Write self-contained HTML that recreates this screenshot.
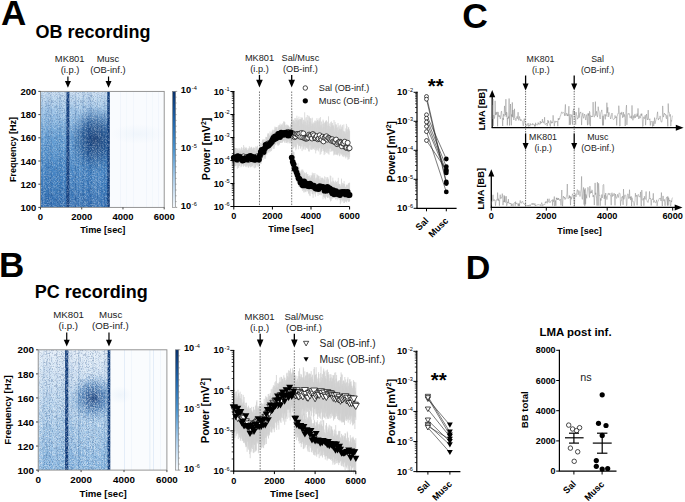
<!DOCTYPE html>
<html><head><meta charset="utf-8"><style>
html,body{margin:0;padding:0;background:#fff;overflow:hidden;}
svg{display:block;font-family:"Liberation Sans", sans-serif;}
</style></head><body>
<svg width="685" height="502" viewBox="0 0 685 502">
<text x="0.9" y="24.8" font-size="35" font-weight="700" text-anchor="start" fill="#000" >A</text>
<text x="-0.9" y="277.4" font-size="35" font-weight="700" text-anchor="start" fill="#000" >B</text>
<text x="462.3" y="27.6" font-size="35.5" font-weight="700" text-anchor="start" fill="#000" >C</text>
<text x="465.8" y="279.3" font-size="34" font-weight="700" text-anchor="start" fill="#000" >D</text>
<text x="35.5" y="38.0" font-size="18" font-weight="700" text-anchor="start" fill="#000" >OB recording</text>
<text x="34.8" y="297.5" font-size="18" font-weight="700" text-anchor="start" fill="#000" >PC recording</text>
<defs><linearGradient id="cbg" x1="0" y1="0" x2="0" y2="1"><stop offset="0" stop-color="#08306b"/><stop offset="0.25" stop-color="#1f63a8"/><stop offset="0.5" stop-color="#4a92cc"/><stop offset="0.75" stop-color="#a9cbe8"/><stop offset="1" stop-color="#f4f8fc"/></linearGradient></defs>
<defs><pattern id="pw1" x="0" y="0" width="23" height="29" patternUnits="userSpaceOnUse"><path d="M13 0h1v1h-1zM18 0h1v1h-1zM20 0h1v1h-1zM7 1h1v1h-1zM20 1h1v1h-1zM13 2h1v1h-1zM14 2h1v1h-1zM17 2h1v1h-1zM16 3h1v1h-1zM16 5h1v1h-1zM21 5h1v1h-1zM0 6h1v1h-1zM8 6h1v1h-1zM16 6h1v1h-1zM0 7h1v1h-1zM15 7h1v1h-1zM15 8h1v1h-1zM9 9h1v1h-1zM12 9h1v1h-1zM4 10h1v1h-1zM6 10h1v1h-1zM7 10h1v1h-1zM14 10h1v1h-1zM22 10h1v1h-1zM5 11h1v1h-1zM11 11h1v1h-1zM14 11h1v1h-1zM19 11h1v1h-1zM6 12h1v1h-1zM7 12h1v1h-1zM14 12h1v1h-1zM18 12h1v1h-1zM19 12h1v1h-1zM20 12h1v1h-1zM6 13h1v1h-1zM7 13h1v1h-1zM14 13h1v1h-1zM19 13h1v1h-1zM21 13h1v1h-1zM1 14h1v1h-1zM4 14h1v1h-1zM8 14h1v1h-1zM17 14h1v1h-1zM2 15h1v1h-1zM3 15h1v1h-1zM6 15h1v1h-1zM7 15h1v1h-1zM10 15h1v1h-1zM12 15h1v1h-1zM4 16h1v1h-1zM5 16h1v1h-1zM7 16h1v1h-1zM10 16h1v1h-1zM9 17h1v1h-1zM13 17h1v1h-1zM14 17h1v1h-1zM22 17h1v1h-1zM1 18h1v1h-1zM2 18h1v1h-1zM10 18h1v1h-1zM13 18h1v1h-1zM2 19h1v1h-1zM2 20h1v1h-1zM12 20h1v1h-1zM22 20h1v1h-1zM2 21h1v1h-1zM15 21h1v1h-1zM16 21h1v1h-1zM17 21h1v1h-1zM5 22h1v1h-1zM6 22h1v1h-1zM18 22h1v1h-1zM5 23h1v1h-1zM6 23h1v1h-1zM16 23h1v1h-1zM19 23h1v1h-1zM2 24h1v1h-1zM8 24h1v1h-1zM22 24h1v1h-1zM0 25h1v1h-1zM3 25h1v1h-1zM7 25h1v1h-1zM10 25h1v1h-1zM17 25h1v1h-1zM10 26h1v1h-1zM19 26h1v1h-1zM7 27h1v1h-1zM8 27h1v1h-1zM19 27h1v1h-1zM22 27h1v1h-1zM7 28h1v1h-1zM9 28h1v1h-1zM19 28h1v1h-1zM22 28h1v1h-1z" fill="#ffffff" fill-opacity="0.06"/><path d="M6 1h1v1h-1zM8 1h1v1h-1zM11 1h1v1h-1zM13 1h1v1h-1zM2 2h1v1h-1zM8 2h1v1h-1zM12 2h1v1h-1zM19 2h1v1h-1zM22 2h1v1h-1zM15 3h1v1h-1zM20 3h1v1h-1zM21 3h1v1h-1zM22 5h1v1h-1zM5 6h1v1h-1zM6 6h1v1h-1zM6 7h1v1h-1zM12 7h1v1h-1zM14 7h1v1h-1zM17 7h1v1h-1zM0 8h1v1h-1zM8 8h1v1h-1zM12 8h1v1h-1zM21 8h1v1h-1zM0 9h1v1h-1zM4 9h1v1h-1zM1 10h1v1h-1zM0 11h1v1h-1zM8 11h1v1h-1zM21 11h1v1h-1zM15 12h1v1h-1zM17 12h1v1h-1zM8 13h1v1h-1zM10 13h1v1h-1zM11 13h1v1h-1zM0 14h1v1h-1zM5 14h1v1h-1zM6 14h1v1h-1zM7 14h1v1h-1zM12 14h1v1h-1zM8 15h1v1h-1zM13 15h1v1h-1zM14 15h1v1h-1zM11 16h1v1h-1zM15 16h1v1h-1zM16 16h1v1h-1zM1 17h1v1h-1zM17 17h1v1h-1zM12 18h1v1h-1zM14 18h1v1h-1zM1 19h1v1h-1zM19 19h1v1h-1zM20 19h1v1h-1zM7 20h1v1h-1zM17 20h1v1h-1zM19 20h1v1h-1zM10 22h1v1h-1zM11 22h1v1h-1zM19 22h1v1h-1zM22 22h1v1h-1zM3 23h1v1h-1zM8 23h1v1h-1zM11 23h1v1h-1zM13 23h1v1h-1zM22 23h1v1h-1zM19 24h1v1h-1zM11 25h1v1h-1zM19 25h1v1h-1zM9 26h1v1h-1zM0 27h1v1h-1zM4 27h1v1h-1zM10 27h1v1h-1zM16 27h1v1h-1zM16 28h1v1h-1zM20 28h1v1h-1z" fill="#ffffff" fill-opacity="0.19"/><path d="M6 0h1v1h-1zM10 0h1v1h-1zM11 0h1v1h-1zM19 1h1v1h-1zM1 3h1v1h-1zM7 3h1v1h-1zM9 3h1v1h-1zM13 3h1v1h-1zM7 4h1v1h-1zM13 4h1v1h-1zM3 5h1v1h-1zM20 5h1v1h-1zM1 6h1v1h-1zM10 6h1v1h-1zM11 6h1v1h-1zM5 7h1v1h-1zM20 7h1v1h-1zM7 8h1v1h-1zM9 8h1v1h-1zM17 8h1v1h-1zM7 9h1v1h-1zM8 9h1v1h-1zM8 10h1v1h-1zM11 10h1v1h-1zM20 10h1v1h-1zM10 12h1v1h-1zM13 12h1v1h-1zM10 14h1v1h-1zM11 14h1v1h-1zM13 14h1v1h-1zM18 14h1v1h-1zM0 15h1v1h-1zM17 16h1v1h-1zM20 16h1v1h-1zM3 17h1v1h-1zM11 17h1v1h-1zM11 18h1v1h-1zM3 19h1v1h-1zM16 19h1v1h-1zM0 21h1v1h-1zM7 21h1v1h-1zM7 22h1v1h-1zM9 23h1v1h-1zM17 23h1v1h-1zM18 23h1v1h-1zM21 23h1v1h-1zM20 24h1v1h-1zM14 25h1v1h-1zM20 25h1v1h-1zM22 25h1v1h-1zM0 26h1v1h-1zM2 26h1v1h-1zM5 26h1v1h-1zM8 26h1v1h-1zM11 26h1v1h-1zM14 26h1v1h-1zM21 26h1v1h-1zM2 27h1v1h-1zM5 27h1v1h-1zM6 27h1v1h-1z" fill="#ffffff" fill-opacity="0.31"/><path d="M17 0h1v1h-1zM1 1h1v1h-1zM10 1h1v1h-1zM14 1h1v1h-1zM20 2h1v1h-1zM3 3h1v1h-1zM6 4h1v1h-1zM14 4h1v1h-1zM18 4h1v1h-1zM6 5h1v1h-1zM12 5h1v1h-1zM17 5h1v1h-1zM18 5h1v1h-1zM2 6h1v1h-1zM3 7h1v1h-1zM2 8h1v1h-1zM3 8h1v1h-1zM16 9h1v1h-1zM21 9h1v1h-1zM3 10h1v1h-1zM12 10h1v1h-1zM16 10h1v1h-1zM2 11h1v1h-1zM4 11h1v1h-1zM10 11h1v1h-1zM18 11h1v1h-1zM20 11h1v1h-1zM3 12h1v1h-1zM3 13h1v1h-1zM4 13h1v1h-1zM20 14h1v1h-1zM6 16h1v1h-1zM21 16h1v1h-1zM6 18h1v1h-1zM15 18h1v1h-1zM22 18h1v1h-1zM7 19h1v1h-1zM21 19h1v1h-1zM8 20h1v1h-1zM10 20h1v1h-1zM13 21h1v1h-1zM12 22h1v1h-1zM13 22h1v1h-1zM0 23h1v1h-1zM4 24h1v1h-1zM21 24h1v1h-1zM15 27h1v1h-1zM2 28h1v1h-1zM3 28h1v1h-1zM10 28h1v1h-1zM13 28h1v1h-1z" fill="#ffffff" fill-opacity="0.44"/><path d="M16 0h1v1h-1zM16 1h1v1h-1zM18 1h1v1h-1zM22 1h1v1h-1zM3 2h1v1h-1zM4 2h1v1h-1zM8 3h1v1h-1zM1 4h1v1h-1zM15 4h1v1h-1zM21 4h1v1h-1zM4 5h1v1h-1zM9 5h1v1h-1zM7 6h1v1h-1zM14 6h1v1h-1zM6 8h1v1h-1zM10 8h1v1h-1zM2 9h1v1h-1zM20 9h1v1h-1zM21 10h1v1h-1zM22 11h1v1h-1zM2 12h1v1h-1zM9 12h1v1h-1zM15 15h1v1h-1zM21 15h1v1h-1zM3 16h1v1h-1zM4 17h1v1h-1zM8 17h1v1h-1zM16 17h1v1h-1zM5 18h1v1h-1zM21 18h1v1h-1zM8 19h1v1h-1zM10 21h1v1h-1zM19 21h1v1h-1zM16 22h1v1h-1zM15 23h1v1h-1zM3 24h1v1h-1zM16 24h1v1h-1zM13 25h1v1h-1zM4 26h1v1h-1zM13 27h1v1h-1zM20 27h1v1h-1zM15 28h1v1h-1zM17 28h1v1h-1z" fill="#ffffff" fill-opacity="0.56"/><path d="M14 0h1v1h-1zM0 1h1v1h-1zM2 1h1v1h-1zM15 1h1v1h-1zM21 1h1v1h-1zM7 2h1v1h-1zM11 2h1v1h-1zM0 3h1v1h-1zM17 3h1v1h-1zM10 4h1v1h-1zM4 6h1v1h-1zM22 6h1v1h-1zM8 7h1v1h-1zM11 7h1v1h-1zM13 7h1v1h-1zM21 7h1v1h-1zM1 8h1v1h-1zM13 8h1v1h-1zM20 8h1v1h-1zM13 10h1v1h-1zM17 10h1v1h-1zM7 11h1v1h-1zM8 12h1v1h-1zM16 12h1v1h-1zM22 12h1v1h-1zM2 13h1v1h-1zM18 13h1v1h-1zM22 13h1v1h-1zM3 14h1v1h-1zM22 16h1v1h-1zM6 17h1v1h-1zM12 17h1v1h-1zM18 17h1v1h-1zM16 18h1v1h-1zM6 19h1v1h-1zM18 19h1v1h-1zM6 20h1v1h-1zM18 20h1v1h-1zM14 22h1v1h-1zM10 24h1v1h-1zM13 24h1v1h-1zM17 24h1v1h-1zM1 25h1v1h-1zM18 27h1v1h-1zM1 28h1v1h-1zM6 28h1v1h-1zM18 28h1v1h-1z" fill="#ffffff" fill-opacity="0.69"/></pattern><pattern id="pw2" x="0" y="0" width="31" height="37" patternUnits="userSpaceOnUse"><path d="M0 0h1v1h-1zM4 0h1v1h-1zM19 0h1v1h-1zM26 0h1v1h-1zM3 1h1v1h-1zM13 1h1v1h-1zM15 1h1v1h-1zM3 2h1v1h-1zM14 2h1v1h-1zM18 2h1v1h-1zM26 3h1v1h-1zM14 4h1v1h-1zM0 5h1v1h-1zM1 5h1v1h-1zM2 5h1v1h-1zM3 5h1v1h-1zM6 5h1v1h-1zM2 6h1v1h-1zM4 6h1v1h-1zM5 6h1v1h-1zM7 6h1v1h-1zM12 6h1v1h-1zM13 6h1v1h-1zM17 7h1v1h-1zM14 8h1v1h-1zM17 8h1v1h-1zM8 9h1v1h-1zM16 9h1v1h-1zM29 9h1v1h-1zM2 10h1v1h-1zM5 10h1v1h-1zM11 10h1v1h-1zM12 10h1v1h-1zM23 10h1v1h-1zM25 10h1v1h-1zM5 11h1v1h-1zM7 11h1v1h-1zM20 11h1v1h-1zM5 12h1v1h-1zM8 12h1v1h-1zM9 12h1v1h-1zM17 14h1v1h-1zM26 14h1v1h-1zM27 14h1v1h-1zM3 15h1v1h-1zM23 15h1v1h-1zM7 16h1v1h-1zM8 16h1v1h-1zM15 16h1v1h-1zM15 17h1v1h-1zM24 17h1v1h-1zM0 18h1v1h-1zM1 18h1v1h-1zM26 18h1v1h-1zM29 18h1v1h-1zM19 19h1v1h-1zM6 20h1v1h-1zM8 20h1v1h-1zM12 20h1v1h-1zM16 20h1v1h-1zM3 21h1v1h-1zM26 21h1v1h-1zM10 22h1v1h-1zM12 22h1v1h-1zM24 22h1v1h-1zM0 23h1v1h-1zM9 23h1v1h-1zM14 23h1v1h-1zM27 23h1v1h-1zM0 24h1v1h-1zM7 25h1v1h-1zM10 25h1v1h-1zM11 25h1v1h-1zM13 25h1v1h-1zM26 25h1v1h-1zM1 27h1v1h-1zM3 27h1v1h-1zM5 27h1v1h-1zM15 27h1v1h-1zM27 27h1v1h-1zM0 28h1v1h-1zM24 28h1v1h-1zM10 29h1v1h-1zM11 29h1v1h-1zM19 29h1v1h-1zM20 29h1v1h-1zM1 30h1v1h-1zM6 30h1v1h-1zM15 30h1v1h-1zM21 30h1v1h-1zM0 31h1v1h-1zM3 32h1v1h-1zM8 32h1v1h-1zM19 32h1v1h-1zM10 33h1v1h-1zM12 33h1v1h-1zM13 33h1v1h-1zM25 33h1v1h-1zM8 34h1v1h-1zM24 34h1v1h-1zM0 35h1v1h-1zM14 35h1v1h-1zM5 36h1v1h-1zM26 36h1v1h-1z" fill="#ffffff" fill-opacity="0.04"/><path d="M10 0h1v1h-1zM20 0h1v1h-1zM7 1h1v1h-1zM24 2h1v1h-1zM1 3h1v1h-1zM1 4h1v1h-1zM12 4h1v1h-1zM28 5h1v1h-1zM25 6h1v1h-1zM11 7h1v1h-1zM14 7h1v1h-1zM15 7h1v1h-1zM19 7h1v1h-1zM26 7h1v1h-1zM27 7h1v1h-1zM9 8h1v1h-1zM21 8h1v1h-1zM24 9h1v1h-1zM4 10h1v1h-1zM15 10h1v1h-1zM26 10h1v1h-1zM1 11h1v1h-1zM8 11h1v1h-1zM30 11h1v1h-1zM12 12h1v1h-1zM15 12h1v1h-1zM19 14h1v1h-1zM25 14h1v1h-1zM30 14h1v1h-1zM12 15h1v1h-1zM17 15h1v1h-1zM0 16h1v1h-1zM11 16h1v1h-1zM25 16h1v1h-1zM10 17h1v1h-1zM14 17h1v1h-1zM17 17h1v1h-1zM11 18h1v1h-1zM28 18h1v1h-1zM13 19h1v1h-1zM24 20h1v1h-1zM4 21h1v1h-1zM9 21h1v1h-1zM23 21h1v1h-1zM30 21h1v1h-1zM13 22h1v1h-1zM4 23h1v1h-1zM19 23h1v1h-1zM20 23h1v1h-1zM26 23h1v1h-1zM30 23h1v1h-1zM16 24h1v1h-1zM21 25h1v1h-1zM29 25h1v1h-1zM3 26h1v1h-1zM5 26h1v1h-1zM17 26h1v1h-1zM27 26h1v1h-1zM17 29h1v1h-1zM3 30h1v1h-1zM7 30h1v1h-1zM24 30h1v1h-1zM8 31h1v1h-1zM17 31h1v1h-1zM17 32h1v1h-1zM20 33h1v1h-1zM10 34h1v1h-1zM2 35h1v1h-1zM4 35h1v1h-1zM8 36h1v1h-1zM12 36h1v1h-1zM16 36h1v1h-1zM28 36h1v1h-1z" fill="#ffffff" fill-opacity="0.12"/><path d="M2 1h1v1h-1zM12 1h1v1h-1zM21 1h1v1h-1zM25 1h1v1h-1zM28 1h1v1h-1zM11 2h1v1h-1zM19 2h1v1h-1zM3 3h1v1h-1zM20 3h1v1h-1zM24 3h1v1h-1zM16 4h1v1h-1zM10 5h1v1h-1zM13 5h1v1h-1zM0 6h1v1h-1zM6 6h1v1h-1zM22 6h1v1h-1zM27 6h1v1h-1zM4 7h1v1h-1zM8 7h1v1h-1zM30 7h1v1h-1zM7 8h1v1h-1zM12 8h1v1h-1zM20 8h1v1h-1zM28 8h1v1h-1zM19 9h1v1h-1zM27 9h1v1h-1zM28 9h1v1h-1zM1 10h1v1h-1zM24 10h1v1h-1zM24 11h1v1h-1zM27 11h1v1h-1zM3 12h1v1h-1zM7 12h1v1h-1zM18 12h1v1h-1zM27 12h1v1h-1zM9 13h1v1h-1zM25 13h1v1h-1zM0 14h1v1h-1zM16 14h1v1h-1zM2 15h1v1h-1zM5 15h1v1h-1zM30 15h1v1h-1zM12 16h1v1h-1zM22 16h1v1h-1zM26 16h1v1h-1zM27 16h1v1h-1zM16 17h1v1h-1zM4 18h1v1h-1zM9 18h1v1h-1zM25 18h1v1h-1zM0 19h1v1h-1zM14 21h1v1h-1zM15 22h1v1h-1zM11 23h1v1h-1zM25 23h1v1h-1zM2 24h1v1h-1zM19 24h1v1h-1zM20 25h1v1h-1zM30 25h1v1h-1zM10 26h1v1h-1zM12 26h1v1h-1zM14 26h1v1h-1zM20 26h1v1h-1zM24 26h1v1h-1zM30 26h1v1h-1zM13 27h1v1h-1zM9 28h1v1h-1zM10 28h1v1h-1zM18 28h1v1h-1zM0 29h1v1h-1zM2 29h1v1h-1zM4 30h1v1h-1zM12 30h1v1h-1zM26 30h1v1h-1zM2 32h1v1h-1zM8 33h1v1h-1zM9 33h1v1h-1zM17 33h1v1h-1zM19 33h1v1h-1zM23 33h1v1h-1zM30 33h1v1h-1zM0 34h1v1h-1zM9 34h1v1h-1zM13 34h1v1h-1zM22 34h1v1h-1zM7 36h1v1h-1z" fill="#ffffff" fill-opacity="0.21"/><path d="M22 0h1v1h-1zM0 1h1v1h-1zM30 1h1v1h-1zM22 2h1v1h-1zM23 2h1v1h-1zM27 2h1v1h-1zM6 3h1v1h-1zM0 4h1v1h-1zM2 4h1v1h-1zM8 4h1v1h-1zM29 5h1v1h-1zM28 6h1v1h-1zM3 7h1v1h-1zM5 7h1v1h-1zM13 7h1v1h-1zM20 7h1v1h-1zM23 7h1v1h-1zM19 8h1v1h-1zM29 8h1v1h-1zM12 9h1v1h-1zM22 10h1v1h-1zM2 11h1v1h-1zM6 11h1v1h-1zM9 11h1v1h-1zM13 11h1v1h-1zM20 12h1v1h-1zM29 12h1v1h-1zM30 12h1v1h-1zM6 13h1v1h-1zM21 14h1v1h-1zM0 15h1v1h-1zM10 16h1v1h-1zM18 16h1v1h-1zM10 18h1v1h-1zM12 18h1v1h-1zM5 19h1v1h-1zM11 19h1v1h-1zM20 19h1v1h-1zM14 20h1v1h-1zM2 21h1v1h-1zM20 21h1v1h-1zM24 21h1v1h-1zM7 22h1v1h-1zM17 22h1v1h-1zM13 23h1v1h-1zM18 24h1v1h-1zM1 25h1v1h-1zM6 26h1v1h-1zM29 26h1v1h-1zM8 27h1v1h-1zM19 27h1v1h-1zM13 28h1v1h-1zM17 28h1v1h-1zM5 29h1v1h-1zM7 29h1v1h-1zM21 29h1v1h-1zM20 31h1v1h-1zM11 32h1v1h-1zM12 32h1v1h-1zM0 33h1v1h-1zM27 33h1v1h-1zM7 34h1v1h-1zM18 34h1v1h-1zM21 34h1v1h-1zM7 35h1v1h-1zM16 35h1v1h-1zM29 36h1v1h-1z" fill="#ffffff" fill-opacity="0.29"/><path d="M25 0h1v1h-1zM4 1h1v1h-1zM20 1h1v1h-1zM1 2h1v1h-1zM10 2h1v1h-1zM25 2h1v1h-1zM26 2h1v1h-1zM10 3h1v1h-1zM15 3h1v1h-1zM21 3h1v1h-1zM29 3h1v1h-1zM7 4h1v1h-1zM15 4h1v1h-1zM21 4h1v1h-1zM5 5h1v1h-1zM30 6h1v1h-1zM1 7h1v1h-1zM0 9h1v1h-1zM3 9h1v1h-1zM5 9h1v1h-1zM13 10h1v1h-1zM11 11h1v1h-1zM23 11h1v1h-1zM8 13h1v1h-1zM18 13h1v1h-1zM20 13h1v1h-1zM4 14h1v1h-1zM28 14h1v1h-1zM29 15h1v1h-1zM13 16h1v1h-1zM5 18h1v1h-1zM10 19h1v1h-1zM29 19h1v1h-1zM21 20h1v1h-1zM17 21h1v1h-1zM25 21h1v1h-1zM4 22h1v1h-1zM22 23h1v1h-1zM3 24h1v1h-1zM4 24h1v1h-1zM12 24h1v1h-1zM8 25h1v1h-1zM12 25h1v1h-1zM15 25h1v1h-1zM4 28h1v1h-1zM23 28h1v1h-1zM8 29h1v1h-1zM9 29h1v1h-1zM25 29h1v1h-1zM20 30h1v1h-1zM5 32h1v1h-1zM29 32h1v1h-1zM1 33h1v1h-1zM7 33h1v1h-1zM1 35h1v1h-1zM22 35h1v1h-1zM27 35h1v1h-1zM3 36h1v1h-1z" fill="#ffffff" fill-opacity="0.38"/><path d="M30 0h1v1h-1zM8 1h1v1h-1zM22 1h1v1h-1zM17 2h1v1h-1zM9 3h1v1h-1zM29 4h1v1h-1zM11 6h1v1h-1zM18 7h1v1h-1zM22 7h1v1h-1zM30 8h1v1h-1zM26 9h1v1h-1zM3 10h1v1h-1zM12 11h1v1h-1zM16 12h1v1h-1zM15 14h1v1h-1zM9 15h1v1h-1zM10 15h1v1h-1zM21 15h1v1h-1zM27 15h1v1h-1zM19 16h1v1h-1zM1 17h1v1h-1zM5 17h1v1h-1zM6 17h1v1h-1zM23 17h1v1h-1zM7 18h1v1h-1zM4 19h1v1h-1zM7 19h1v1h-1zM14 19h1v1h-1zM0 20h1v1h-1zM0 22h1v1h-1zM1 22h1v1h-1zM27 22h1v1h-1zM7 23h1v1h-1zM18 23h1v1h-1zM7 24h1v1h-1zM13 24h1v1h-1zM9 27h1v1h-1zM15 28h1v1h-1zM27 28h1v1h-1zM15 29h1v1h-1zM22 29h1v1h-1zM26 29h1v1h-1zM2 30h1v1h-1zM13 30h1v1h-1zM28 30h1v1h-1zM2 31h1v1h-1zM27 32h1v1h-1zM4 33h1v1h-1zM14 33h1v1h-1zM15 33h1v1h-1zM26 33h1v1h-1zM3 35h1v1h-1zM24 35h1v1h-1z" fill="#ffffff" fill-opacity="0.46"/></pattern><pattern id="pd1" x="0" y="0" width="29" height="31" patternUnits="userSpaceOnUse"><path d="M6 0h1v1h-1zM7 0h1v1h-1zM17 0h1v1h-1zM4 1h1v1h-1zM10 1h1v1h-1zM15 1h1v1h-1zM17 1h1v1h-1zM20 1h1v1h-1zM23 1h1v1h-1zM8 2h1v1h-1zM18 2h1v1h-1zM20 2h1v1h-1zM16 3h1v1h-1zM7 4h1v1h-1zM14 4h1v1h-1zM16 4h1v1h-1zM18 4h1v1h-1zM21 4h1v1h-1zM22 4h1v1h-1zM25 4h1v1h-1zM27 4h1v1h-1zM12 5h1v1h-1zM20 5h1v1h-1zM25 5h1v1h-1zM0 7h1v1h-1zM4 7h1v1h-1zM20 7h1v1h-1zM28 7h1v1h-1zM0 8h1v1h-1zM9 8h1v1h-1zM17 8h1v1h-1zM11 9h1v1h-1zM0 10h1v1h-1zM26 10h1v1h-1zM7 11h1v1h-1zM15 11h1v1h-1zM22 11h1v1h-1zM8 12h1v1h-1zM13 12h1v1h-1zM14 12h1v1h-1zM15 12h1v1h-1zM11 13h1v1h-1zM12 13h1v1h-1zM13 13h1v1h-1zM15 13h1v1h-1zM2 14h1v1h-1zM12 14h1v1h-1zM24 14h1v1h-1zM6 15h1v1h-1zM19 15h1v1h-1zM22 15h1v1h-1zM28 15h1v1h-1zM0 16h1v1h-1zM1 16h1v1h-1zM8 16h1v1h-1zM9 16h1v1h-1zM20 16h1v1h-1zM21 16h1v1h-1zM23 16h1v1h-1zM5 17h1v1h-1zM10 17h1v1h-1zM12 17h1v1h-1zM18 17h1v1h-1zM25 17h1v1h-1zM0 18h1v1h-1zM4 18h1v1h-1zM13 18h1v1h-1zM10 19h1v1h-1zM11 19h1v1h-1zM16 19h1v1h-1zM6 20h1v1h-1zM11 20h1v1h-1zM18 20h1v1h-1zM19 20h1v1h-1zM3 21h1v1h-1zM26 21h1v1h-1zM1 22h1v1h-1zM19 22h1v1h-1zM25 22h1v1h-1zM5 23h1v1h-1zM10 23h1v1h-1zM19 23h1v1h-1zM24 23h1v1h-1zM27 23h1v1h-1zM0 24h1v1h-1zM2 24h1v1h-1zM19 24h1v1h-1zM6 25h1v1h-1zM14 25h1v1h-1zM17 25h1v1h-1zM3 26h1v1h-1zM17 26h1v1h-1zM1 27h1v1h-1zM19 27h1v1h-1zM4 28h1v1h-1zM8 28h1v1h-1zM21 28h1v1h-1zM4 29h1v1h-1zM5 29h1v1h-1zM15 29h1v1h-1z" fill="#0a2f66" fill-opacity="0.04"/><path d="M11 0h1v1h-1zM12 0h1v1h-1zM13 0h1v1h-1zM23 0h1v1h-1zM26 0h1v1h-1zM27 0h1v1h-1zM2 1h1v1h-1zM7 1h1v1h-1zM16 1h1v1h-1zM22 1h1v1h-1zM15 2h1v1h-1zM16 2h1v1h-1zM12 3h1v1h-1zM23 3h1v1h-1zM17 4h1v1h-1zM9 5h1v1h-1zM11 5h1v1h-1zM23 5h1v1h-1zM14 6h1v1h-1zM21 6h1v1h-1zM9 7h1v1h-1zM10 9h1v1h-1zM12 9h1v1h-1zM20 9h1v1h-1zM15 10h1v1h-1zM12 11h1v1h-1zM27 11h1v1h-1zM5 13h1v1h-1zM14 13h1v1h-1zM28 13h1v1h-1zM14 15h1v1h-1zM17 15h1v1h-1zM13 16h1v1h-1zM13 17h1v1h-1zM6 18h1v1h-1zM8 18h1v1h-1zM14 18h1v1h-1zM9 19h1v1h-1zM20 19h1v1h-1zM3 20h1v1h-1zM1 21h1v1h-1zM4 21h1v1h-1zM14 22h1v1h-1zM9 24h1v1h-1zM8 25h1v1h-1zM11 25h1v1h-1zM23 25h1v1h-1zM26 25h1v1h-1zM10 26h1v1h-1zM14 26h1v1h-1zM18 26h1v1h-1zM26 26h1v1h-1zM25 27h1v1h-1zM7 28h1v1h-1zM14 28h1v1h-1zM25 28h1v1h-1zM8 29h1v1h-1zM12 29h1v1h-1zM19 29h1v1h-1zM20 30h1v1h-1z" fill="#0a2f66" fill-opacity="0.11"/><path d="M14 0h1v1h-1zM19 0h1v1h-1zM0 1h1v1h-1zM24 1h1v1h-1zM26 1h1v1h-1zM7 2h1v1h-1zM13 2h1v1h-1zM25 2h1v1h-1zM3 3h1v1h-1zM17 3h1v1h-1zM27 3h1v1h-1zM10 4h1v1h-1zM0 5h1v1h-1zM1 5h1v1h-1zM23 7h1v1h-1zM24 7h1v1h-1zM26 7h1v1h-1zM15 8h1v1h-1zM19 8h1v1h-1zM25 8h1v1h-1zM8 9h1v1h-1zM6 10h1v1h-1zM28 10h1v1h-1zM11 11h1v1h-1zM23 11h1v1h-1zM18 12h1v1h-1zM1 13h1v1h-1zM4 14h1v1h-1zM27 15h1v1h-1zM11 16h1v1h-1zM24 16h1v1h-1zM0 17h1v1h-1zM2 17h1v1h-1zM8 17h1v1h-1zM19 17h1v1h-1zM1 18h1v1h-1zM20 18h1v1h-1zM18 19h1v1h-1zM2 20h1v1h-1zM8 20h1v1h-1zM28 20h1v1h-1zM16 21h1v1h-1zM19 21h1v1h-1zM23 21h1v1h-1zM28 21h1v1h-1zM9 23h1v1h-1zM23 23h1v1h-1zM4 24h1v1h-1zM7 24h1v1h-1zM14 24h1v1h-1zM17 24h1v1h-1zM13 25h1v1h-1zM16 25h1v1h-1zM21 25h1v1h-1zM5 26h1v1h-1zM8 26h1v1h-1zM21 26h1v1h-1zM9 28h1v1h-1zM7 29h1v1h-1zM21 30h1v1h-1z" fill="#0a2f66" fill-opacity="0.19"/><path d="M4 0h1v1h-1zM1 1h1v1h-1zM11 1h1v1h-1zM2 2h1v1h-1zM12 2h1v1h-1zM26 2h1v1h-1zM14 3h1v1h-1zM25 3h1v1h-1zM5 4h1v1h-1zM20 4h1v1h-1zM28 4h1v1h-1zM18 5h1v1h-1zM28 5h1v1h-1zM2 6h1v1h-1zM13 6h1v1h-1zM27 6h1v1h-1zM6 8h1v1h-1zM11 8h1v1h-1zM13 8h1v1h-1zM17 9h1v1h-1zM23 9h1v1h-1zM10 10h1v1h-1zM1 11h1v1h-1zM4 11h1v1h-1zM10 11h1v1h-1zM17 11h1v1h-1zM6 12h1v1h-1zM9 12h1v1h-1zM12 12h1v1h-1zM17 13h1v1h-1zM25 13h1v1h-1zM11 14h1v1h-1zM26 14h1v1h-1zM0 15h1v1h-1zM5 15h1v1h-1zM13 15h1v1h-1zM18 15h1v1h-1zM20 15h1v1h-1zM22 16h1v1h-1zM9 17h1v1h-1zM27 17h1v1h-1zM11 18h1v1h-1zM22 18h1v1h-1zM1 20h1v1h-1zM4 20h1v1h-1zM22 20h1v1h-1zM12 21h1v1h-1zM14 21h1v1h-1zM20 21h1v1h-1zM25 21h1v1h-1zM8 23h1v1h-1zM12 24h1v1h-1zM16 24h1v1h-1zM6 26h1v1h-1zM7 26h1v1h-1zM19 26h1v1h-1zM3 27h1v1h-1zM4 27h1v1h-1zM8 27h1v1h-1zM6 28h1v1h-1zM2 29h1v1h-1zM3 29h1v1h-1zM6 30h1v1h-1zM11 30h1v1h-1zM15 30h1v1h-1zM18 30h1v1h-1zM24 30h1v1h-1z" fill="#0a2f66" fill-opacity="0.26"/><path d="M9 0h1v1h-1zM27 1h1v1h-1zM3 2h1v1h-1zM5 2h1v1h-1zM14 2h1v1h-1zM21 2h1v1h-1zM8 3h1v1h-1zM12 4h1v1h-1zM13 4h1v1h-1zM6 5h1v1h-1zM14 5h1v1h-1zM21 5h1v1h-1zM3 7h1v1h-1zM5 7h1v1h-1zM13 7h1v1h-1zM19 7h1v1h-1zM3 8h1v1h-1zM22 8h1v1h-1zM26 8h1v1h-1zM27 9h1v1h-1zM3 10h1v1h-1zM16 10h1v1h-1zM17 10h1v1h-1zM8 11h1v1h-1zM21 11h1v1h-1zM3 12h1v1h-1zM5 12h1v1h-1zM17 12h1v1h-1zM9 13h1v1h-1zM13 14h1v1h-1zM6 16h1v1h-1zM28 16h1v1h-1zM3 17h1v1h-1zM4 17h1v1h-1zM16 17h1v1h-1zM22 17h1v1h-1zM22 19h1v1h-1zM26 19h1v1h-1zM28 19h1v1h-1zM4 22h1v1h-1zM17 22h1v1h-1zM20 22h1v1h-1zM21 22h1v1h-1zM24 22h1v1h-1zM27 22h1v1h-1zM17 23h1v1h-1zM28 23h1v1h-1zM22 25h1v1h-1zM24 25h1v1h-1zM28 25h1v1h-1zM27 26h1v1h-1zM5 27h1v1h-1zM9 27h1v1h-1zM21 27h1v1h-1zM1 28h1v1h-1zM15 28h1v1h-1zM1 29h1v1h-1zM17 29h1v1h-1zM22 30h1v1h-1zM26 30h1v1h-1z" fill="#0a2f66" fill-opacity="0.34"/><path d="M20 0h1v1h-1zM4 2h1v1h-1zM4 3h1v1h-1zM6 3h1v1h-1zM1 4h1v1h-1zM2 4h1v1h-1zM2 5h1v1h-1zM15 5h1v1h-1zM6 6h1v1h-1zM20 6h1v1h-1zM8 7h1v1h-1zM22 7h1v1h-1zM1 8h1v1h-1zM5 8h1v1h-1zM16 8h1v1h-1zM20 8h1v1h-1zM23 8h1v1h-1zM7 9h1v1h-1zM22 9h1v1h-1zM24 9h1v1h-1zM8 10h1v1h-1zM19 12h1v1h-1zM20 12h1v1h-1zM23 12h1v1h-1zM27 12h1v1h-1zM3 13h1v1h-1zM16 13h1v1h-1zM26 13h1v1h-1zM27 13h1v1h-1zM8 14h1v1h-1zM20 14h1v1h-1zM25 14h1v1h-1zM27 14h1v1h-1zM1 15h1v1h-1zM2 15h1v1h-1zM4 15h1v1h-1zM12 15h1v1h-1zM6 17h1v1h-1zM18 18h1v1h-1zM5 19h1v1h-1zM6 19h1v1h-1zM17 20h1v1h-1zM15 21h1v1h-1zM17 21h1v1h-1zM27 21h1v1h-1zM7 22h1v1h-1zM8 22h1v1h-1zM1 23h1v1h-1zM21 23h1v1h-1zM2 25h1v1h-1zM0 26h1v1h-1zM1 26h1v1h-1zM15 26h1v1h-1zM23 27h1v1h-1zM11 28h1v1h-1zM20 28h1v1h-1zM23 28h1v1h-1zM0 30h1v1h-1zM7 30h1v1h-1z" fill="#0a2f66" fill-opacity="0.41"/></pattern></defs>
<defs><clipPath id="clipA"><rect x="40.5" y="91.4" width="123.70" height="116.00"/></clipPath><clipPath id="clipbA"><rect x="40.5" y="91.4" width="68.03" height="116.00"/></clipPath><linearGradient id="vgA" x1="0" y1="0" x2="0" y2="1"><stop offset="0" stop-color="#c8ddf1"/><stop offset="0.15" stop-color="#a0c5e7"/><stop offset="0.4" stop-color="#659fd4"/><stop offset="0.7" stop-color="#4383c3"/><stop offset="1" stop-color="#3470b3"/></linearGradient><radialGradient id="rgA" cx="0.5" cy="0.5" r="0.5"><stop offset="0" stop-color="#0e336c" stop-opacity="0.97"/><stop offset="0.5" stop-color="#184a88" stop-opacity="0.72"/><stop offset="1" stop-color="#2a64a3" stop-opacity="0"/></radialGradient><radialGradient id="hzA" cx="0.5" cy="0.5" r="0.5"><stop offset="0" stop-color="#9ec4e6" stop-opacity="0.1"/><stop offset="1" stop-color="#9ec4e6" stop-opacity="0"/></radialGradient><filter id="nzA" filterUnits="userSpaceOnUse" x="40.5" y="91.4" width="123.69999999999999" height="116.0"><feTurbulence type="fractalNoise" baseFrequency="1.1 0.55" numOctaves="2" seed="3" result="t"/><feColorMatrix in="t" type="matrix" values="0 0 0 0 0.88  0 0 0 0 0.93  0 0 0 0 0.98  -2.0 0 0 0 1.0"/><feComposite in2="SourceGraphic" operator="in"/></filter><filter id="ndA" filterUnits="userSpaceOnUse" x="40.5" y="91.4" width="123.69999999999999" height="116.0"><feTurbulence type="fractalNoise" baseFrequency="1.1 0.6" numOctaves="2" seed="8" result="t"/><feColorMatrix in="t" type="matrix" values="0 0 0 0 0.08  0 0 0 0 0.27  0 0 0 0 0.55  2.2 0 0 0 -1.2"/><feComposite in2="SourceGraphic" operator="in"/></filter></defs>
<g clip-path="url(#clipA)">
<rect x="40.5" y="91.4" width="68.03" height="116.00" fill="url(#vgA)"/>
<rect x="108.53" y="91.4" width="55.66" height="116.00" fill="#f9fbfe"/>
<ellipse cx="95" cy="140" rx="26" ry="34" fill="url(#rgA)" clip-path="url(#clipbA)"/>
<rect x="40.5" y="91.4" width="0.9" height="116.0" fill="#0b3a78" opacity="0.08"/>
<rect x="41.4" y="91.4" width="1.2" height="116.0" fill="#0b3a78" opacity="0.05"/>
<rect x="43.3" y="91.4" width="0.9" height="116.0" fill="#ffffff" opacity="0.14"/>
<rect x="45.3" y="91.4" width="1.1" height="116.0" fill="#0b3a78" opacity="0.06"/>
<rect x="47.6" y="91.4" width="1.1" height="116.0" fill="#0b3a78" opacity="0.12"/>
<rect x="48.7" y="91.4" width="0.8" height="116.0" fill="#0b3a78" opacity="0.11"/>
<rect x="49.4" y="91.4" width="0.9" height="116.0" fill="#ffffff" opacity="0.12"/>
<rect x="50.4" y="91.4" width="1.1" height="116.0" fill="#0b3a78" opacity="0.15"/>
<rect x="54.8" y="91.4" width="1.4" height="116.0" fill="#ffffff" opacity="0.04"/>
<rect x="57.1" y="91.4" width="1.0" height="116.0" fill="#0b3a78" opacity="0.08"/>
<rect x="58.1" y="91.4" width="1.1" height="116.0" fill="#ffffff" opacity="0.07"/>
<rect x="59.2" y="91.4" width="1.2" height="116.0" fill="#0b3a78" opacity="0.15"/>
<rect x="63.0" y="91.4" width="1.2" height="116.0" fill="#ffffff" opacity="0.12"/>
<rect x="65.7" y="91.4" width="1.2" height="116.0" fill="#0b3a78" opacity="0.07"/>
<rect x="66.9" y="91.4" width="1.4" height="116.0" fill="#0b3a78" opacity="0.07"/>
<rect x="69.0" y="91.4" width="1.5" height="116.0" fill="#ffffff" opacity="0.12"/>
<rect x="70.5" y="91.4" width="1.0" height="116.0" fill="#ffffff" opacity="0.06"/>
<rect x="72.8" y="91.4" width="0.7" height="116.0" fill="#0b3a78" opacity="0.05"/>
<rect x="73.6" y="91.4" width="1.3" height="116.0" fill="#ffffff" opacity="0.13"/>
<rect x="74.8" y="91.4" width="1.5" height="116.0" fill="#0b3a78" opacity="0.16"/>
<rect x="76.3" y="91.4" width="0.9" height="116.0" fill="#ffffff" opacity="0.09"/>
<rect x="77.3" y="91.4" width="0.7" height="116.0" fill="#ffffff" opacity="0.07"/>
<rect x="78.0" y="91.4" width="1.2" height="116.0" fill="#ffffff" opacity="0.03"/>
<rect x="79.2" y="91.4" width="1.4" height="116.0" fill="#ffffff" opacity="0.13"/>
<rect x="80.6" y="91.4" width="1.4" height="116.0" fill="#ffffff" opacity="0.08"/>
<rect x="82.0" y="91.4" width="1.1" height="116.0" fill="#0b3a78" opacity="0.11"/>
<rect x="83.1" y="91.4" width="1.1" height="116.0" fill="#0b3a78" opacity="0.15"/>
<rect x="84.3" y="91.4" width="1.1" height="116.0" fill="#ffffff" opacity="0.11"/>
<rect x="85.4" y="91.4" width="0.9" height="116.0" fill="#ffffff" opacity="0.14"/>
<rect x="86.3" y="91.4" width="1.1" height="116.0" fill="#0b3a78" opacity="0.04"/>
<rect x="87.4" y="91.4" width="1.0" height="116.0" fill="#0b3a78" opacity="0.04"/>
<rect x="88.4" y="91.4" width="1.2" height="116.0" fill="#0b3a78" opacity="0.05"/>
<rect x="89.6" y="91.4" width="1.2" height="116.0" fill="#0b3a78" opacity="0.12"/>
<rect x="90.8" y="91.4" width="1.0" height="116.0" fill="#0b3a78" opacity="0.13"/>
<rect x="91.8" y="91.4" width="0.7" height="116.0" fill="#ffffff" opacity="0.10"/>
<rect x="92.5" y="91.4" width="1.5" height="116.0" fill="#ffffff" opacity="0.08"/>
<rect x="94.0" y="91.4" width="1.2" height="116.0" fill="#ffffff" opacity="0.07"/>
<rect x="95.1" y="91.4" width="1.0" height="116.0" fill="#ffffff" opacity="0.09"/>
<rect x="96.1" y="91.4" width="0.9" height="116.0" fill="#ffffff" opacity="0.11"/>
<rect x="97.0" y="91.4" width="0.7" height="116.0" fill="#0b3a78" opacity="0.13"/>
<rect x="97.8" y="91.4" width="0.9" height="116.0" fill="#ffffff" opacity="0.12"/>
<rect x="98.7" y="91.4" width="0.9" height="116.0" fill="#ffffff" opacity="0.08"/>
<rect x="99.6" y="91.4" width="1.3" height="116.0" fill="#ffffff" opacity="0.06"/>
<rect x="102.9" y="91.4" width="0.8" height="116.0" fill="#ffffff" opacity="0.10"/>
<rect x="103.7" y="91.4" width="1.4" height="116.0" fill="#0b3a78" opacity="0.07"/>
<rect x="105.1" y="91.4" width="0.8" height="116.0" fill="#0b3a78" opacity="0.06"/>
<rect x="107.3" y="91.4" width="0.8" height="116.0" fill="#ffffff" opacity="0.12"/>
<rect x="66.42" y="91.4" width="3.0" height="116.00" fill="#143f7e"/>
<rect x="107.28" y="91.4" width="2.5" height="116.00" fill="#0d3a78"/>
<rect x="40.5" y="91.4" width="69.28" height="116.00" fill="url(#pw1)" opacity="0.34"/>
<rect x="40.5" y="91.4" width="69.28" height="116.00" fill="url(#pw2)" opacity="0.34"/>
<rect x="40.5" y="91.4" width="69.28" height="116.00" fill="url(#pd1)" opacity="0.5"/>
<ellipse cx="138" cy="134" rx="28" ry="10" fill="url(#hzA)"/>
<rect x="120.0" y="91.4" width="0.9" height="116.00" fill="#7aa9d6" opacity="0.07"/>
<rect x="126.0" y="91.4" width="0.9" height="116.00" fill="#7aa9d6" opacity="0.05"/>
<rect x="133.0" y="91.4" width="0.9" height="116.00" fill="#7aa9d6" opacity="0.06"/>
<rect x="146.0" y="91.4" width="0.9" height="116.00" fill="#7aa9d6" opacity="0.07"/>
<rect x="152.0" y="91.4" width="0.9" height="116.00" fill="#7aa9d6" opacity="0.05"/>
<rect x="158.0" y="91.4" width="0.9" height="116.00" fill="#7aa9d6" opacity="0.07"/>
</g>
<rect x="40.5" y="91.4" width="123.70" height="116.00" fill="none" stroke="#8a8a8a" stroke-width="0.9"/>
<line x1="38.30" y1="91.40" x2="40.50" y2="91.40" stroke="#333" stroke-width="0.9" />
<text x="36.3" y="95.0" font-size="8.6" font-weight="700" text-anchor="end" fill="#000" textLength="15.8" lengthAdjust="spacingAndGlyphs">200</text>
<line x1="38.30" y1="114.60" x2="40.50" y2="114.60" stroke="#333" stroke-width="0.9" />
<text x="36.3" y="118.2" font-size="8.6" font-weight="700" text-anchor="end" fill="#000" textLength="15.8" lengthAdjust="spacingAndGlyphs">180</text>
<line x1="38.30" y1="137.80" x2="40.50" y2="137.80" stroke="#333" stroke-width="0.9" />
<text x="36.3" y="141.4" font-size="8.6" font-weight="700" text-anchor="end" fill="#000" textLength="15.8" lengthAdjust="spacingAndGlyphs">160</text>
<line x1="38.30" y1="161.00" x2="40.50" y2="161.00" stroke="#333" stroke-width="0.9" />
<text x="36.3" y="164.6" font-size="8.6" font-weight="700" text-anchor="end" fill="#000" textLength="15.8" lengthAdjust="spacingAndGlyphs">140</text>
<line x1="38.30" y1="184.20" x2="40.50" y2="184.20" stroke="#333" stroke-width="0.9" />
<text x="36.3" y="187.8" font-size="8.6" font-weight="700" text-anchor="end" fill="#000" textLength="15.8" lengthAdjust="spacingAndGlyphs">120</text>
<line x1="38.30" y1="207.40" x2="40.50" y2="207.40" stroke="#333" stroke-width="0.9" />
<text x="36.3" y="211.0" font-size="8.6" font-weight="700" text-anchor="end" fill="#000" textLength="15.8" lengthAdjust="spacingAndGlyphs">100</text>
<line x1="40.50" y1="207.40" x2="40.50" y2="209.40" stroke="#333" stroke-width="0.9" />
<text x="40.5" y="220.0" font-size="8.6" font-weight="700" text-anchor="middle" fill="#000" textLength="5.3" lengthAdjust="spacingAndGlyphs">0</text>
<line x1="81.73" y1="207.40" x2="81.73" y2="209.40" stroke="#333" stroke-width="0.9" />
<text x="81.7" y="220.0" font-size="8.6" font-weight="700" text-anchor="middle" fill="#000" textLength="21.0" lengthAdjust="spacingAndGlyphs">2000</text>
<line x1="122.97" y1="207.40" x2="122.97" y2="209.40" stroke="#333" stroke-width="0.9" />
<text x="123.0" y="220.0" font-size="8.6" font-weight="700" text-anchor="middle" fill="#000" textLength="21.0" lengthAdjust="spacingAndGlyphs">4000</text>
<line x1="164.20" y1="207.40" x2="164.20" y2="209.40" stroke="#333" stroke-width="0.9" />
<text x="164.2" y="220.0" font-size="8.6" font-weight="700" text-anchor="middle" fill="#000" textLength="21.0" lengthAdjust="spacingAndGlyphs">6000</text>
<text x="102.8" y="232.7" font-size="9.2" font-weight="700" text-anchor="middle" fill="#000" >Time [sec]</text>
<text transform="translate(16.0,149.4) rotate(-90)" font-size="9" font-weight="700" text-anchor="middle" >Frequency [Hz]</text>
<rect x="172.6" y="91.4" width="3.0" height="116.00" fill="url(#cbg)" stroke="#777" stroke-width="0.6"/>
<line x1="175.60" y1="91.40" x2="177.20" y2="91.40" stroke="#555" stroke-width="0.6" />
<line x1="175.60" y1="97.20" x2="176.50" y2="97.20" stroke="#555" stroke-width="0.6" />
<line x1="175.60" y1="103.00" x2="176.50" y2="103.00" stroke="#555" stroke-width="0.6" />
<line x1="175.60" y1="108.80" x2="176.50" y2="108.80" stroke="#555" stroke-width="0.6" />
<line x1="175.60" y1="114.60" x2="176.50" y2="114.60" stroke="#555" stroke-width="0.6" />
<line x1="175.60" y1="120.40" x2="176.50" y2="120.40" stroke="#555" stroke-width="0.6" />
<line x1="175.60" y1="126.20" x2="176.50" y2="126.20" stroke="#555" stroke-width="0.6" />
<line x1="175.60" y1="132.00" x2="176.50" y2="132.00" stroke="#555" stroke-width="0.6" />
<line x1="175.60" y1="137.80" x2="176.50" y2="137.80" stroke="#555" stroke-width="0.6" />
<line x1="175.60" y1="143.60" x2="176.50" y2="143.60" stroke="#555" stroke-width="0.6" />
<line x1="175.60" y1="149.40" x2="177.20" y2="149.40" stroke="#555" stroke-width="0.6" />
<line x1="175.60" y1="155.20" x2="176.50" y2="155.20" stroke="#555" stroke-width="0.6" />
<line x1="175.60" y1="161.00" x2="176.50" y2="161.00" stroke="#555" stroke-width="0.6" />
<line x1="175.60" y1="166.80" x2="176.50" y2="166.80" stroke="#555" stroke-width="0.6" />
<line x1="175.60" y1="172.60" x2="176.50" y2="172.60" stroke="#555" stroke-width="0.6" />
<line x1="175.60" y1="178.40" x2="176.50" y2="178.40" stroke="#555" stroke-width="0.6" />
<line x1="175.60" y1="184.20" x2="176.50" y2="184.20" stroke="#555" stroke-width="0.6" />
<line x1="175.60" y1="190.00" x2="176.50" y2="190.00" stroke="#555" stroke-width="0.6" />
<line x1="175.60" y1="195.80" x2="176.50" y2="195.80" stroke="#555" stroke-width="0.6" />
<line x1="175.60" y1="201.60" x2="176.50" y2="201.60" stroke="#555" stroke-width="0.6" />
<line x1="175.60" y1="207.40" x2="177.20" y2="207.40" stroke="#555" stroke-width="0.6" />
<text x="180.8" y="93.0" font-size="8.6" font-weight="700"><tspan textLength="10.3" lengthAdjust="spacingAndGlyphs">10</tspan><tspan font-size="5.6" font-weight="400" dx="0.7" dy="-3.4">-4</tspan></text>
<text x="180.8" y="151.0" font-size="8.6" font-weight="700"><tspan textLength="10.3" lengthAdjust="spacingAndGlyphs">10</tspan><tspan font-size="5.6" font-weight="400" dx="0.7" dy="-3.4">-5</tspan></text>
<text x="180.8" y="209.0" font-size="8.6" font-weight="700"><tspan textLength="10.3" lengthAdjust="spacingAndGlyphs">10</tspan><tspan font-size="5.6" font-weight="400" dx="0.7" dy="-3.4">-6</tspan></text>
<text x="69.7" y="61.9" font-size="9.4" font-weight="400" text-anchor="middle" fill="#222" >MK801</text>
<text x="70.0" y="73.1" font-size="9.4" font-weight="400" text-anchor="middle" fill="#222" >(i.p.)</text>
<text x="107.9" y="61.9" font-size="9.4" font-weight="400" text-anchor="middle" fill="#222" >Musc</text>
<text x="107.9" y="73.1" font-size="9.4" font-weight="400" text-anchor="middle" fill="#222" >(OB-inf.)</text>
<line x1="67.92" y1="76.50" x2="67.92" y2="82.00" stroke="#000" stroke-width="1.2" />
<path d="M64.92,81.00 L70.92,81.00 L67.92,87.80 Z" fill="#000"/>
<line x1="108.53" y1="76.50" x2="108.53" y2="82.00" stroke="#000" stroke-width="1.2" />
<path d="M105.53,81.00 L111.53,81.00 L108.53,87.80 Z" fill="#000"/>
<defs><clipPath id="clipB"><rect x="38.2" y="349.8" width="128.70" height="120.30"/></clipPath><clipPath id="clipbB"><rect x="38.2" y="349.8" width="70.78" height="120.30"/></clipPath><linearGradient id="vgB" x1="0" y1="0" x2="0" y2="1"><stop offset="0" stop-color="#dfebf7"/><stop offset="0.35" stop-color="#bcd6ee"/><stop offset="0.75" stop-color="#98c0e4"/><stop offset="1" stop-color="#7fb1de"/></linearGradient><radialGradient id="rgB" cx="0.5" cy="0.5" r="0.5"><stop offset="0" stop-color="#133b78" stop-opacity="0.95"/><stop offset="0.5" stop-color="#2862a4" stop-opacity="0.62"/><stop offset="1" stop-color="#5a95cc" stop-opacity="0"/></radialGradient><radialGradient id="hzB" cx="0.5" cy="0.5" r="0.5"><stop offset="0" stop-color="#9ec4e6" stop-opacity="0.12"/><stop offset="1" stop-color="#9ec4e6" stop-opacity="0"/></radialGradient><filter id="nzB" filterUnits="userSpaceOnUse" x="38.2" y="349.8" width="128.7" height="120.30000000000001"><feTurbulence type="fractalNoise" baseFrequency="1.1 0.55" numOctaves="2" seed="9" result="t"/><feColorMatrix in="t" type="matrix" values="0 0 0 0 0.93  0 0 0 0 0.96  0 0 0 0 0.99  -2.0 0 0 0 1.05"/><feComposite in2="SourceGraphic" operator="in"/></filter><filter id="ndB" filterUnits="userSpaceOnUse" x="38.2" y="349.8" width="128.7" height="120.30000000000001"><feTurbulence type="fractalNoise" baseFrequency="1.1 0.6" numOctaves="2" seed="14" result="t"/><feColorMatrix in="t" type="matrix" values="0 0 0 0 0.1  0 0 0 0 0.32  0 0 0 0 0.6  2.0 0 0 0 -1.15"/><feComposite in2="SourceGraphic" operator="in"/></filter></defs>
<g clip-path="url(#clipB)">
<rect x="38.2" y="349.8" width="70.78" height="120.30" fill="url(#vgB)"/>
<rect x="108.98" y="349.8" width="57.92" height="120.30" fill="#fafcfe"/>
<ellipse cx="93" cy="398" rx="23" ry="25" fill="url(#rgB)" clip-path="url(#clipbB)"/>
<rect x="38.2" y="349.8" width="1.1" height="120.3" fill="#ffffff" opacity="0.07"/>
<rect x="39.3" y="349.8" width="1.4" height="120.3" fill="#ffffff" opacity="0.14"/>
<rect x="40.7" y="349.8" width="1.4" height="120.3" fill="#ffffff" opacity="0.15"/>
<rect x="42.1" y="349.8" width="1.2" height="120.3" fill="#ffffff" opacity="0.12"/>
<rect x="43.3" y="349.8" width="1.3" height="120.3" fill="#0b3a78" opacity="0.13"/>
<rect x="44.5" y="349.8" width="0.8" height="120.3" fill="#ffffff" opacity="0.07"/>
<rect x="46.5" y="349.8" width="1.2" height="120.3" fill="#0b3a78" opacity="0.09"/>
<rect x="47.6" y="349.8" width="1.3" height="120.3" fill="#ffffff" opacity="0.10"/>
<rect x="48.9" y="349.8" width="1.2" height="120.3" fill="#0b3a78" opacity="0.09"/>
<rect x="50.2" y="349.8" width="0.8" height="120.3" fill="#ffffff" opacity="0.09"/>
<rect x="52.7" y="349.8" width="1.4" height="120.3" fill="#ffffff" opacity="0.12"/>
<rect x="54.1" y="349.8" width="1.1" height="120.3" fill="#ffffff" opacity="0.13"/>
<rect x="55.2" y="349.8" width="1.4" height="120.3" fill="#ffffff" opacity="0.16"/>
<rect x="56.7" y="349.8" width="0.8" height="120.3" fill="#0b3a78" opacity="0.15"/>
<rect x="57.5" y="349.8" width="0.9" height="120.3" fill="#ffffff" opacity="0.07"/>
<rect x="58.3" y="349.8" width="1.1" height="120.3" fill="#ffffff" opacity="0.07"/>
<rect x="60.5" y="349.8" width="1.0" height="120.3" fill="#ffffff" opacity="0.16"/>
<rect x="61.6" y="349.8" width="0.8" height="120.3" fill="#0b3a78" opacity="0.06"/>
<rect x="63.5" y="349.8" width="0.7" height="120.3" fill="#0b3a78" opacity="0.11"/>
<rect x="64.3" y="349.8" width="0.8" height="120.3" fill="#ffffff" opacity="0.23"/>
<rect x="65.1" y="349.8" width="1.5" height="120.3" fill="#ffffff" opacity="0.18"/>
<rect x="66.6" y="349.8" width="1.5" height="120.3" fill="#ffffff" opacity="0.16"/>
<rect x="68.1" y="349.8" width="0.7" height="120.3" fill="#ffffff" opacity="0.17"/>
<rect x="68.8" y="349.8" width="1.2" height="120.3" fill="#0b3a78" opacity="0.05"/>
<rect x="70.9" y="349.8" width="1.2" height="120.3" fill="#0b3a78" opacity="0.09"/>
<rect x="72.1" y="349.8" width="1.5" height="120.3" fill="#0b3a78" opacity="0.04"/>
<rect x="73.6" y="349.8" width="1.3" height="120.3" fill="#ffffff" opacity="0.13"/>
<rect x="74.9" y="349.8" width="0.9" height="120.3" fill="#ffffff" opacity="0.11"/>
<rect x="75.8" y="349.8" width="0.8" height="120.3" fill="#0b3a78" opacity="0.05"/>
<rect x="76.6" y="349.8" width="1.3" height="120.3" fill="#ffffff" opacity="0.19"/>
<rect x="77.9" y="349.8" width="1.3" height="120.3" fill="#0b3a78" opacity="0.13"/>
<rect x="79.3" y="349.8" width="0.9" height="120.3" fill="#0b3a78" opacity="0.09"/>
<rect x="81.0" y="349.8" width="1.0" height="120.3" fill="#ffffff" opacity="0.20"/>
<rect x="82.1" y="349.8" width="1.0" height="120.3" fill="#0b3a78" opacity="0.06"/>
<rect x="83.1" y="349.8" width="1.4" height="120.3" fill="#ffffff" opacity="0.06"/>
<rect x="84.4" y="349.8" width="1.5" height="120.3" fill="#ffffff" opacity="0.22"/>
<rect x="85.9" y="349.8" width="1.5" height="120.3" fill="#0b3a78" opacity="0.04"/>
<rect x="87.4" y="349.8" width="0.7" height="120.3" fill="#ffffff" opacity="0.12"/>
<rect x="89.3" y="349.8" width="1.0" height="120.3" fill="#ffffff" opacity="0.15"/>
<rect x="90.3" y="349.8" width="0.8" height="120.3" fill="#ffffff" opacity="0.15"/>
<rect x="91.1" y="349.8" width="1.3" height="120.3" fill="#ffffff" opacity="0.13"/>
<rect x="92.4" y="349.8" width="1.3" height="120.3" fill="#0b3a78" opacity="0.09"/>
<rect x="93.7" y="349.8" width="1.4" height="120.3" fill="#ffffff" opacity="0.18"/>
<rect x="96.4" y="349.8" width="1.1" height="120.3" fill="#ffffff" opacity="0.06"/>
<rect x="97.5" y="349.8" width="1.1" height="120.3" fill="#ffffff" opacity="0.16"/>
<rect x="98.6" y="349.8" width="0.8" height="120.3" fill="#0b3a78" opacity="0.07"/>
<rect x="99.4" y="349.8" width="0.7" height="120.3" fill="#ffffff" opacity="0.13"/>
<rect x="100.1" y="349.8" width="1.1" height="120.3" fill="#ffffff" opacity="0.08"/>
<rect x="104.2" y="349.8" width="1.4" height="120.3" fill="#0b3a78" opacity="0.10"/>
<rect x="106.7" y="349.8" width="0.8" height="120.3" fill="#0b3a78" opacity="0.11"/>
<rect x="107.5" y="349.8" width="0.9" height="120.3" fill="#0b3a78" opacity="0.13"/>
<rect x="108.4" y="349.8" width="0.8" height="120.3" fill="#0b3a78" opacity="0.09"/>
<rect x="65.13" y="349.8" width="3.2" height="120.30" fill="#0f3b7a"/>
<rect x="107.69" y="349.8" width="2.6" height="120.30" fill="#0d3a78"/>
<rect x="38.2" y="349.8" width="72.08" height="120.30" fill="url(#pw1)" opacity="0.55"/>
<rect x="38.2" y="349.8" width="72.08" height="120.30" fill="url(#pw2)" opacity="0.55"/>
<rect x="38.2" y="349.8" width="72.08" height="120.30" fill="url(#pd1)" opacity="0.55"/>
<ellipse cx="120" cy="395" rx="12" ry="9" fill="url(#hzB)"/>
<rect x="124.0" y="349.8" width="0.9" height="120.30" fill="#7aa9d6" opacity="0.18"/>
<rect x="131.0" y="349.8" width="0.9" height="120.30" fill="#7aa9d6" opacity="0.08"/>
<rect x="149.4" y="349.8" width="0.9" height="120.30" fill="#7aa9d6" opacity="0.18"/>
<rect x="153.0" y="349.8" width="0.9" height="120.30" fill="#7aa9d6" opacity="0.18"/>
<rect x="160.0" y="349.8" width="0.9" height="120.30" fill="#7aa9d6" opacity="0.08"/>
</g>
<rect x="38.2" y="349.8" width="128.70" height="120.30" fill="none" stroke="#8a8a8a" stroke-width="0.9"/>
<line x1="36.00" y1="349.80" x2="38.20" y2="349.80" stroke="#333" stroke-width="0.9" />
<text x="34.0" y="353.4" font-size="8.6" font-weight="700" text-anchor="end" fill="#000" textLength="16.4" lengthAdjust="spacingAndGlyphs">200</text>
<line x1="36.00" y1="373.86" x2="38.20" y2="373.86" stroke="#333" stroke-width="0.9" />
<text x="34.0" y="377.5" font-size="8.6" font-weight="700" text-anchor="end" fill="#000" textLength="16.4" lengthAdjust="spacingAndGlyphs">180</text>
<line x1="36.00" y1="397.92" x2="38.20" y2="397.92" stroke="#333" stroke-width="0.9" />
<text x="34.0" y="401.5" font-size="8.6" font-weight="700" text-anchor="end" fill="#000" textLength="16.4" lengthAdjust="spacingAndGlyphs">160</text>
<line x1="36.00" y1="421.98" x2="38.20" y2="421.98" stroke="#333" stroke-width="0.9" />
<text x="34.0" y="425.6" font-size="8.6" font-weight="700" text-anchor="end" fill="#000" textLength="16.4" lengthAdjust="spacingAndGlyphs">140</text>
<line x1="36.00" y1="446.04" x2="38.20" y2="446.04" stroke="#333" stroke-width="0.9" />
<text x="34.0" y="449.6" font-size="8.6" font-weight="700" text-anchor="end" fill="#000" textLength="16.4" lengthAdjust="spacingAndGlyphs">120</text>
<line x1="36.00" y1="470.10" x2="38.20" y2="470.10" stroke="#333" stroke-width="0.9" />
<text x="34.0" y="473.7" font-size="8.6" font-weight="700" text-anchor="end" fill="#000" textLength="16.4" lengthAdjust="spacingAndGlyphs">100</text>
<line x1="38.20" y1="470.10" x2="38.20" y2="472.10" stroke="#333" stroke-width="0.9" />
<text x="38.2" y="483.2" font-size="8.6" font-weight="700" text-anchor="middle" fill="#000" textLength="5.5" lengthAdjust="spacingAndGlyphs">0</text>
<line x1="81.10" y1="470.10" x2="81.10" y2="472.10" stroke="#333" stroke-width="0.9" />
<text x="81.1" y="483.2" font-size="8.6" font-weight="700" text-anchor="middle" fill="#000" textLength="21.8" lengthAdjust="spacingAndGlyphs">2000</text>
<line x1="124.00" y1="470.10" x2="124.00" y2="472.10" stroke="#333" stroke-width="0.9" />
<text x="124.0" y="483.2" font-size="8.6" font-weight="700" text-anchor="middle" fill="#000" textLength="21.8" lengthAdjust="spacingAndGlyphs">4000</text>
<line x1="166.90" y1="470.10" x2="166.90" y2="472.10" stroke="#333" stroke-width="0.9" />
<text x="166.9" y="483.2" font-size="8.6" font-weight="700" text-anchor="middle" fill="#000" textLength="21.8" lengthAdjust="spacingAndGlyphs">6000</text>
<text x="103.1" y="497.4" font-size="9.6" font-weight="700" text-anchor="middle" fill="#000" >Time [sec]</text>
<text transform="translate(11.4,410.0) rotate(-90)" font-size="9.6" font-weight="700" text-anchor="middle" >Frequency [Hz]</text>
<rect x="175.4" y="349.8" width="3.299999999999983" height="120.30" fill="url(#cbg)" stroke="#777" stroke-width="0.6"/>
<line x1="178.70" y1="349.80" x2="180.30" y2="349.80" stroke="#555" stroke-width="0.6" />
<line x1="178.70" y1="355.81" x2="179.60" y2="355.81" stroke="#555" stroke-width="0.6" />
<line x1="178.70" y1="361.83" x2="179.60" y2="361.83" stroke="#555" stroke-width="0.6" />
<line x1="178.70" y1="367.85" x2="179.60" y2="367.85" stroke="#555" stroke-width="0.6" />
<line x1="178.70" y1="373.86" x2="179.60" y2="373.86" stroke="#555" stroke-width="0.6" />
<line x1="178.70" y1="379.88" x2="179.60" y2="379.88" stroke="#555" stroke-width="0.6" />
<line x1="178.70" y1="385.89" x2="179.60" y2="385.89" stroke="#555" stroke-width="0.6" />
<line x1="178.70" y1="391.91" x2="179.60" y2="391.91" stroke="#555" stroke-width="0.6" />
<line x1="178.70" y1="397.92" x2="179.60" y2="397.92" stroke="#555" stroke-width="0.6" />
<line x1="178.70" y1="403.94" x2="179.60" y2="403.94" stroke="#555" stroke-width="0.6" />
<line x1="178.70" y1="409.95" x2="180.30" y2="409.95" stroke="#555" stroke-width="0.6" />
<line x1="178.70" y1="415.97" x2="179.60" y2="415.97" stroke="#555" stroke-width="0.6" />
<line x1="178.70" y1="421.98" x2="179.60" y2="421.98" stroke="#555" stroke-width="0.6" />
<line x1="178.70" y1="428.00" x2="179.60" y2="428.00" stroke="#555" stroke-width="0.6" />
<line x1="178.70" y1="434.01" x2="179.60" y2="434.01" stroke="#555" stroke-width="0.6" />
<line x1="178.70" y1="440.03" x2="179.60" y2="440.03" stroke="#555" stroke-width="0.6" />
<line x1="178.70" y1="446.04" x2="179.60" y2="446.04" stroke="#555" stroke-width="0.6" />
<line x1="178.70" y1="452.06" x2="179.60" y2="452.06" stroke="#555" stroke-width="0.6" />
<line x1="178.70" y1="458.07" x2="179.60" y2="458.07" stroke="#555" stroke-width="0.6" />
<line x1="178.70" y1="464.09" x2="179.60" y2="464.09" stroke="#555" stroke-width="0.6" />
<line x1="178.70" y1="470.10" x2="180.30" y2="470.10" stroke="#555" stroke-width="0.6" />
<text x="183.9" y="351.4" font-size="8.6" font-weight="700"><tspan textLength="10.3" lengthAdjust="spacingAndGlyphs">10</tspan><tspan font-size="5.6" font-weight="400" dx="0.7" dy="-3.4">-4</tspan></text>
<text x="183.9" y="411.6" font-size="8.6" font-weight="700"><tspan textLength="10.3" lengthAdjust="spacingAndGlyphs">10</tspan><tspan font-size="5.6" font-weight="400" dx="0.7" dy="-3.4">-5</tspan></text>
<text x="183.9" y="471.7" font-size="8.6" font-weight="700"><tspan textLength="10.3" lengthAdjust="spacingAndGlyphs">10</tspan><tspan font-size="5.6" font-weight="400" dx="0.7" dy="-3.4">-6</tspan></text>
<text x="68.6" y="317.9" font-size="9.7" font-weight="400" text-anchor="middle" fill="#222" >MK801</text>
<text x="68.3" y="329.1" font-size="9.7" font-weight="400" text-anchor="middle" fill="#222" >(i.p.)</text>
<text x="110.7" y="317.9" font-size="9.7" font-weight="400" text-anchor="middle" fill="#222" >Musc</text>
<text x="110.4" y="329.1" font-size="9.7" font-weight="400" text-anchor="middle" fill="#222" >(OB-inf.)</text>
<line x1="66.73" y1="332.50" x2="66.73" y2="340.80" stroke="#000" stroke-width="1.2" />
<path d="M63.73,339.80 L69.73,339.80 L66.73,346.60 Z" fill="#000"/>
<line x1="108.98" y1="332.50" x2="108.98" y2="340.80" stroke="#000" stroke-width="1.2" />
<path d="M105.98,339.80 L111.98,339.80 L108.98,346.60 Z" fill="#000"/>
<path d="M233.8,152.0L234.1,151.5L234.4,151.7L234.7,153.8L235.0,151.1L235.2,151.2L235.5,152.5L235.8,152.3L236.1,153.8L236.4,153.0L236.7,151.6L237.0,151.5L237.3,152.1L237.6,153.8L237.9,153.2L238.1,151.0L238.4,153.0L238.7,152.3L239.0,153.3L239.3,151.9L239.6,151.3L239.9,152.8L240.2,153.4L240.5,153.0L240.7,153.8L241.0,152.9L241.3,151.5L241.6,152.9L241.9,151.8L242.2,151.0L242.5,151.7L242.8,153.8L243.1,152.8L243.4,153.8L243.6,153.3L243.9,153.3L244.2,151.2L244.5,152.9L244.8,152.3L245.1,153.5L245.4,151.5L245.7,153.7L246.0,153.6L246.2,152.1L246.5,152.9L246.8,152.3L247.1,152.9L247.4,153.6L247.7,151.9L248.0,153.4L248.3,151.0L248.6,152.7L248.9,152.1L249.1,152.5L249.4,153.7L249.7,153.8L250.0,151.4L250.3,151.7L250.6,152.0L250.9,153.5L251.2,153.4L251.5,153.0L251.7,151.0L252.0,151.0L252.3,152.4L252.6,152.5L252.9,152.7L253.2,152.8L253.5,151.1L253.8,152.4L254.1,153.6L254.4,151.6L254.6,152.8L254.9,151.6L255.2,151.9L255.5,152.8L255.8,153.0L256.1,151.6L256.4,153.0L256.7,152.0L257.0,153.8L257.2,153.1L257.5,152.5L257.8,152.0L258.1,152.8L258.4,151.7L258.7,152.8L259.0,151.1L259.3,150.2L259.6,150.9L259.9,151.4L260.1,148.5L260.4,148.6L260.7,147.9L261.0,147.2L261.3,146.9L261.6,146.4L261.9,145.8L262.2,147.1L262.5,145.5L262.8,145.8L263.0,144.2L263.3,144.3L263.6,145.2L263.9,144.0L264.2,144.0L264.5,142.9L264.8,142.1L265.1,142.8L265.4,143.1L265.6,142.0L265.9,142.1L266.2,140.9L266.5,139.9L266.8,139.7L267.1,139.2L267.4,138.2L267.7,137.8L268.0,138.8L268.3,137.8L268.5,136.5L268.8,137.2L269.1,136.1L269.4,138.1L269.7,136.4L270.0,136.0L270.3,136.5L270.6,136.7L270.9,134.2L271.1,134.0L271.4,134.8L271.7,133.4L272.0,134.7L272.3,132.8L272.6,134.5L272.9,134.7L273.2,133.6L273.5,132.4L273.8,134.5L274.0,133.6L274.3,131.9L274.6,133.2L274.9,131.0L275.2,131.9L275.5,131.6L275.8,131.2L276.1,130.9L276.4,131.4L276.6,131.9L276.9,131.3L277.2,130.3L277.5,132.2L277.8,130.8L278.1,129.4L278.4,131.7L278.7,130.4L279.0,129.4L279.3,129.9L279.5,130.0L279.8,128.4L280.1,129.9L280.4,130.5L280.7,128.6L281.0,129.7L281.3,127.9L281.6,129.0L281.9,128.9L282.1,129.8L282.4,127.8L282.7,129.4L283.0,127.7L283.3,129.9L283.6,127.0L283.9,127.8L284.2,127.3L284.5,127.8L284.8,127.5L285.0,128.6L285.3,129.0L285.6,128.1L285.9,127.4L286.2,129.0L286.5,129.1L286.8,127.6L287.1,126.8L287.4,128.1L287.6,127.6L287.9,126.7L288.2,129.3L288.5,129.0L288.8,128.0L289.1,127.9L289.4,128.8L289.7,128.8L290.0,128.1L290.3,128.9L290.5,127.5L290.8,127.6L291.1,129.4L291.4,129.4L291.7,128.2L291.7,138.8L291.4,138.3L291.1,139.7L290.8,139.6L290.5,138.4L290.3,138.8L290.0,138.2L289.7,139.8L289.4,139.2L289.1,139.4L288.8,140.1L288.5,139.4L288.2,139.5L287.9,138.7L287.6,138.9L287.4,138.5L287.1,138.0L286.8,139.5L286.5,137.7L286.2,138.5L285.9,137.6L285.6,138.0L285.3,139.3L285.0,140.2L284.8,138.2L284.5,140.4L284.2,138.6L283.9,138.2L283.6,140.8L283.3,140.1L283.0,140.0L282.7,140.5L282.4,138.6L282.1,140.1L281.9,139.5L281.6,140.1L281.3,139.1L281.0,140.9L280.7,140.1L280.4,141.2L280.1,141.3L279.8,139.7L279.5,140.4L279.3,141.9L279.0,141.4L278.7,141.4L278.4,142.1L278.1,141.7L277.8,142.8L277.5,141.2L277.2,142.3L276.9,141.9L276.6,142.5L276.4,142.1L276.1,142.2L275.8,141.9L275.5,143.4L275.2,143.2L274.9,142.9L274.6,142.7L274.3,143.1L274.0,145.1L273.8,144.2L273.5,145.2L273.2,143.9L272.9,145.0L272.6,144.9L272.3,145.2L272.0,145.0L271.7,145.8L271.4,145.4L271.1,147.4L270.9,146.3L270.6,146.4L270.3,147.0L270.0,148.5L269.7,146.8L269.4,148.2L269.1,147.0L268.8,148.2L268.5,150.1L268.3,149.3L268.0,148.5L267.7,150.2L267.4,149.9L267.1,151.7L266.8,150.5L266.5,150.2L266.2,150.4L265.9,152.9L265.6,152.1L265.4,152.5L265.1,154.1L264.8,153.7L264.5,153.5L264.2,153.0L263.9,153.7L263.6,154.0L263.3,154.6L263.0,154.5L262.8,156.5L262.5,156.8L262.2,155.9L261.9,157.8L261.6,158.5L261.3,158.2L261.0,159.2L260.7,158.8L260.4,160.8L260.1,160.8L259.9,162.3L259.6,162.1L259.3,163.8L259.0,163.7L258.7,164.3L258.4,164.3L258.1,163.8L257.8,164.2L257.5,164.3L257.2,163.9L257.0,163.6L256.7,163.7L256.4,164.6L256.1,163.9L255.8,163.4L255.5,164.0L255.2,164.1L254.9,164.0L254.6,164.2L254.4,164.4L254.1,162.8L253.8,163.0L253.5,163.8L253.2,164.7L252.9,162.5L252.6,162.9L252.3,164.0L252.0,163.3L251.7,164.4L251.5,163.3L251.2,164.3L250.9,163.3L250.6,164.2L250.3,164.6L250.0,162.5L249.7,163.4L249.4,164.5L249.1,163.2L248.9,164.3L248.6,162.8L248.3,163.5L248.0,162.3L247.7,164.7L247.4,162.5L247.1,162.6L246.8,163.0L246.5,164.6L246.2,164.5L246.0,163.0L245.7,164.6L245.4,164.4L245.1,164.1L244.8,164.2L244.5,163.1L244.2,164.6L243.9,164.1L243.6,164.6L243.4,162.3L243.1,163.6L242.8,164.2L242.5,164.3L242.2,162.2L241.9,162.3L241.6,163.4L241.3,163.4L241.0,162.9L240.7,163.9L240.5,163.7L240.2,162.3L239.9,162.6L239.6,162.9L239.3,164.7L239.0,164.6L238.7,163.9L238.4,164.7L238.1,164.4L237.9,162.7L237.6,164.4L237.3,162.5L237.0,162.5L236.7,162.6L236.4,164.5L236.1,162.7L235.8,163.6L235.5,162.8L235.2,162.4L235.0,163.8L234.7,163.4L234.4,164.6L234.1,164.6L233.8,164.1Z" fill="#e8e8e8"/>
<path d="M233.8,150.6V164.5M234.1,152.1V166.6M234.4,147.2V166.3M234.7,150.5V164.4M235.0,150.6V166.1M235.2,148.1V166.1M235.5,148.0V161.7M235.8,151.6V166.0M236.1,148.4V165.6M236.4,151.1V163.3M236.7,148.2V163.0M237.0,153.1V164.8M237.3,151.1V168.9M237.6,148.5V164.4M237.9,149.3V163.0M238.1,153.9V167.6M238.4,150.2V166.0M238.7,153.1V167.8M239.0,147.9V163.1M239.3,150.4V165.7M239.6,151.8V165.9M239.9,148.7V163.5M240.2,151.2V163.6M240.5,150.2V164.0M240.7,151.5V162.4M241.0,148.5V167.2M241.3,151.3V166.3M241.6,147.1V164.4M241.9,152.9V164.4M242.2,148.3V162.4M242.5,150.2V163.7M242.8,150.5V164.1M243.1,150.6V166.0M243.4,147.9V166.8M243.6,145.1V164.6M243.9,150.6V165.0M244.2,151.2V164.5M244.5,148.9V163.0M244.8,146.8V166.1M245.1,151.6V164.8M245.4,148.0V163.1M245.7,148.2V166.7M246.0,149.0V165.5M246.2,147.3V167.2M246.5,148.4V164.0M246.8,151.8V165.7M247.1,151.3V164.6M247.4,150.0V164.7M247.7,150.1V166.5M248.0,148.3V162.5M248.3,150.4V167.7M248.6,148.6V167.5M248.9,149.6V163.5M249.1,151.9V164.3M249.4,146.3V165.8M249.7,148.7V166.3M250.0,148.1V162.8M250.3,153.7V167.3M250.6,148.4V165.5M250.9,147.2V167.2M251.2,147.7V163.1M251.5,146.8V165.3M251.7,151.3V166.8M252.0,147.7V164.3M252.3,148.9V166.0M252.6,150.3V165.3M252.9,150.3V164.2M253.2,148.1V167.5M253.5,147.4V163.2M253.8,149.2V163.4M254.1,150.9V164.4M254.4,147.6V162.6M254.6,150.8V168.3M254.9,148.1V164.1M255.2,153.2V164.5M255.5,151.3V167.4M255.8,146.3V167.5M256.1,151.1V161.2M256.4,147.3V162.3M256.7,151.2V164.6M257.0,146.5V165.5M257.2,149.1V165.1M257.5,145.8V163.3M257.8,149.4V166.7M258.1,148.0V162.8M258.4,151.7V164.0M258.7,148.7V166.8M259.0,153.0V166.7M259.3,152.4V164.1M259.6,148.4V162.7M259.9,149.5V164.3M260.1,148.7V163.2M260.4,142.9V160.7M260.7,148.0V162.5M261.0,144.8V164.0M261.3,143.2V158.7M261.6,146.2V159.9M261.9,143.8V157.4M262.2,140.7V157.8M262.5,139.6V158.7M262.8,141.6V156.5M263.0,144.9V160.0M263.3,139.6V155.6M263.6,142.4V157.2M263.9,139.6V152.7M264.2,139.1V154.8M264.5,142.8V158.7M264.8,142.3V153.1M265.1,140.7V156.4M265.4,140.1V156.7M265.6,144.0V158.8M265.9,136.8V152.6M266.2,137.4V152.4M266.5,137.2V151.2M266.8,139.5V154.8M267.1,137.2V153.2M267.4,137.6V151.2M267.7,133.4V151.5M268.0,134.9V148.8M268.3,134.5V152.4M268.5,133.5V150.3M268.8,133.6V148.5M269.1,134.9V152.6M269.4,136.4V151.1M269.7,136.3V150.7M270.0,131.4V146.5M270.3,135.9V147.6M270.6,136.2V151.7M270.9,133.4V150.6M271.1,136.4V149.2M271.4,133.4V151.0M271.7,133.4V145.4M272.0,131.7V149.5M272.3,130.5V144.9M272.6,132.2V147.3M272.9,129.6V144.5M273.2,130.7V147.7M273.5,132.9V148.9M273.8,134.0V145.3M274.0,130.0V143.2M274.3,134.0V148.8M274.6,129.8V146.4M274.9,126.6V143.7M275.2,128.1V145.1M275.5,129.0V143.7M275.8,127.1V144.9M276.1,128.2V142.2M276.4,127.0V141.7M276.6,127.8V141.5M276.9,129.3V143.6M277.2,131.2V143.4M277.5,131.3V144.1M277.8,126.9V145.3M278.1,131.0V145.8M278.4,125.5V143.3M278.7,128.2V145.2M279.0,127.5V144.3M279.3,125.0V142.4M279.5,128.4V144.5M279.8,125.7V141.7M280.1,123.7V142.3M280.4,127.1V142.9M280.7,125.8V143.0M281.0,127.8V142.9M281.3,124.6V138.0M281.6,124.7V138.3M281.9,127.0V143.0M282.1,126.7V142.9M282.4,123.4V141.7M282.7,125.3V141.7M283.0,129.5V140.2M283.3,129.2V141.3M283.6,121.5V141.1M283.9,127.1V140.7M284.2,121.4V140.5M284.5,122.6V142.7M284.8,122.1V139.4M285.0,125.8V140.8M285.3,124.9V139.7M285.6,128.3V140.6M285.9,129.0V142.7M286.2,125.4V143.0M286.5,127.4V141.8M286.8,124.4V142.8M287.1,125.4V141.1M287.4,125.0V138.7M287.6,126.3V141.9M287.9,126.5V143.4M288.2,126.2V142.1M288.5,125.4V140.3M288.8,126.3V138.7M289.1,127.8V139.0M289.4,129.0V143.2M289.7,126.9V141.2M290.0,127.7V143.4M290.3,130.0V141.0M290.5,127.2V143.2M290.8,124.3V140.1M291.1,123.8V139.4M291.4,125.4V139.8M291.7,126.9V142.6" stroke="#d3d3d3" stroke-width="0.8" fill="none"/>
<path d="M291.7,126.6L292.0,125.7L292.3,126.9L292.6,126.3L292.9,123.8L293.1,123.1L293.4,124.2L293.7,126.4L294.0,125.7L294.3,126.8L294.6,125.6L294.9,122.8L295.2,125.5L295.5,122.6L295.8,123.9L296.0,125.3L296.3,126.7L296.6,123.1L296.9,126.4L297.2,125.5L297.5,125.5L297.8,127.5L298.1,124.5L298.4,125.3L298.6,125.3L298.9,124.1L299.2,126.2L299.5,127.1L299.8,127.7L300.1,126.6L300.4,127.7L300.7,123.2L301.0,127.0L301.3,127.9L301.5,127.2L301.8,126.6L302.1,127.8L302.4,123.4L302.7,123.8L303.0,124.5L303.3,127.5L303.6,128.0L303.9,124.9L304.1,128.3L304.4,124.3L304.7,124.9L305.0,124.1L305.3,126.6L305.6,127.2L305.9,127.3L306.2,128.0L306.5,127.4L306.8,124.0L307.0,124.6L307.3,125.9L307.6,126.8L307.9,125.7L308.2,125.0L308.5,128.1L308.8,126.0L309.1,128.9L309.4,127.8L309.6,125.8L309.9,127.6L310.2,128.0L310.5,128.5L310.8,125.7L311.1,126.8L311.4,126.1L311.7,128.8L312.0,127.0L312.3,128.9L312.5,127.7L312.8,126.9L313.1,128.0L313.4,126.6L313.7,128.1L314.0,127.4L314.3,126.6L314.6,127.6L314.9,128.9L315.1,125.4L315.4,127.5L315.7,129.8L316.0,129.2L316.3,125.7L316.6,128.4L316.9,127.1L317.2,129.1L317.5,125.9L317.8,129.1L318.0,128.0L318.3,127.2L318.6,128.2L318.9,126.8L319.2,127.6L319.5,128.2L319.8,129.1L320.1,129.0L320.4,127.8L320.7,126.4L320.9,127.5L321.2,129.8L321.5,128.0L321.8,127.4L322.1,128.7L322.4,127.7L322.7,128.9L323.0,129.1L323.3,126.5L323.5,127.9L323.8,131.0L324.1,128.3L324.4,127.7L324.7,130.8L325.0,128.6L325.3,127.0L325.6,127.7L325.9,129.7L326.2,127.2L326.4,130.3L326.7,129.3L327.0,128.9L327.3,128.6L327.6,129.7L327.9,128.9L328.2,131.9L328.5,130.7L328.8,132.1L329.0,127.8L329.3,130.9L329.6,131.3L329.9,129.7L330.2,130.2L330.5,131.4L330.8,132.7L331.1,132.1L331.4,129.2L331.7,131.3L331.9,131.7L332.2,130.9L332.5,130.7L332.8,132.7L333.1,132.9L333.4,129.8L333.7,129.4L334.0,129.2L334.3,129.5L334.5,133.9L334.8,129.2L335.1,130.5L335.4,134.2L335.7,132.0L336.0,130.0L336.3,129.7L336.6,133.1L336.9,132.6L337.2,132.6L337.4,130.3L337.7,133.5L338.0,133.9L338.3,134.6L338.6,130.4L338.9,132.8L339.2,132.2L339.5,133.7L339.8,135.5L340.0,133.7L340.3,132.5L340.6,134.7L340.9,133.6L341.2,131.9L341.5,135.8L341.8,131.9L342.1,134.9L342.4,136.2L342.7,132.0L342.9,136.4L343.2,132.7L343.5,135.8L343.8,136.6L344.1,136.1L344.4,132.8L344.7,134.8L345.0,136.6L345.3,133.2L345.5,133.2L345.8,132.8L346.1,133.2L346.4,133.2L346.7,137.5L347.0,134.8L347.3,134.7L347.6,136.4L347.9,137.4L348.2,135.8L348.4,137.1L348.7,133.9L349.0,134.9L349.3,138.5L349.6,138.3L349.6,152.4L349.3,155.0L349.0,155.1L348.7,153.7L348.4,152.9L348.2,152.7L347.9,152.0L347.6,152.4L347.3,151.1L347.0,154.3L346.7,151.8L346.4,153.4L346.1,153.8L345.8,151.7L345.5,151.5L345.3,152.1L345.0,153.8L344.7,153.1L344.4,153.4L344.1,151.6L343.8,151.8L343.5,150.6L343.2,151.9L342.9,151.2L342.7,152.0L342.4,152.7L342.1,152.0L341.8,151.4L341.5,149.4L341.2,150.8L340.9,149.7L340.6,150.0L340.3,150.0L340.0,148.7L339.8,149.0L339.5,149.0L339.2,150.3L338.9,150.8L338.6,150.5L338.3,149.0L338.0,149.6L337.7,150.8L337.4,149.6L337.2,148.9L336.9,149.6L336.6,147.8L336.3,149.5L336.0,147.9L335.7,150.7L335.4,148.3L335.1,150.1L334.8,149.7L334.5,147.8L334.3,148.4L334.0,146.8L333.7,147.8L333.4,148.5L333.1,148.1L332.8,149.3L332.5,147.2L332.2,146.6L331.9,148.4L331.7,146.9L331.4,149.4L331.1,146.9L330.8,146.1L330.5,146.9L330.2,146.7L329.9,148.8L329.6,147.9L329.3,148.4L329.0,146.3L328.8,145.9L328.5,147.1L328.2,148.8L327.9,147.2L327.6,146.9L327.3,148.6L327.0,148.2L326.7,147.4L326.4,147.7L326.2,147.6L325.9,148.2L325.6,144.9L325.3,147.6L325.0,147.2L324.7,146.3L324.4,147.7L324.1,146.4L323.8,147.3L323.5,147.9L323.3,145.5L323.0,146.3L322.7,147.7L322.4,147.0L322.1,146.0L321.8,144.8L321.5,144.2L321.2,146.2L320.9,146.5L320.7,146.5L320.4,146.3L320.1,146.0L319.8,146.2L319.5,146.1L319.2,143.7L318.9,147.1L318.6,145.4L318.3,146.1L318.0,143.9L317.8,145.1L317.5,144.9L317.2,144.2L316.9,143.2L316.6,145.7L316.3,143.3L316.0,144.5L315.7,143.9L315.4,144.0L315.1,142.9L314.9,143.1L314.6,144.8L314.3,143.1L314.0,144.9L313.7,143.6L313.4,145.0L313.1,144.5L312.8,145.6L312.5,144.1L312.3,145.1L312.0,144.3L311.7,142.9L311.4,144.7L311.1,145.4L310.8,144.8L310.5,144.2L310.2,145.5L309.9,144.7L309.6,144.1L309.4,142.6L309.1,143.0L308.8,142.7L308.5,141.8L308.2,142.9L307.9,145.0L307.6,142.9L307.3,142.9L307.0,144.4L306.8,143.4L306.5,143.0L306.2,141.8L305.9,143.2L305.6,141.6L305.3,143.6L305.0,143.5L304.7,144.1L304.4,144.6L304.1,142.5L303.9,143.1L303.6,141.9L303.3,142.2L303.0,142.2L302.7,144.3L302.4,143.9L302.1,141.5L301.8,142.0L301.5,144.8L301.3,141.5L301.0,142.7L300.7,143.9L300.4,141.8L300.1,142.9L299.8,142.7L299.5,144.4L299.2,143.1L298.9,141.9L298.6,144.1L298.4,142.9L298.1,141.6L297.8,143.7L297.5,141.7L297.2,142.9L296.9,142.9L296.6,142.0L296.3,142.0L296.0,141.5L295.8,143.2L295.5,140.9L295.2,143.6L294.9,143.9L294.6,143.3L294.3,143.6L294.0,142.6L293.7,142.0L293.4,143.4L293.1,143.3L292.9,142.0L292.6,141.3L292.3,141.8L292.0,142.5L291.7,142.4Z" fill="#e8e8e8"/>
<path d="M291.7,116.0V144.9M292.0,124.2V141.1M292.3,111.2V142.3M292.6,121.8V148.9M292.9,126.5V145.5M293.1,120.8V144.2M293.4,120.1V148.2M293.7,119.7V148.3M294.0,121.2V139.3M294.3,124.1V142.2M294.6,121.4V147.1M294.9,118.1V145.8M295.2,118.1V145.8M295.5,123.1V147.4M295.8,125.4V150.4M296.0,119.5V140.1M296.3,119.8V148.9M296.6,123.6V146.6M296.9,115.7V142.4M297.2,118.1V143.0M297.5,121.8V143.2M297.8,120.5V144.8M298.1,120.3V144.2M298.4,119.7V149.3M298.6,119.8V145.4M298.9,116.6V146.2M299.2,120.5V145.7M299.5,126.1V144.9M299.8,119.1V146.0M300.1,119.3V146.0M300.4,119.3V148.8M300.7,119.4V147.7M301.0,117.1V142.8M301.3,120.1V145.8M301.5,118.9V143.6M301.8,117.9V146.7M302.1,123.9V151.1M302.4,117.6V143.1M302.7,123.9V143.8M303.0,124.6V146.4M303.3,122.2V149.3M303.6,119.9V144.2M303.9,119.7V147.7M304.1,125.6V149.6M304.4,121.9V145.9M304.7,112.3V142.5M305.0,120.9V146.8M305.3,125.5V145.9M305.6,121.9V149.7M305.9,118.3V146.5M306.2,117.0V144.4M306.5,125.4V147.9M306.8,125.8V143.9M307.0,122.8V147.0M307.3,115.0V148.5M307.6,120.5V147.1M307.9,120.4V149.1M308.2,124.4V145.6M308.5,126.6V151.3M308.8,115.7V147.5M309.1,116.4V145.6M309.4,117.4V151.6M309.6,122.1V145.0M309.9,126.7V144.9M310.2,121.9V142.6M310.5,118.2V149.5M310.8,121.5V145.4M311.1,118.4V144.7M311.4,126.0V149.5M311.7,123.5V149.9M312.0,126.5V147.3M312.3,117.7V149.5M312.5,123.6V146.8M312.8,124.4V148.4M313.1,125.3V147.8M313.4,122.4V148.8M313.7,123.5V148.8M314.0,124.5V145.7M314.3,127.5V150.1M314.6,122.7V147.2M314.9,120.9V148.5M315.1,120.4V146.5M315.4,123.2V147.4M315.7,126.7V153.4M316.0,121.3V149.8M316.3,121.4V150.7M316.6,128.0V148.6M316.9,118.2V148.1M317.2,124.6V147.3M317.5,120.0V147.5M317.8,121.8V150.4M318.0,122.9V149.9M318.3,121.2V148.8M318.6,125.5V151.4M318.9,119.5V149.1M319.2,118.1V147.9M319.5,121.4V147.8M319.8,120.6V144.8M320.1,128.6V154.7M320.4,117.1V145.5M320.7,126.3V146.7M320.9,125.1V153.9M321.2,124.7V150.1M321.5,121.5V151.8M321.8,126.4V149.2M322.1,127.4V151.2M322.4,129.7V148.9M322.7,123.8V145.8M323.0,119.6V146.1M323.3,120.8V148.4M323.5,127.5V150.6M323.8,123.7V150.8M324.1,124.5V155.1M324.4,127.0V152.1M324.7,123.1V152.2M325.0,122.1V154.1M325.3,122.7V151.5M325.6,121.7V147.1M325.9,121.3V150.2M326.2,120.4V152.0M326.4,120.5V146.4M326.7,123.0V153.0M327.0,128.7V148.9M327.3,125.9V151.6M327.6,121.7V148.2M327.9,130.6V153.2M328.2,124.7V153.8M328.5,116.3V148.0M328.8,126.0V151.0M329.0,126.8V154.7M329.3,123.4V149.1M329.6,126.2V146.1M329.9,129.3V147.9M330.2,128.9V151.9M330.5,127.0V148.0M330.8,122.2V148.9M331.1,123.7V147.4M331.4,121.4V151.2M331.7,126.8V150.1M331.9,125.4V151.7M332.2,126.2V148.3M332.5,122.9V150.2M332.8,125.5V150.7M333.1,125.1V151.1M333.4,126.9V150.6M333.7,125.7V155.4M334.0,120.0V148.7M334.3,132.1V152.4M334.5,132.6V154.5M334.8,128.3V154.5M335.1,121.9V150.1M335.4,126.4V154.6M335.7,124.3V151.8M336.0,124.5V150.9M336.3,124.8V154.6M336.6,128.1V154.6M336.9,133.4V151.0M337.2,126.9V154.0M337.4,131.9V154.8M337.7,128.1V155.4M338.0,123.0V152.5M338.3,131.8V154.5M338.6,130.3V153.0M338.9,126.6V152.4M339.2,125.3V149.4M339.5,128.6V156.2M339.8,132.2V151.2M340.0,129.3V155.5M340.3,129.3V153.2M340.6,124.5V149.7M340.9,129.6V154.2M341.2,128.7V153.8M341.5,128.9V154.7M341.8,126.4V150.4M342.1,127.1V153.0M342.4,124.9V156.3M342.7,135.9V153.9M342.9,130.7V156.2M343.2,135.2V153.1M343.5,131.0V154.8M343.8,124.4V157.2M344.1,132.6V156.4M344.4,131.6V155.4M344.7,131.8V154.6M345.0,131.2V153.1M345.3,134.6V151.8M345.5,134.0V156.6M345.8,128.4V158.4M346.1,132.4V155.1M346.4,123.9V156.7M346.7,130.5V153.5M347.0,125.8V154.6M347.3,129.4V157.4M347.6,132.0V154.6M347.9,137.7V159.8M348.2,129.2V155.1M348.4,127.7V154.9M348.7,127.2V158.9M349.0,132.3V159.2M349.3,129.4V153.9M349.6,131.0V157.2" stroke="#d3d3d3" stroke-width="0.8" fill="none"/>
<path d="M291.7,151.5L292.0,152.7L292.3,153.5L292.6,153.3L292.9,156.5L293.1,157.0L293.4,158.5L293.7,159.2L294.0,160.3L294.3,161.8L294.6,160.4L294.9,163.1L295.2,163.1L295.5,165.2L295.8,164.8L296.0,166.2L296.3,167.1L296.6,167.2L296.9,168.7L297.2,169.6L297.5,169.7L297.8,170.6L298.1,170.4L298.4,171.8L298.6,172.7L298.9,172.9L299.2,174.1L299.5,173.6L299.8,174.9L300.1,173.8L300.4,176.0L300.7,174.9L301.0,177.1L301.3,175.5L301.5,178.1L301.8,176.4L302.1,176.8L302.4,176.6L302.7,177.0L303.0,177.0L303.3,178.0L303.6,176.7L303.9,178.0L304.1,177.2L304.4,179.1L304.7,179.3L305.0,178.3L305.3,178.3L305.6,177.7L305.9,177.8L306.2,179.3L306.5,177.9L306.8,178.5L307.0,179.8L307.3,178.4L307.6,180.5L307.9,179.5L308.2,179.1L308.5,180.8L308.8,179.4L309.1,180.2L309.4,179.1L309.6,180.9L309.9,179.5L310.2,180.9L310.5,180.4L310.8,180.2L311.1,180.9L311.4,180.4L311.7,182.1L312.0,182.3L312.3,182.0L312.5,181.9L312.8,181.1L313.1,181.3L313.4,182.4L313.7,182.3L314.0,182.8L314.3,180.6L314.6,181.0L314.9,182.6L315.1,182.8L315.4,181.6L315.7,182.7L316.0,181.8L316.3,181.9L316.6,183.4L316.9,181.1L317.2,182.2L317.5,181.5L317.8,183.5L318.0,182.7L318.3,183.3L318.6,182.6L318.9,182.2L319.2,181.8L319.5,183.5L319.8,184.1L320.1,181.9L320.4,181.9L320.7,182.3L320.9,182.2L321.2,183.3L321.5,182.3L321.8,183.2L322.1,184.3L322.4,184.0L322.7,183.9L323.0,183.2L323.3,182.7L323.5,184.4L323.8,183.4L324.1,184.9L324.4,183.8L324.7,183.1L325.0,183.7L325.3,183.3L325.6,183.3L325.9,183.7L326.2,185.5L326.4,184.2L326.7,185.8L327.0,184.4L327.3,185.7L327.6,184.9L327.9,184.0L328.2,185.9L328.5,184.9L328.8,184.1L329.0,186.4L329.3,186.2L329.6,186.5L329.9,185.3L330.2,184.6L330.5,185.1L330.8,185.7L331.1,187.0L331.4,185.5L331.7,186.1L331.9,186.4L332.2,185.4L332.5,186.9L332.8,186.4L333.1,187.4L333.4,187.1L333.7,185.9L334.0,186.4L334.3,186.6L334.5,187.2L334.8,185.9L335.1,187.9L335.4,187.1L335.7,186.8L336.0,186.1L336.3,186.3L336.6,188.3L336.9,187.2L337.2,187.1L337.4,188.1L337.7,187.3L338.0,187.0L338.3,188.5L338.6,186.9L338.9,186.9L339.2,187.3L339.5,188.3L339.8,188.4L340.0,187.8L340.3,188.7L340.6,188.5L340.9,188.8L341.2,188.9L341.5,187.0L341.8,187.6L342.1,188.2L342.4,187.3L342.7,187.3L342.9,187.6L343.2,187.3L343.5,188.4L343.8,188.7L344.1,187.5L344.4,189.6L344.7,188.3L345.0,187.9L345.3,189.8L345.5,188.5L345.8,187.8L346.1,188.2L346.4,189.4L346.7,190.1L347.0,189.4L347.3,190.0L347.6,190.2L347.9,190.0L348.2,189.6L348.4,189.4L348.7,188.8L349.0,188.7L349.3,188.7L349.6,189.4L349.6,198.3L349.3,198.3L349.0,199.1L348.7,199.4L348.4,199.4L348.2,198.6L347.9,199.3L347.6,197.7L347.3,197.9L347.0,197.4L346.7,197.2L346.4,197.5L346.1,198.2L345.8,197.5L345.5,198.7L345.3,197.4L345.0,198.3L344.7,197.1L344.4,197.7L344.1,198.6L343.8,198.5L343.5,197.7L343.2,197.8L342.9,196.6L342.7,197.9L342.4,196.7L342.1,196.7L341.8,197.0L341.5,196.8L341.2,196.1L340.9,196.2L340.6,196.0L340.3,197.2L340.0,197.5L339.8,197.1L339.5,195.9L339.2,196.9L338.9,195.6L338.6,195.7L338.3,197.1L338.0,196.5L337.7,196.6L337.4,196.1L337.2,197.3L336.9,196.9L336.6,195.8L336.3,195.6L336.0,195.4L335.7,196.2L335.4,196.3L335.1,196.7L334.8,195.1L334.5,196.7L334.3,195.2L334.0,195.5L333.7,195.3L333.4,196.0L333.1,194.7L332.8,195.5L332.5,195.4L332.2,195.8L331.9,195.5L331.7,195.7L331.4,194.7L331.1,194.2L330.8,194.8L330.5,194.9L330.2,195.4L329.9,194.8L329.6,195.1L329.3,194.9L329.0,194.1L328.8,195.0L328.5,195.0L328.2,194.3L327.9,194.5L327.6,193.3L327.3,193.8L327.0,193.7L326.7,194.4L326.4,194.6L326.2,192.6L325.9,194.4L325.6,193.0L325.3,194.2L325.0,192.3L324.7,192.9L324.4,192.7L324.1,192.6L323.8,193.5L323.5,193.0L323.3,193.5L323.0,193.1L322.7,192.3L322.4,191.5L322.1,192.1L321.8,192.6L321.5,191.5L321.2,191.3L320.9,192.1L320.7,192.8L320.4,192.0L320.1,192.2L319.8,192.5L319.5,191.8L319.2,192.5L318.9,190.8L318.6,191.4L318.3,192.5L318.0,191.7L317.8,191.5L317.5,190.8L317.2,191.0L316.9,191.1L316.6,191.7L316.3,191.6L316.0,190.7L315.7,190.3L315.4,191.4L315.1,191.2L314.9,191.6L314.6,190.9L314.3,189.7L314.0,191.6L313.7,189.7L313.4,189.9L313.1,191.4L312.8,189.7L312.5,190.3L312.3,190.2L312.0,190.9L311.7,190.4L311.4,189.2L311.1,189.5L310.8,190.0L310.5,189.9L310.2,190.1L309.9,189.9L309.6,190.0L309.4,188.4L309.1,188.1L308.8,189.3L308.5,188.6L308.2,188.7L307.9,188.5L307.6,189.3L307.3,187.4L307.0,188.5L306.8,188.9L306.5,188.1L306.2,188.5L305.9,187.5L305.6,187.3L305.3,188.2L305.0,187.5L304.7,187.0L304.4,187.5L304.1,187.1L303.9,187.8L303.6,187.5L303.3,187.7L303.0,186.7L302.7,187.4L302.4,185.7L302.1,186.8L301.8,186.0L301.5,186.8L301.3,185.1L301.0,184.6L300.7,185.0L300.4,183.7L300.1,183.0L299.8,183.2L299.5,183.0L299.2,182.8L298.9,181.9L298.6,181.7L298.4,179.9L298.1,179.2L297.8,179.2L297.5,179.3L297.2,178.9L296.9,177.8L296.6,178.1L296.3,175.3L296.0,174.6L295.8,174.0L295.5,173.2L295.2,172.0L294.9,170.5L294.6,170.4L294.3,168.8L294.0,167.6L293.7,168.1L293.4,167.6L293.1,164.7L292.9,163.6L292.6,162.7L292.3,161.6L292.0,161.7L291.7,160.8Z" fill="#e8e8e8"/>
<path d="M291.7,148.3V163.2M292.0,150.0V163.1M292.3,149.5V163.7M292.6,150.3V166.9M292.9,154.5V168.8M293.1,151.3V168.5M293.4,152.0V170.0M293.7,158.6V169.6M294.0,152.1V169.7M294.3,159.4V173.1M294.6,156.3V173.3M294.9,161.4V175.5M295.2,162.8V176.9M295.5,161.5V173.6M295.8,163.4V175.1M296.0,165.9V179.0M296.3,162.6V180.0M296.6,166.0V177.0M296.9,169.2V181.8M297.2,166.8V181.9M297.5,170.5V180.0M297.8,168.5V179.8M298.1,163.2V183.4M298.4,171.7V182.9M298.6,170.9V181.8M298.9,166.8V186.8M299.2,170.1V183.1M299.5,173.8V186.8M299.8,173.6V186.9M300.1,171.8V184.7M300.4,171.6V184.0M300.7,173.6V186.3M301.0,176.8V186.5M301.3,169.6V186.7M301.5,178.2V188.9M301.8,171.2V184.9M302.1,170.4V187.0M302.4,177.0V190.9M302.7,169.4V187.0M303.0,176.8V187.8M303.3,170.7V190.0M303.6,175.1V190.2M303.9,175.7V192.5M304.1,174.2V192.3M304.4,172.4V187.3M304.7,173.6V190.5M305.0,178.6V189.5M305.3,172.9V191.7M305.6,178.4V191.1M305.9,177.8V192.2M306.2,176.5V191.2M306.5,172.3V187.5M306.8,177.3V189.4M307.0,174.2V188.7M307.3,174.3V190.0M307.6,176.8V191.5M307.9,174.2V190.6M308.2,178.9V190.9M308.5,176.1V193.7M308.8,179.5V193.3M309.1,178.7V189.4M309.4,176.3V195.5M309.6,179.1V193.2M309.9,175.1V188.9M310.2,180.4V196.2M310.5,177.6V191.3M310.8,178.2V190.9M311.1,176.8V188.5M311.4,175.5V190.5M311.7,176.6V191.8M312.0,175.3V193.8M312.3,172.6V191.1M312.5,175.6V194.2M312.8,174.3V190.1M313.1,179.1V197.9M313.4,178.1V190.9M313.7,173.1V192.5M314.0,175.5V194.5M314.3,174.7V191.8M314.6,180.3V190.7M314.9,173.0V193.4M315.1,177.9V193.1M315.4,179.4V196.7M315.7,180.9V193.3M316.0,181.5V192.6M316.3,177.5V191.0M316.6,178.5V191.6M316.9,174.3V191.5M317.2,177.9V192.7M317.5,175.1V192.7M317.8,179.0V191.5M318.0,179.0V196.0M318.3,176.7V194.3M318.6,175.6V192.4M318.9,176.1V191.5M319.2,178.8V190.9M319.5,181.7V194.8M319.8,179.9V191.0M320.1,176.3V190.6M320.4,180.1V192.3M320.7,181.3V194.5M320.9,177.9V192.6M321.2,184.1V195.3M321.5,179.6V192.4M321.8,178.0V192.3M322.1,177.3V194.0M322.4,178.3V192.2M322.7,182.5V194.0M323.0,178.2V199.3M323.3,180.6V192.9M323.5,181.8V196.9M323.8,179.0V193.5M324.1,179.9V197.2M324.4,180.0V196.4M324.7,176.3V197.9M325.0,180.3V194.3M325.3,184.0V199.4M325.6,184.7V197.6M325.9,177.0V196.6M326.2,182.0V194.0M326.4,183.9V193.4M326.7,178.6V196.5M327.0,180.6V192.9M327.3,177.1V196.9M327.6,186.5V198.0M327.9,177.4V196.4M328.2,178.8V197.6M328.5,179.8V193.0M328.8,183.8V195.2M329.0,184.3V196.4M329.3,183.8V197.6M329.6,183.9V195.1M329.9,185.2V199.5M330.2,175.5V198.0M330.5,183.3V201.5M330.8,176.0V197.0M331.1,182.1V201.0M331.4,184.4V198.3M331.7,182.7V199.5M331.9,181.3V195.3M332.2,184.7V198.2M332.5,183.7V197.9M332.8,177.6V198.8M333.1,181.4V197.7M333.4,184.8V197.8M333.7,180.8V197.4M334.0,186.7V196.8M334.3,182.2V197.3M334.5,183.6V196.0M334.8,186.3V196.6M335.1,186.2V197.7M335.4,180.6V199.5M335.7,182.9V197.7M336.0,183.8V199.1M336.3,181.7V198.0M336.6,182.1V198.4M336.9,184.2V196.9M337.2,184.9V200.3M337.4,186.6V198.2M337.7,181.1V198.5M338.0,183.9V195.8M338.3,177.8V197.7M338.6,183.6V198.6M338.9,185.1V198.1M339.2,184.8V199.9M339.5,184.0V198.5M339.8,186.3V197.0M340.0,183.9V196.2M340.3,187.4V204.3M340.6,186.3V201.2M340.9,185.3V202.7M341.2,187.3V199.1M341.5,178.6V199.8M341.8,184.8V198.3M342.1,188.1V197.1M342.4,182.8V201.5M342.7,184.9V200.1M342.9,184.7V198.4M343.2,186.3V200.6M343.5,183.4V199.8M343.8,188.8V203.1M344.1,181.1V198.9M344.4,184.3V203.0M344.7,184.3V201.5M345.0,186.2V197.6M345.3,187.0V200.1M345.5,187.1V200.9M345.8,189.4V202.0M346.1,188.3V197.6M346.4,184.7V201.6M346.7,185.6V202.5M347.0,184.9V200.3M347.3,189.5V200.4M347.6,184.7V198.9M347.9,188.2V199.6M348.2,188.7V201.1M348.4,183.7V199.3M348.7,183.3V201.9M349.0,182.9V202.0M349.3,188.1V201.3M349.6,182.7V200.9" stroke="#d3d3d3" stroke-width="0.8" fill="none"/>
<line x1="259.47" y1="91.50" x2="259.47" y2="206.50" stroke="#555" stroke-width="0.8" stroke-dasharray="1.6,1.2"/>
<line x1="291.70" y1="91.50" x2="291.70" y2="206.50" stroke="#555" stroke-width="0.8" stroke-dasharray="1.6,1.2"/>
<circle cx="233.8" cy="157.5" r="2.50" fill="#fff" stroke="#000" stroke-width="0.7"/>
<circle cx="234.8" cy="157.2" r="2.50" fill="#fff" stroke="#000" stroke-width="0.7"/>
<circle cx="235.7" cy="158.2" r="2.50" fill="#fff" stroke="#000" stroke-width="0.7"/>
<circle cx="236.7" cy="158.1" r="2.50" fill="#fff" stroke="#000" stroke-width="0.7"/>
<circle cx="237.7" cy="159.5" r="2.50" fill="#fff" stroke="#000" stroke-width="0.7"/>
<circle cx="238.6" cy="159.4" r="2.50" fill="#fff" stroke="#000" stroke-width="0.7"/>
<circle cx="239.6" cy="158.0" r="2.50" fill="#fff" stroke="#000" stroke-width="0.7"/>
<circle cx="240.6" cy="156.8" r="2.50" fill="#fff" stroke="#000" stroke-width="0.7"/>
<circle cx="241.5" cy="157.9" r="2.50" fill="#fff" stroke="#000" stroke-width="0.7"/>
<circle cx="242.5" cy="158.3" r="2.50" fill="#fff" stroke="#000" stroke-width="0.7"/>
<circle cx="243.5" cy="156.4" r="2.50" fill="#fff" stroke="#000" stroke-width="0.7"/>
<circle cx="244.4" cy="158.8" r="2.50" fill="#fff" stroke="#000" stroke-width="0.7"/>
<circle cx="245.4" cy="158.9" r="2.50" fill="#fff" stroke="#000" stroke-width="0.7"/>
<circle cx="246.3" cy="157.4" r="2.50" fill="#fff" stroke="#000" stroke-width="0.7"/>
<circle cx="247.3" cy="159.5" r="2.50" fill="#fff" stroke="#000" stroke-width="0.7"/>
<circle cx="248.3" cy="159.4" r="2.50" fill="#fff" stroke="#000" stroke-width="0.7"/>
<circle cx="249.2" cy="159.6" r="2.50" fill="#fff" stroke="#000" stroke-width="0.7"/>
<circle cx="250.2" cy="158.3" r="2.50" fill="#fff" stroke="#000" stroke-width="0.7"/>
<circle cx="251.2" cy="159.0" r="2.50" fill="#fff" stroke="#000" stroke-width="0.7"/>
<circle cx="252.1" cy="156.9" r="2.50" fill="#fff" stroke="#000" stroke-width="0.7"/>
<circle cx="253.1" cy="159.6" r="2.50" fill="#fff" stroke="#000" stroke-width="0.7"/>
<circle cx="254.1" cy="158.1" r="2.50" fill="#fff" stroke="#000" stroke-width="0.7"/>
<circle cx="255.0" cy="160.0" r="2.50" fill="#fff" stroke="#000" stroke-width="0.7"/>
<circle cx="256.0" cy="157.9" r="2.50" fill="#fff" stroke="#000" stroke-width="0.7"/>
<circle cx="257.0" cy="156.4" r="2.50" fill="#fff" stroke="#000" stroke-width="0.7"/>
<circle cx="257.9" cy="158.6" r="2.50" fill="#fff" stroke="#000" stroke-width="0.7"/>
<circle cx="258.9" cy="160.0" r="2.50" fill="#fff" stroke="#000" stroke-width="0.7"/>
<circle cx="259.9" cy="156.4" r="2.50" fill="#fff" stroke="#000" stroke-width="0.7"/>
<circle cx="260.8" cy="153.2" r="2.50" fill="#fff" stroke="#000" stroke-width="0.7"/>
<circle cx="261.8" cy="150.3" r="2.50" fill="#fff" stroke="#000" stroke-width="0.7"/>
<circle cx="262.8" cy="152.6" r="2.50" fill="#fff" stroke="#000" stroke-width="0.7"/>
<circle cx="263.7" cy="149.8" r="2.50" fill="#fff" stroke="#000" stroke-width="0.7"/>
<circle cx="264.7" cy="149.0" r="2.50" fill="#fff" stroke="#000" stroke-width="0.7"/>
<circle cx="265.6" cy="147.5" r="2.50" fill="#fff" stroke="#000" stroke-width="0.7"/>
<circle cx="266.6" cy="144.5" r="2.50" fill="#fff" stroke="#000" stroke-width="0.7"/>
<circle cx="267.6" cy="143.6" r="2.50" fill="#fff" stroke="#000" stroke-width="0.7"/>
<circle cx="268.5" cy="143.6" r="2.50" fill="#fff" stroke="#000" stroke-width="0.7"/>
<circle cx="269.5" cy="144.5" r="2.50" fill="#fff" stroke="#000" stroke-width="0.7"/>
<circle cx="270.5" cy="142.8" r="2.50" fill="#fff" stroke="#000" stroke-width="0.7"/>
<circle cx="271.4" cy="141.7" r="2.50" fill="#fff" stroke="#000" stroke-width="0.7"/>
<circle cx="272.4" cy="141.7" r="2.50" fill="#fff" stroke="#000" stroke-width="0.7"/>
<circle cx="273.4" cy="138.5" r="2.50" fill="#fff" stroke="#000" stroke-width="0.7"/>
<circle cx="274.3" cy="136.7" r="2.50" fill="#fff" stroke="#000" stroke-width="0.7"/>
<circle cx="275.3" cy="137.8" r="2.50" fill="#fff" stroke="#000" stroke-width="0.7"/>
<circle cx="276.3" cy="136.5" r="2.50" fill="#fff" stroke="#000" stroke-width="0.7"/>
<circle cx="277.2" cy="137.3" r="2.50" fill="#fff" stroke="#000" stroke-width="0.7"/>
<circle cx="278.2" cy="137.0" r="2.50" fill="#fff" stroke="#000" stroke-width="0.7"/>
<circle cx="279.2" cy="133.9" r="2.50" fill="#fff" stroke="#000" stroke-width="0.7"/>
<circle cx="280.1" cy="135.0" r="2.50" fill="#fff" stroke="#000" stroke-width="0.7"/>
<circle cx="281.1" cy="133.4" r="2.50" fill="#fff" stroke="#000" stroke-width="0.7"/>
<circle cx="282.1" cy="134.0" r="2.50" fill="#fff" stroke="#000" stroke-width="0.7"/>
<circle cx="283.0" cy="133.3" r="2.50" fill="#fff" stroke="#000" stroke-width="0.7"/>
<circle cx="284.0" cy="133.3" r="2.50" fill="#fff" stroke="#000" stroke-width="0.7"/>
<circle cx="284.9" cy="132.9" r="2.50" fill="#fff" stroke="#000" stroke-width="0.7"/>
<circle cx="285.9" cy="134.3" r="2.50" fill="#fff" stroke="#000" stroke-width="0.7"/>
<circle cx="286.9" cy="133.0" r="2.50" fill="#fff" stroke="#000" stroke-width="0.7"/>
<circle cx="287.8" cy="131.9" r="2.50" fill="#fff" stroke="#000" stroke-width="0.7"/>
<circle cx="288.8" cy="132.7" r="2.50" fill="#fff" stroke="#000" stroke-width="0.7"/>
<circle cx="289.8" cy="134.5" r="2.50" fill="#fff" stroke="#000" stroke-width="0.7"/>
<circle cx="290.7" cy="134.0" r="2.50" fill="#fff" stroke="#000" stroke-width="0.7"/>
<circle cx="291.7" cy="135.6" r="2.50" fill="#fff" stroke="#000" stroke-width="0.7"/>
<circle cx="292.7" cy="133.2" r="2.50" fill="#fff" stroke="#000" stroke-width="0.7"/>
<circle cx="293.6" cy="134.3" r="2.50" fill="#fff" stroke="#000" stroke-width="0.7"/>
<circle cx="294.6" cy="137.1" r="2.50" fill="#fff" stroke="#000" stroke-width="0.7"/>
<circle cx="295.6" cy="136.4" r="2.50" fill="#fff" stroke="#000" stroke-width="0.7"/>
<circle cx="296.5" cy="134.2" r="2.50" fill="#fff" stroke="#000" stroke-width="0.7"/>
<circle cx="297.5" cy="134.2" r="2.50" fill="#fff" stroke="#000" stroke-width="0.7"/>
<circle cx="298.5" cy="135.4" r="2.50" fill="#fff" stroke="#000" stroke-width="0.7"/>
<circle cx="299.4" cy="133.8" r="2.50" fill="#fff" stroke="#000" stroke-width="0.7"/>
<circle cx="300.4" cy="136.9" r="2.50" fill="#fff" stroke="#000" stroke-width="0.7"/>
<circle cx="301.4" cy="133.0" r="2.50" fill="#fff" stroke="#000" stroke-width="0.7"/>
<circle cx="302.3" cy="137.3" r="2.50" fill="#fff" stroke="#000" stroke-width="0.7"/>
<circle cx="303.3" cy="133.4" r="2.50" fill="#fff" stroke="#000" stroke-width="0.7"/>
<circle cx="304.2" cy="137.8" r="2.50" fill="#fff" stroke="#000" stroke-width="0.7"/>
<circle cx="305.2" cy="138.5" r="2.50" fill="#fff" stroke="#000" stroke-width="0.7"/>
<circle cx="306.2" cy="138.6" r="2.50" fill="#fff" stroke="#000" stroke-width="0.7"/>
<circle cx="307.1" cy="138.4" r="2.50" fill="#fff" stroke="#000" stroke-width="0.7"/>
<circle cx="308.1" cy="137.6" r="2.50" fill="#fff" stroke="#000" stroke-width="0.7"/>
<circle cx="309.1" cy="134.6" r="2.50" fill="#fff" stroke="#000" stroke-width="0.7"/>
<circle cx="310.0" cy="135.9" r="2.50" fill="#fff" stroke="#000" stroke-width="0.7"/>
<circle cx="311.0" cy="135.2" r="2.50" fill="#fff" stroke="#000" stroke-width="0.7"/>
<circle cx="312.0" cy="138.5" r="2.50" fill="#fff" stroke="#000" stroke-width="0.7"/>
<circle cx="312.9" cy="134.0" r="2.50" fill="#fff" stroke="#000" stroke-width="0.7"/>
<circle cx="313.9" cy="135.3" r="2.50" fill="#fff" stroke="#000" stroke-width="0.7"/>
<circle cx="314.9" cy="138.1" r="2.50" fill="#fff" stroke="#000" stroke-width="0.7"/>
<circle cx="315.8" cy="138.1" r="2.50" fill="#fff" stroke="#000" stroke-width="0.7"/>
<circle cx="316.8" cy="136.2" r="2.50" fill="#fff" stroke="#000" stroke-width="0.7"/>
<circle cx="317.8" cy="139.3" r="2.50" fill="#fff" stroke="#000" stroke-width="0.7"/>
<circle cx="318.7" cy="138.5" r="2.50" fill="#fff" stroke="#000" stroke-width="0.7"/>
<circle cx="319.7" cy="135.3" r="2.50" fill="#fff" stroke="#000" stroke-width="0.7"/>
<circle cx="320.7" cy="138.2" r="2.50" fill="#fff" stroke="#000" stroke-width="0.7"/>
<circle cx="321.6" cy="139.7" r="2.50" fill="#fff" stroke="#000" stroke-width="0.7"/>
<circle cx="322.6" cy="136.7" r="2.50" fill="#fff" stroke="#000" stroke-width="0.7"/>
<circle cx="323.5" cy="141.4" r="2.50" fill="#fff" stroke="#000" stroke-width="0.7"/>
<circle cx="324.5" cy="137.8" r="2.50" fill="#fff" stroke="#000" stroke-width="0.7"/>
<circle cx="325.5" cy="137.7" r="2.50" fill="#fff" stroke="#000" stroke-width="0.7"/>
<circle cx="326.4" cy="136.3" r="2.50" fill="#fff" stroke="#000" stroke-width="0.7"/>
<circle cx="327.4" cy="139.6" r="2.50" fill="#fff" stroke="#000" stroke-width="0.7"/>
<circle cx="328.4" cy="137.8" r="2.50" fill="#fff" stroke="#000" stroke-width="0.7"/>
<circle cx="329.3" cy="138.4" r="2.50" fill="#fff" stroke="#000" stroke-width="0.7"/>
<circle cx="330.3" cy="139.5" r="2.50" fill="#fff" stroke="#000" stroke-width="0.7"/>
<circle cx="331.3" cy="140.7" r="2.50" fill="#fff" stroke="#000" stroke-width="0.7"/>
<circle cx="332.2" cy="139.2" r="2.50" fill="#fff" stroke="#000" stroke-width="0.7"/>
<circle cx="333.2" cy="141.3" r="2.50" fill="#fff" stroke="#000" stroke-width="0.7"/>
<circle cx="334.2" cy="141.7" r="2.50" fill="#fff" stroke="#000" stroke-width="0.7"/>
<circle cx="335.1" cy="142.1" r="2.50" fill="#fff" stroke="#000" stroke-width="0.7"/>
<circle cx="336.1" cy="139.6" r="2.50" fill="#fff" stroke="#000" stroke-width="0.7"/>
<circle cx="337.1" cy="144.2" r="2.50" fill="#fff" stroke="#000" stroke-width="0.7"/>
<circle cx="338.0" cy="142.8" r="2.50" fill="#fff" stroke="#000" stroke-width="0.7"/>
<circle cx="339.0" cy="142.0" r="2.50" fill="#fff" stroke="#000" stroke-width="0.7"/>
<circle cx="340.0" cy="141.7" r="2.50" fill="#fff" stroke="#000" stroke-width="0.7"/>
<circle cx="340.9" cy="142.6" r="2.50" fill="#fff" stroke="#000" stroke-width="0.7"/>
<circle cx="341.9" cy="146.3" r="2.50" fill="#fff" stroke="#000" stroke-width="0.7"/>
<circle cx="342.8" cy="143.5" r="2.50" fill="#fff" stroke="#000" stroke-width="0.7"/>
<circle cx="343.8" cy="143.5" r="2.50" fill="#fff" stroke="#000" stroke-width="0.7"/>
<circle cx="344.8" cy="141.7" r="2.50" fill="#fff" stroke="#000" stroke-width="0.7"/>
<circle cx="345.7" cy="147.5" r="2.50" fill="#fff" stroke="#000" stroke-width="0.7"/>
<circle cx="346.7" cy="147.8" r="2.50" fill="#fff" stroke="#000" stroke-width="0.7"/>
<circle cx="347.7" cy="142.8" r="2.50" fill="#fff" stroke="#000" stroke-width="0.7"/>
<circle cx="348.6" cy="148.5" r="2.50" fill="#fff" stroke="#000" stroke-width="0.7"/>
<circle cx="349.6" cy="148.1" r="2.50" fill="#fff" stroke="#000" stroke-width="0.7"/>
<circle cx="233.8" cy="157.9" r="2.85" fill="#000"/>
<circle cx="234.8" cy="158.1" r="2.85" fill="#000"/>
<circle cx="235.7" cy="157.3" r="2.85" fill="#000"/>
<circle cx="236.7" cy="159.6" r="2.85" fill="#000"/>
<circle cx="237.7" cy="156.2" r="2.85" fill="#000"/>
<circle cx="238.6" cy="156.6" r="2.85" fill="#000"/>
<circle cx="239.6" cy="157.2" r="2.85" fill="#000"/>
<circle cx="240.6" cy="158.2" r="2.85" fill="#000"/>
<circle cx="241.5" cy="158.3" r="2.85" fill="#000"/>
<circle cx="242.5" cy="160.6" r="2.85" fill="#000"/>
<circle cx="243.5" cy="160.2" r="2.85" fill="#000"/>
<circle cx="244.4" cy="158.4" r="2.85" fill="#000"/>
<circle cx="245.4" cy="159.2" r="2.85" fill="#000"/>
<circle cx="246.3" cy="158.9" r="2.85" fill="#000"/>
<circle cx="247.3" cy="159.4" r="2.85" fill="#000"/>
<circle cx="248.3" cy="156.5" r="2.85" fill="#000"/>
<circle cx="249.2" cy="157.9" r="2.85" fill="#000"/>
<circle cx="250.2" cy="155.8" r="2.85" fill="#000"/>
<circle cx="251.2" cy="156.4" r="2.85" fill="#000"/>
<circle cx="252.1" cy="159.2" r="2.85" fill="#000"/>
<circle cx="253.1" cy="157.6" r="2.85" fill="#000"/>
<circle cx="254.1" cy="157.1" r="2.85" fill="#000"/>
<circle cx="255.0" cy="159.6" r="2.85" fill="#000"/>
<circle cx="256.0" cy="159.1" r="2.85" fill="#000"/>
<circle cx="257.0" cy="158.4" r="2.85" fill="#000"/>
<circle cx="257.9" cy="158.0" r="2.85" fill="#000"/>
<circle cx="258.9" cy="159.3" r="2.85" fill="#000"/>
<circle cx="259.9" cy="155.3" r="2.85" fill="#000"/>
<circle cx="260.8" cy="151.8" r="2.85" fill="#000"/>
<circle cx="261.8" cy="149.8" r="2.85" fill="#000"/>
<circle cx="262.8" cy="150.2" r="2.85" fill="#000"/>
<circle cx="263.7" cy="151.9" r="2.85" fill="#000"/>
<circle cx="264.7" cy="148.3" r="2.85" fill="#000"/>
<circle cx="265.6" cy="144.8" r="2.85" fill="#000"/>
<circle cx="266.6" cy="146.1" r="2.85" fill="#000"/>
<circle cx="267.6" cy="145.8" r="2.85" fill="#000"/>
<circle cx="268.5" cy="145.6" r="2.85" fill="#000"/>
<circle cx="269.5" cy="144.0" r="2.85" fill="#000"/>
<circle cx="270.5" cy="143.3" r="2.85" fill="#000"/>
<circle cx="271.4" cy="141.9" r="2.85" fill="#000"/>
<circle cx="272.4" cy="139.9" r="2.85" fill="#000"/>
<circle cx="273.4" cy="137.9" r="2.85" fill="#000"/>
<circle cx="274.3" cy="139.3" r="2.85" fill="#000"/>
<circle cx="275.3" cy="136.4" r="2.85" fill="#000"/>
<circle cx="276.3" cy="138.3" r="2.85" fill="#000"/>
<circle cx="277.2" cy="136.3" r="2.85" fill="#000"/>
<circle cx="278.2" cy="133.8" r="2.85" fill="#000"/>
<circle cx="279.2" cy="134.0" r="2.85" fill="#000"/>
<circle cx="280.1" cy="137.1" r="2.85" fill="#000"/>
<circle cx="281.1" cy="132.5" r="2.85" fill="#000"/>
<circle cx="282.1" cy="133.9" r="2.85" fill="#000"/>
<circle cx="283.0" cy="134.9" r="2.85" fill="#000"/>
<circle cx="284.0" cy="133.7" r="2.85" fill="#000"/>
<circle cx="284.9" cy="132.9" r="2.85" fill="#000"/>
<circle cx="285.9" cy="132.5" r="2.85" fill="#000"/>
<circle cx="286.9" cy="133.6" r="2.85" fill="#000"/>
<circle cx="287.8" cy="135.5" r="2.85" fill="#000"/>
<circle cx="288.8" cy="135.4" r="2.85" fill="#000"/>
<circle cx="289.8" cy="133.0" r="2.85" fill="#000"/>
<circle cx="290.7" cy="132.4" r="2.85" fill="#000"/>
<circle cx="291.7" cy="157.6" r="2.85" fill="#000"/>
<circle cx="292.7" cy="161.8" r="2.85" fill="#000"/>
<circle cx="293.6" cy="164.3" r="2.85" fill="#000"/>
<circle cx="294.6" cy="169.0" r="2.85" fill="#000"/>
<circle cx="295.6" cy="168.8" r="2.85" fill="#000"/>
<circle cx="296.5" cy="172.3" r="2.85" fill="#000"/>
<circle cx="297.5" cy="175.0" r="2.85" fill="#000"/>
<circle cx="298.5" cy="178.3" r="2.85" fill="#000"/>
<circle cx="299.4" cy="178.9" r="2.85" fill="#000"/>
<circle cx="300.4" cy="182.5" r="2.85" fill="#000"/>
<circle cx="301.4" cy="181.2" r="2.85" fill="#000"/>
<circle cx="302.3" cy="184.9" r="2.85" fill="#000"/>
<circle cx="303.3" cy="185.4" r="2.85" fill="#000"/>
<circle cx="304.2" cy="181.3" r="2.85" fill="#000"/>
<circle cx="305.2" cy="184.4" r="2.85" fill="#000"/>
<circle cx="306.2" cy="185.5" r="2.85" fill="#000"/>
<circle cx="307.1" cy="183.5" r="2.85" fill="#000"/>
<circle cx="308.1" cy="186.0" r="2.85" fill="#000"/>
<circle cx="309.1" cy="186.3" r="2.85" fill="#000"/>
<circle cx="310.0" cy="183.5" r="2.85" fill="#000"/>
<circle cx="311.0" cy="184.7" r="2.85" fill="#000"/>
<circle cx="312.0" cy="186.2" r="2.85" fill="#000"/>
<circle cx="312.9" cy="186.4" r="2.85" fill="#000"/>
<circle cx="313.9" cy="185.7" r="2.85" fill="#000"/>
<circle cx="314.9" cy="187.8" r="2.85" fill="#000"/>
<circle cx="315.8" cy="188.5" r="2.85" fill="#000"/>
<circle cx="316.8" cy="188.7" r="2.85" fill="#000"/>
<circle cx="317.8" cy="187.1" r="2.85" fill="#000"/>
<circle cx="318.7" cy="189.1" r="2.85" fill="#000"/>
<circle cx="319.7" cy="186.1" r="2.85" fill="#000"/>
<circle cx="320.7" cy="186.9" r="2.85" fill="#000"/>
<circle cx="321.6" cy="186.6" r="2.85" fill="#000"/>
<circle cx="322.6" cy="187.2" r="2.85" fill="#000"/>
<circle cx="323.5" cy="187.0" r="2.85" fill="#000"/>
<circle cx="324.5" cy="190.7" r="2.85" fill="#000"/>
<circle cx="325.5" cy="189.1" r="2.85" fill="#000"/>
<circle cx="326.4" cy="190.7" r="2.85" fill="#000"/>
<circle cx="327.4" cy="186.9" r="2.85" fill="#000"/>
<circle cx="328.4" cy="189.8" r="2.85" fill="#000"/>
<circle cx="329.3" cy="188.1" r="2.85" fill="#000"/>
<circle cx="330.3" cy="188.9" r="2.85" fill="#000"/>
<circle cx="331.3" cy="191.1" r="2.85" fill="#000"/>
<circle cx="332.2" cy="193.3" r="2.85" fill="#000"/>
<circle cx="333.2" cy="190.0" r="2.85" fill="#000"/>
<circle cx="334.2" cy="194.3" r="2.85" fill="#000"/>
<circle cx="335.1" cy="191.7" r="2.85" fill="#000"/>
<circle cx="336.1" cy="191.0" r="2.85" fill="#000"/>
<circle cx="337.1" cy="193.0" r="2.85" fill="#000"/>
<circle cx="338.0" cy="194.3" r="2.85" fill="#000"/>
<circle cx="339.0" cy="192.5" r="2.85" fill="#000"/>
<circle cx="340.0" cy="195.1" r="2.85" fill="#000"/>
<circle cx="340.9" cy="192.2" r="2.85" fill="#000"/>
<circle cx="341.9" cy="192.6" r="2.85" fill="#000"/>
<circle cx="342.8" cy="191.9" r="2.85" fill="#000"/>
<circle cx="343.8" cy="193.4" r="2.85" fill="#000"/>
<circle cx="344.8" cy="191.8" r="2.85" fill="#000"/>
<circle cx="345.7" cy="194.4" r="2.85" fill="#000"/>
<circle cx="346.7" cy="192.7" r="2.85" fill="#000"/>
<circle cx="347.7" cy="191.9" r="2.85" fill="#000"/>
<circle cx="348.6" cy="195.1" r="2.85" fill="#000"/>
<circle cx="349.6" cy="194.9" r="2.85" fill="#000"/>
<line x1="233.80" y1="91.00" x2="233.80" y2="206.50" stroke="#000" stroke-width="1.2" />
<line x1="230.40" y1="91.50" x2="234.30" y2="91.50" stroke="#000" stroke-width="1.0" />
<text x="213.7" y="94.5" font-size="8.6" font-weight="700"><tspan textLength="10.3" lengthAdjust="spacingAndGlyphs">10</tspan><tspan font-size="5.6" font-weight="400" dx="0.7" dy="-3.4">-1</tspan></text>
<line x1="231.80" y1="107.58" x2="233.80" y2="107.58" stroke="#000" stroke-width="0.7" />
<line x1="231.80" y1="103.53" x2="233.80" y2="103.53" stroke="#000" stroke-width="0.7" />
<line x1="231.80" y1="100.65" x2="233.80" y2="100.65" stroke="#000" stroke-width="0.7" />
<line x1="231.80" y1="98.42" x2="233.80" y2="98.42" stroke="#000" stroke-width="0.7" />
<line x1="231.80" y1="96.60" x2="233.80" y2="96.60" stroke="#000" stroke-width="0.7" />
<line x1="231.80" y1="95.06" x2="233.80" y2="95.06" stroke="#000" stroke-width="0.7" />
<line x1="231.80" y1="93.73" x2="233.80" y2="93.73" stroke="#000" stroke-width="0.7" />
<line x1="231.80" y1="92.55" x2="233.80" y2="92.55" stroke="#000" stroke-width="0.7" />
<line x1="230.40" y1="114.50" x2="234.30" y2="114.50" stroke="#000" stroke-width="1.0" />
<text x="213.7" y="117.5" font-size="8.6" font-weight="700"><tspan textLength="10.3" lengthAdjust="spacingAndGlyphs">10</tspan><tspan font-size="5.6" font-weight="400" dx="0.7" dy="-3.4">-2</tspan></text>
<line x1="231.80" y1="130.58" x2="233.80" y2="130.58" stroke="#000" stroke-width="0.7" />
<line x1="231.80" y1="126.53" x2="233.80" y2="126.53" stroke="#000" stroke-width="0.7" />
<line x1="231.80" y1="123.65" x2="233.80" y2="123.65" stroke="#000" stroke-width="0.7" />
<line x1="231.80" y1="121.42" x2="233.80" y2="121.42" stroke="#000" stroke-width="0.7" />
<line x1="231.80" y1="119.60" x2="233.80" y2="119.60" stroke="#000" stroke-width="0.7" />
<line x1="231.80" y1="118.06" x2="233.80" y2="118.06" stroke="#000" stroke-width="0.7" />
<line x1="231.80" y1="116.73" x2="233.80" y2="116.73" stroke="#000" stroke-width="0.7" />
<line x1="231.80" y1="115.55" x2="233.80" y2="115.55" stroke="#000" stroke-width="0.7" />
<line x1="230.40" y1="137.50" x2="234.30" y2="137.50" stroke="#000" stroke-width="1.0" />
<text x="213.7" y="140.5" font-size="8.6" font-weight="700"><tspan textLength="10.3" lengthAdjust="spacingAndGlyphs">10</tspan><tspan font-size="5.6" font-weight="400" dx="0.7" dy="-3.4">-3</tspan></text>
<line x1="231.80" y1="153.58" x2="233.80" y2="153.58" stroke="#000" stroke-width="0.7" />
<line x1="231.80" y1="149.53" x2="233.80" y2="149.53" stroke="#000" stroke-width="0.7" />
<line x1="231.80" y1="146.65" x2="233.80" y2="146.65" stroke="#000" stroke-width="0.7" />
<line x1="231.80" y1="144.42" x2="233.80" y2="144.42" stroke="#000" stroke-width="0.7" />
<line x1="231.80" y1="142.60" x2="233.80" y2="142.60" stroke="#000" stroke-width="0.7" />
<line x1="231.80" y1="141.06" x2="233.80" y2="141.06" stroke="#000" stroke-width="0.7" />
<line x1="231.80" y1="139.73" x2="233.80" y2="139.73" stroke="#000" stroke-width="0.7" />
<line x1="231.80" y1="138.55" x2="233.80" y2="138.55" stroke="#000" stroke-width="0.7" />
<line x1="230.40" y1="160.50" x2="234.30" y2="160.50" stroke="#000" stroke-width="1.0" />
<text x="213.7" y="163.5" font-size="8.6" font-weight="700"><tspan textLength="10.3" lengthAdjust="spacingAndGlyphs">10</tspan><tspan font-size="5.6" font-weight="400" dx="0.7" dy="-3.4">-4</tspan></text>
<line x1="231.80" y1="176.58" x2="233.80" y2="176.58" stroke="#000" stroke-width="0.7" />
<line x1="231.80" y1="172.53" x2="233.80" y2="172.53" stroke="#000" stroke-width="0.7" />
<line x1="231.80" y1="169.65" x2="233.80" y2="169.65" stroke="#000" stroke-width="0.7" />
<line x1="231.80" y1="167.42" x2="233.80" y2="167.42" stroke="#000" stroke-width="0.7" />
<line x1="231.80" y1="165.60" x2="233.80" y2="165.60" stroke="#000" stroke-width="0.7" />
<line x1="231.80" y1="164.06" x2="233.80" y2="164.06" stroke="#000" stroke-width="0.7" />
<line x1="231.80" y1="162.73" x2="233.80" y2="162.73" stroke="#000" stroke-width="0.7" />
<line x1="231.80" y1="161.55" x2="233.80" y2="161.55" stroke="#000" stroke-width="0.7" />
<line x1="230.40" y1="183.50" x2="234.30" y2="183.50" stroke="#000" stroke-width="1.0" />
<text x="213.7" y="186.5" font-size="8.6" font-weight="700"><tspan textLength="10.3" lengthAdjust="spacingAndGlyphs">10</tspan><tspan font-size="5.6" font-weight="400" dx="0.7" dy="-3.4">-5</tspan></text>
<line x1="231.80" y1="199.58" x2="233.80" y2="199.58" stroke="#000" stroke-width="0.7" />
<line x1="231.80" y1="195.53" x2="233.80" y2="195.53" stroke="#000" stroke-width="0.7" />
<line x1="231.80" y1="192.65" x2="233.80" y2="192.65" stroke="#000" stroke-width="0.7" />
<line x1="231.80" y1="190.42" x2="233.80" y2="190.42" stroke="#000" stroke-width="0.7" />
<line x1="231.80" y1="188.60" x2="233.80" y2="188.60" stroke="#000" stroke-width="0.7" />
<line x1="231.80" y1="187.06" x2="233.80" y2="187.06" stroke="#000" stroke-width="0.7" />
<line x1="231.80" y1="185.73" x2="233.80" y2="185.73" stroke="#000" stroke-width="0.7" />
<line x1="231.80" y1="184.55" x2="233.80" y2="184.55" stroke="#000" stroke-width="0.7" />
<line x1="230.40" y1="206.50" x2="234.30" y2="206.50" stroke="#000" stroke-width="1.0" />
<text x="213.7" y="209.5" font-size="8.6" font-weight="700"><tspan textLength="10.3" lengthAdjust="spacingAndGlyphs">10</tspan><tspan font-size="5.6" font-weight="400" dx="0.7" dy="-3.4">-6</tspan></text>
<line x1="233.20" y1="206.50" x2="349.60" y2="206.50" stroke="#000" stroke-width="1.2" />
<line x1="233.80" y1="206.50" x2="233.80" y2="209.50" stroke="#000" stroke-width="1.0" />
<text x="233.8" y="219.1" font-size="8.6" font-weight="700" text-anchor="middle" fill="#000" textLength="5.1" lengthAdjust="spacingAndGlyphs">0</text>
<line x1="272.40" y1="206.50" x2="272.40" y2="209.50" stroke="#000" stroke-width="1.0" />
<text x="272.4" y="219.1" font-size="8.6" font-weight="700" text-anchor="middle" fill="#000" textLength="20.5" lengthAdjust="spacingAndGlyphs">2000</text>
<line x1="311.00" y1="206.50" x2="311.00" y2="209.50" stroke="#000" stroke-width="1.0" />
<text x="311.0" y="219.1" font-size="8.6" font-weight="700" text-anchor="middle" fill="#000" textLength="20.5" lengthAdjust="spacingAndGlyphs">4000</text>
<line x1="349.60" y1="206.50" x2="349.60" y2="209.50" stroke="#000" stroke-width="1.0" />
<text x="349.6" y="219.1" font-size="8.6" font-weight="700" text-anchor="middle" fill="#000" textLength="20.5" lengthAdjust="spacingAndGlyphs">6000</text>
<text x="290.9" y="231.7" font-size="9.2" font-weight="700" text-anchor="middle" fill="#000" >Time [sec]</text>
<text transform="translate(210.0,148.9) rotate(-90)" font-size="10.8" font-weight="700" text-anchor="middle" textLength="62.5" lengthAdjust="spacingAndGlyphs">Power [mV<tspan font-size="7" dy="-4">2</tspan><tspan dy="4">]</tspan></text>
<text x="259.5" y="60.9" font-size="9.2" font-weight="400" text-anchor="middle" fill="#222" >MK801</text>
<text x="259.5" y="71.9" font-size="9.2" font-weight="400" text-anchor="middle" fill="#222" >(i.p.)</text>
<text x="300.4" y="60.9" font-size="9.2" font-weight="400" text-anchor="middle" fill="#222" >Sal/Musc</text>
<text x="300.4" y="71.9" font-size="9.2" font-weight="400" text-anchor="middle" fill="#222" >(OB-inf.)</text>
<line x1="259.47" y1="74.90" x2="259.47" y2="80.70" stroke="#000" stroke-width="1.3" />
<path d="M256.17,79.70 L262.77,79.70 L259.47,87.50 Z" fill="#000"/>
<line x1="291.70" y1="74.90" x2="291.70" y2="80.70" stroke="#000" stroke-width="1.3" />
<path d="M288.40,79.70 L295.00,79.70 L291.70,87.50 Z" fill="#000"/>
<circle cx="305.3" cy="88.0" r="2.25" fill="#fff" stroke="#000" stroke-width="0.7"/>
<circle cx="305.3" cy="100.8" r="2.6" fill="#000"/>
<text x="318.8" y="91.2" font-size="9.2" font-weight="400" text-anchor="start" fill="#222" >Sal (OB-inf.)</text>
<text x="318.8" y="104.0" font-size="9.2" font-weight="400" text-anchor="start" fill="#222" >Musc (OB-inf.)</text>
<path d="M233.7,398.8L234.0,398.3L234.3,402.3L234.6,401.4L234.9,399.6L235.2,400.8L235.5,403.5L235.8,403.9L236.1,405.0L236.4,405.4L236.8,404.5L237.1,402.1L237.4,406.6L237.7,404.3L238.0,401.9L238.3,406.9L238.6,407.0L238.9,404.5L239.2,404.3L239.5,407.4L239.8,406.3L240.1,405.5L240.4,406.8L240.7,405.2L241.0,404.0L241.3,407.6L241.6,406.0L241.9,409.3L242.2,408.1L242.6,405.9L242.9,410.4L243.2,408.5L243.5,410.0L243.8,409.5L244.1,411.5L244.4,411.5L244.7,412.7L245.0,411.5L245.3,413.5L245.6,413.1L245.9,412.1L246.2,412.5L246.5,414.6L246.8,413.9L247.1,412.3L247.4,416.7L247.7,413.0L248.0,416.3L248.4,417.6L248.7,412.8L249.0,415.7L249.3,416.9L249.6,414.4L249.9,418.0L250.2,416.9L250.5,418.3L250.8,415.2L251.1,418.7L251.4,419.1L251.7,418.0L252.0,417.3L252.3,419.1L252.6,416.5L252.9,419.1L253.2,417.1L253.5,416.5L253.8,415.4L254.2,413.0L254.5,413.4L254.8,413.9L255.1,412.4L255.4,414.7L255.7,412.6L256.0,416.4L256.3,411.5L256.6,411.5L256.9,413.4L257.2,414.2L257.5,414.3L257.8,411.1L258.1,413.1L258.4,415.3L258.7,412.2L259.0,414.6L259.3,414.1L259.6,415.0L260.0,413.9L260.3,411.4L260.6,410.4L260.9,415.2L261.2,412.9L261.5,411.6L261.8,413.8L262.1,409.9L262.4,413.0L262.7,413.7L263.0,413.5L263.3,411.8L263.6,413.0L263.9,410.1L264.2,411.4L264.5,407.6L264.8,410.4L265.1,407.0L265.4,406.9L265.8,404.7L266.1,405.7L266.4,404.9L266.7,405.7L267.0,406.2L267.3,406.2L267.6,405.6L267.9,402.1L268.2,400.9L268.5,403.4L268.8,400.1L269.1,403.9L269.4,399.5L269.7,399.3L270.0,399.7L270.3,400.4L270.6,400.1L270.9,397.3L271.2,400.1L271.6,395.5L271.9,400.1L272.2,395.1L272.5,397.5L272.8,397.3L273.1,393.8L273.4,396.9L273.7,397.5L274.0,397.1L274.3,395.8L274.6,394.8L274.9,395.2L275.2,391.2L275.5,395.1L275.8,392.5L276.1,392.3L276.4,390.6L276.7,391.3L277.0,391.0L277.4,392.0L277.7,390.1L278.0,388.7L278.3,388.9L278.6,388.0L278.9,390.5L279.2,389.2L279.5,387.6L279.8,391.4L280.1,391.0L280.4,391.0L280.7,390.1L281.0,387.0L281.3,384.8L281.6,384.4L281.9,388.0L282.2,386.3L282.5,384.4L282.8,385.4L283.2,386.8L283.5,384.6L283.8,382.3L284.1,382.4L284.4,385.6L284.7,383.7L285.0,386.7L285.3,383.9L285.6,381.9L285.9,384.3L286.2,381.2L286.5,383.1L286.8,382.1L287.1,383.3L287.4,383.0L287.7,384.2L288.0,379.6L288.3,383.3L288.6,384.0L289.0,381.0L289.3,381.4L289.6,381.2L289.9,382.5L290.2,378.7L290.5,381.3L290.8,383.0L291.1,382.7L291.4,381.7L291.7,378.5L292.0,381.7L292.3,381.3L292.6,379.8L292.9,379.6L293.2,381.9L293.5,377.9L293.8,382.4L294.1,381.8L294.4,382.0L294.8,382.2L294.8,409.8L294.4,404.1L294.1,409.0L293.8,405.9L293.5,407.7L293.2,408.7L292.9,403.4L292.6,403.2L292.3,406.7L292.0,407.8L291.7,405.2L291.4,405.7L291.1,405.6L290.8,406.3L290.5,406.8L290.2,405.9L289.9,406.2L289.6,406.5L289.3,408.2L289.0,405.1L288.6,409.5L288.3,407.2L288.0,409.7L287.7,408.3L287.4,409.0L287.1,406.4L286.8,408.9L286.5,406.5L286.2,412.7L285.9,408.4L285.6,411.4L285.3,411.4L285.0,407.9L284.7,411.4L284.4,413.5L284.1,409.5L283.8,412.8L283.5,414.4L283.2,408.1L282.8,410.0L282.5,411.1L282.2,409.8L281.9,415.5L281.6,409.2L281.3,414.9L281.0,416.9L280.7,415.2L280.4,412.3L280.1,411.2L279.8,412.0L279.5,412.5L279.2,417.5L278.9,415.3L278.6,417.7L278.3,418.0L278.0,416.8L277.7,415.4L277.4,417.5L277.0,416.8L276.7,417.6L276.4,418.1L276.1,419.4L275.8,418.2L275.5,420.2L275.2,419.8L274.9,417.9L274.6,417.2L274.3,421.4L274.0,417.8L273.7,419.3L273.4,424.0L273.1,424.1L272.8,419.4L272.5,424.3L272.2,425.4L271.9,426.0L271.6,424.1L271.2,422.5L270.9,422.3L270.6,424.5L270.3,424.8L270.0,424.4L269.7,426.0L269.4,428.0L269.1,428.7L268.8,426.8L268.5,431.4L268.2,429.8L267.9,428.0L267.6,426.7L267.3,430.9L267.0,428.3L266.7,430.5L266.4,430.7L266.1,431.4L265.8,433.5L265.4,434.9L265.1,433.4L264.8,435.1L264.5,437.8L264.2,435.6L263.9,439.0L263.6,436.8L263.3,439.1L263.0,441.0L262.7,437.4L262.4,436.4L262.1,434.4L261.8,436.9L261.5,437.1L261.2,436.0L260.9,438.4L260.6,437.6L260.3,439.9L260.0,440.2L259.6,435.8L259.3,440.3L259.0,438.3L258.7,438.3L258.4,439.4L258.1,440.1L257.8,440.7L257.5,437.9L257.2,436.4L256.9,441.6L256.6,442.6L256.3,441.8L256.0,441.2L255.7,440.2L255.4,438.8L255.1,440.4L254.8,443.2L254.5,440.1L254.2,444.6L253.8,442.5L253.5,445.6L253.2,440.5L252.9,445.8L252.6,444.8L252.3,441.9L252.0,442.1L251.7,445.4L251.4,447.0L251.1,446.2L250.8,440.6L250.5,446.2L250.2,443.5L249.9,442.5L249.6,443.1L249.3,443.9L249.0,437.9L248.7,445.0L248.4,441.9L248.0,437.0L247.7,439.1L247.4,438.2L247.1,442.5L246.8,436.7L246.5,441.8L246.2,441.6L245.9,441.2L245.6,435.7L245.3,436.6L245.0,437.5L244.7,434.4L244.4,437.1L244.1,435.6L243.8,436.8L243.5,433.8L243.2,434.0L242.9,436.0L242.6,433.4L242.2,433.3L241.9,431.0L241.6,434.1L241.3,431.6L241.0,433.6L240.7,435.7L240.4,428.5L240.1,431.6L239.8,431.0L239.5,433.8L239.2,427.9L238.9,428.5L238.6,429.4L238.3,430.0L238.0,433.8L237.7,427.1L237.4,433.1L237.1,426.2L236.8,428.7L236.4,430.3L236.1,430.8L235.8,431.0L235.5,427.0L235.2,428.2L234.9,427.2L234.6,428.3L234.3,424.6L234.0,422.3L233.7,425.7Z" fill="#e0e0e0"/>
<path d="M233.7,388.2V432.4M234.0,394.5V432.5M234.3,393.0V433.0M234.6,396.9V429.8M234.9,394.1V438.1M235.2,391.7V426.4M235.5,402.3V428.3M235.8,397.6V431.5M236.1,398.9V436.2M236.4,391.4V428.4M236.8,398.3V434.2M237.1,395.7V433.3M237.4,400.6V430.8M237.7,398.4V428.8M238.0,389.7V433.4M238.3,397.5V439.0M238.6,394.0V432.4M238.9,392.9V435.1M239.2,398.5V430.5M239.5,402.6V437.5M239.8,395.7V433.2M240.1,391.7V432.1M240.4,398.0V440.8M240.7,399.4V438.5M241.0,401.9V432.3M241.3,404.4V438.7M241.6,394.1V435.8M241.9,399.4V436.9M242.2,405.6V441.1M242.6,403.7V440.3M242.9,402.5V438.6M243.2,394.9V440.5M243.5,410.0V441.5M243.8,401.5V442.9M244.1,397.0V443.1M244.4,405.2V435.7M244.7,407.9V442.2M245.0,406.1V442.0M245.3,402.8V444.2M245.6,413.1V445.2M245.9,405.9V447.2M246.2,407.6V446.5M246.5,402.7V446.5M246.8,409.7V442.2M247.1,413.3V451.8M247.4,409.2V441.5M247.7,407.3V441.1M248.0,409.4V448.4M248.4,405.7V449.7M248.7,417.5V446.3M249.0,407.4V441.3M249.3,408.8V444.4M249.6,415.8V454.1M249.9,408.6V450.5M250.2,423.3V458.2M250.5,408.0V442.6M250.8,410.3V452.3M251.1,410.0V451.4M251.4,411.1V448.3M251.7,406.9V444.9M252.0,411.4V446.9M252.3,412.4V442.4M252.6,412.3V449.0M252.9,417.2V444.5M253.2,410.2V452.7M253.5,406.9V443.1M253.8,413.9V453.1M254.2,415.7V452.0M254.5,409.6V444.9M254.8,413.1V443.7M255.1,416.0V444.5M255.4,406.1V451.5M255.7,412.9V449.0M256.0,404.8V451.2M256.3,409.9V450.1M256.6,401.8V441.3M256.9,400.2V441.3M257.2,409.4V443.6M257.5,411.6V441.2M257.8,406.3V441.5M258.1,408.0V443.1M258.4,408.0V453.2M258.7,411.4V451.3M259.0,406.6V444.4M259.3,405.8V443.6M259.6,405.5V444.0M260.0,409.1V439.8M260.3,413.0V448.3M260.6,405.8V438.2M260.9,408.9V445.7M261.2,406.1V443.2M261.5,402.8V448.4M261.8,406.6V444.9M262.1,411.6V446.8M262.4,411.1V441.3M262.7,403.9V435.1M263.0,403.6V447.6M263.3,405.5V439.0M263.6,408.5V448.1M263.9,406.5V443.8M264.2,398.8V436.0M264.5,403.9V445.2M264.8,403.9V442.3M265.1,403.0V444.4M265.4,404.1V437.7M265.8,395.9V435.4M266.1,397.5V437.8M266.4,403.7V444.0M266.7,397.7V433.5M267.0,397.1V434.8M267.3,399.5V436.3M267.6,401.4V430.4M267.9,399.1V435.4M268.2,394.1V433.3M268.5,398.0V438.5M268.8,393.9V433.6M269.1,396.6V433.6M269.4,396.3V435.4M269.7,396.4V431.2M270.0,395.3V425.4M270.3,393.1V431.8M270.6,395.9V426.9M270.9,396.7V426.0M271.2,389.3V432.6M271.6,398.9V431.5M271.9,399.7V432.5M272.2,388.6V429.3M272.5,394.9V426.5M272.8,393.7V427.0M273.1,387.0V428.4M273.4,385.3V428.3M273.7,390.5V420.3M274.0,393.4V429.7M274.3,390.0V432.2M274.6,385.7V428.1M274.9,382.3V419.4M275.2,387.8V423.0M275.5,388.1V421.9M275.8,381.1V420.2M276.1,385.4V427.5M276.4,375.0V423.8M276.7,387.2V429.9M277.0,388.2V421.6M277.4,387.5V421.2M277.7,383.2V420.9M278.0,383.6V425.2M278.3,383.9V423.0M278.6,386.3V420.8M278.9,383.5V429.6M279.2,381.9V419.9M279.5,382.3V419.8M279.8,377.6V417.6M280.1,386.1V421.1M280.4,385.8V418.9M280.7,381.6V421.8M281.0,376.8V423.0M281.3,381.9V416.0M281.6,377.0V417.6M281.9,387.9V417.4M282.2,384.9V409.3M282.5,378.9V413.4M282.8,378.6V418.0M283.2,380.8V421.5M283.5,384.9V419.6M283.8,375.3V411.8M284.1,384.2V415.4M284.4,377.7V413.5M284.7,385.7V424.8M285.0,377.7V412.2M285.3,383.9V418.8M285.6,380.2V413.4M285.9,381.4V421.7M286.2,382.7V417.4M286.5,379.2V416.1M286.8,373.3V413.0M287.1,372.7V419.0M287.4,376.2V409.2M287.7,376.9V409.9M288.0,380.3V408.3M288.3,378.2V408.3M288.6,370.3V409.8M289.0,376.8V417.6M289.3,373.2V412.6M289.6,370.8V409.1M289.9,378.6V406.5M290.2,376.3V420.5M290.5,368.5V412.7M290.8,372.4V410.0M291.1,376.0V415.7M291.4,374.4V405.3M291.7,374.8V407.9M292.0,373.2V405.0M292.3,372.3V405.5M292.6,368.3V412.2M292.9,372.7V407.8M293.2,379.7V415.0M293.5,370.6V410.8M293.8,376.4V407.2M294.1,378.7V407.0M294.4,372.7V412.5M294.8,375.1V412.2" stroke="#cfcfcf" stroke-width="0.8" fill="none"/>
<path d="M294.8,384.6L295.1,379.4L295.4,383.5L295.7,380.7L296.0,382.6L296.3,383.3L296.6,384.6L296.9,384.7L297.2,379.3L297.5,382.0L297.8,381.6L298.1,384.6L298.4,383.4L298.7,381.6L299.0,383.3L299.3,384.4L299.6,379.1L299.9,383.0L300.2,379.6L300.5,381.9L300.9,384.8L301.2,380.2L301.5,380.9L301.8,384.3L302.1,385.1L302.4,381.5L302.7,382.7L303.0,380.0L303.3,384.0L303.6,384.3L303.9,379.7L304.2,381.6L304.5,384.1L304.8,382.7L305.1,384.1L305.4,380.2L305.7,380.3L306.0,381.4L306.3,383.9L306.7,384.2L307.0,380.5L307.3,379.9L307.6,379.8L307.9,381.5L308.2,383.9L308.5,382.9L308.8,381.1L309.1,381.6L309.4,380.8L309.7,379.7L310.0,380.0L310.3,382.3L310.6,384.1L310.9,382.3L311.2,382.3L311.5,384.4L311.8,383.8L312.1,384.3L312.5,382.0L312.8,380.4L313.1,380.1L313.4,383.9L313.7,381.7L314.0,384.6L314.3,380.3L314.6,385.3L314.9,383.7L315.2,380.2L315.5,383.9L315.8,385.5L316.1,380.7L316.4,383.7L316.7,380.8L317.0,383.5L317.3,385.8L317.6,384.8L317.9,380.4L318.3,381.5L318.6,383.8L318.9,381.7L319.2,383.9L319.5,385.0L319.8,380.4L320.1,381.6L320.4,383.9L320.7,381.3L321.0,382.9L321.3,382.0L321.6,385.6L321.9,385.1L322.2,383.1L322.5,380.6L322.8,385.1L323.1,380.5L323.4,385.3L323.7,381.2L324.1,383.2L324.4,382.6L324.7,382.4L325.0,383.5L325.3,382.6L325.6,385.9L325.9,384.0L326.2,384.6L326.5,381.7L326.8,384.1L327.1,381.8L327.4,386.7L327.7,385.6L328.0,386.5L328.3,382.0L328.6,382.3L328.9,386.4L329.2,385.9L329.5,385.2L329.9,382.8L330.2,386.1L330.5,382.6L330.8,387.0L331.1,386.3L331.4,385.4L331.7,383.4L332.0,387.1L332.3,385.1L332.6,382.3L332.9,387.8L333.2,387.0L333.5,384.7L333.8,386.0L334.1,382.7L334.4,386.3L334.7,384.6L335.0,383.8L335.3,388.2L335.7,386.9L336.0,387.4L336.3,388.4L336.6,386.1L336.9,387.2L337.2,388.2L337.5,386.3L337.8,383.7L338.1,389.0L338.4,384.3L338.7,386.5L339.0,387.6L339.3,384.1L339.6,387.9L339.9,384.6L340.2,385.7L340.5,387.1L340.8,384.6L341.1,386.2L341.5,388.5L341.8,390.1L342.1,386.3L342.4,385.6L342.7,388.4L343.0,385.4L343.3,389.1L343.6,385.2L343.9,390.1L344.2,387.0L344.5,389.7L344.8,387.8L345.1,390.5L345.4,391.0L345.7,388.0L346.0,387.6L346.3,386.7L346.6,386.3L346.9,387.0L347.3,390.4L347.6,388.9L347.9,386.9L348.2,386.8L348.5,392.2L348.8,386.6L349.1,390.3L349.4,388.7L349.7,387.5L350.0,387.5L350.3,389.1L350.6,390.5L350.9,387.1L351.2,393.1L351.5,392.5L351.8,388.1L352.1,391.0L352.4,392.2L352.7,393.3L353.1,392.1L353.4,387.9L353.7,388.8L354.0,389.6L354.3,388.9L354.6,391.9L354.9,392.8L355.2,391.4L355.5,392.7L355.8,392.8L355.8,414.5L355.5,415.9L355.2,414.2L354.9,418.0L354.6,415.7L354.3,416.7L354.0,414.3L353.7,413.6L353.4,416.0L353.1,417.1L352.7,415.9L352.4,412.9L352.1,418.7L351.8,417.4L351.5,412.5L351.2,415.9L350.9,415.9L350.6,414.9L350.3,418.5L350.0,413.9L349.7,418.2L349.4,414.7L349.1,412.8L348.8,412.2L348.5,413.3L348.2,417.9L347.9,415.5L347.6,414.3L347.3,414.1L346.9,412.0L346.6,417.4L346.3,415.3L346.0,416.4L345.7,416.7L345.4,411.3L345.1,415.7L344.8,414.8L344.5,414.8L344.2,415.6L343.9,411.7L343.6,412.3L343.3,411.9L343.0,415.1L342.7,410.5L342.4,413.7L342.1,415.8L341.8,415.7L341.5,414.7L341.1,410.8L340.8,410.2L340.5,412.6L340.2,415.8L339.9,412.0L339.6,414.8L339.3,412.0L339.0,409.0L338.7,413.9L338.4,412.5L338.1,414.2L337.8,411.7L337.5,414.0L337.2,413.3L336.9,409.2L336.6,414.5L336.3,413.4L336.0,408.5L335.7,413.6L335.3,409.4L335.0,409.4L334.7,410.4L334.4,413.4L334.1,410.8L333.8,411.1L333.5,413.2L333.2,409.0L332.9,408.6L332.6,410.1L332.3,408.2L332.0,408.4L331.7,412.9L331.4,407.9L331.1,411.0L330.8,410.1L330.5,409.3L330.2,408.3L329.9,412.4L329.5,411.5L329.2,409.0L328.9,410.0L328.6,406.8L328.3,407.3L328.0,411.4L327.7,410.0L327.4,409.8L327.1,408.5L326.8,411.5L326.5,409.4L326.2,406.1L325.9,406.6L325.6,409.8L325.3,410.8L325.0,407.2L324.7,410.1L324.4,408.3L324.1,410.4L323.7,405.7L323.4,407.8L323.1,405.5L322.8,407.1L322.5,411.3L322.2,405.6L321.9,409.0L321.6,407.6L321.3,406.9L321.0,410.1L320.7,406.8L320.4,408.9L320.1,406.3L319.8,410.1L319.5,409.0L319.2,410.7L318.9,411.1L318.6,410.0L318.3,410.7L317.9,411.4L317.6,408.0L317.3,407.3L317.0,410.9L316.7,406.5L316.4,406.4L316.1,410.7L315.8,405.4L315.5,406.4L315.2,409.1L314.9,409.4L314.6,407.1L314.3,405.2L314.0,410.3L313.7,405.4L313.4,407.0L313.1,405.0L312.8,405.3L312.5,405.2L312.1,407.5L311.8,405.0L311.5,409.0L311.2,407.5L310.9,406.4L310.6,407.4L310.3,406.0L310.0,407.2L309.7,405.8L309.4,409.7L309.1,404.9L308.8,410.3L308.5,406.8L308.2,406.4L307.9,409.3L307.6,407.3L307.3,406.1L307.0,409.9L306.7,408.0L306.3,404.9L306.0,404.7L305.7,405.3L305.4,406.3L305.1,408.1L304.8,409.0L304.5,409.1L304.2,405.5L303.9,410.9L303.6,410.8L303.3,408.8L303.0,406.6L302.7,406.6L302.4,404.3L302.1,404.4L301.8,408.0L301.5,409.0L301.2,409.3L300.9,404.6L300.5,405.2L300.2,409.5L299.9,408.3L299.6,408.5L299.3,406.0L299.0,406.6L298.7,408.3L298.4,409.2L298.1,406.2L297.8,404.8L297.5,404.9L297.2,407.8L296.9,405.9L296.6,404.1L296.3,407.9L296.0,409.8L295.7,405.7L295.4,408.0L295.1,408.6L294.8,409.4Z" fill="#e0e0e0"/>
<path d="M294.8,377.9V410.6M295.1,375.7V415.0M295.4,383.0V410.8M295.7,381.8V415.4M296.0,375.7V414.2M296.3,384.7V419.0M296.6,380.2V416.9M296.9,382.0V416.1M297.2,382.8V416.3M297.5,378.6V416.1M297.8,383.8V412.9M298.1,376.1V406.6M298.4,381.9V417.5M298.7,371.2V410.7M299.0,384.8V411.9M299.3,376.3V410.7M299.6,368.3V415.8M299.9,376.4V409.7M300.2,373.9V405.8M300.5,378.9V412.1M300.9,376.8V412.5M301.2,383.2V415.2M301.5,374.4V410.5M301.8,378.4V418.3M302.1,377.2V405.1M302.4,382.9V408.9M302.7,377.6V417.7M303.0,378.8V408.9M303.3,367.2V415.7M303.6,368.5V404.7M303.9,379.7V415.2M304.2,377.5V414.9M304.5,379.9V410.2M304.8,371.3V411.3M305.1,380.6V417.9M305.4,376.5V402.8M305.7,375.7V409.6M306.0,375.3V414.6M306.3,380.2V412.6M306.7,372.0V407.0M307.0,375.6V410.8M307.3,372.9V411.7M307.6,371.9V407.8M307.9,381.3V411.9M308.2,381.8V408.1M308.5,374.3V414.9M308.8,378.8V407.9M309.1,373.0V414.4M309.4,378.2V408.4M309.7,374.1V409.8M310.0,374.4V414.7M310.3,373.8V410.3M310.6,377.7V411.3M310.9,380.1V410.5M311.2,371.1V409.1M311.5,377.1V415.7M311.8,379.6V411.1M312.1,376.3V406.5M312.5,374.7V406.4M312.8,379.4V407.8M313.1,382.8V412.8M313.4,383.6V416.9M313.7,382.2V419.9M314.0,369.0V416.0M314.3,367.1V409.0M314.6,375.7V408.5M314.9,377.1V412.7M315.2,374.9V408.3M315.5,374.7V406.5M315.8,382.5V414.3M316.1,367.2V410.9M316.4,373.9V413.3M316.7,381.9V414.0M317.0,377.4V408.0M317.3,379.1V414.9M317.6,383.7V419.0M317.9,381.7V416.4M318.3,378.2V413.4M318.6,372.2V409.6M318.9,374.0V416.7M319.2,382.8V412.9M319.5,384.7V416.2M319.8,378.3V417.9M320.1,382.3V412.8M320.4,383.8V413.6M320.7,373.1V418.9M321.0,366.6V409.4M321.3,377.1V412.7M321.6,381.4V408.7M321.9,380.1V411.5M322.2,374.4V421.5M322.5,377.9V418.9M322.8,373.9V417.5M323.1,383.6V412.2M323.4,370.7V416.5M323.7,368.5V412.1M324.1,376.6V417.1M324.4,372.2V418.1M324.7,380.0V408.2M325.0,370.7V417.4M325.3,378.0V412.4M325.6,376.0V413.4M325.9,378.4V419.3M326.2,379.1V410.7M326.5,382.8V416.6M326.8,370.3V405.9M327.1,372.8V415.7M327.4,369.5V417.7M327.7,375.2V419.1M328.0,379.4V417.9M328.3,372.0V414.7M328.6,375.3V419.0M328.9,374.3V412.1M329.2,385.7V416.3M329.5,380.9V415.3M329.9,378.2V417.5M330.2,374.2V418.7M330.5,377.8V414.0M330.8,382.0V410.2M331.1,374.5V412.9M331.4,381.5V412.0M331.7,377.3V417.7M332.0,380.7V414.3M332.3,381.5V413.5M332.6,378.6V416.1M332.9,375.0V409.7M333.2,378.0V414.9M333.5,375.5V420.6M333.8,384.3V416.7M334.1,375.0V418.2M334.4,380.1V419.2M334.7,372.7V414.6M335.0,383.1V418.7M335.3,386.6V416.6M335.7,372.3V416.9M336.0,378.9V412.9M336.3,378.3V411.6M336.6,375.0V416.1M336.9,388.2V414.3M337.2,384.4V412.4M337.5,382.4V418.9M337.8,381.1V415.6M338.1,382.2V416.2M338.4,380.7V420.1M338.7,381.5V415.5M339.0,386.2V418.8M339.3,380.0V420.1M339.6,386.9V419.4M339.9,383.1V420.3M340.2,380.7V421.3M340.5,377.0V412.4M340.8,378.2V419.7M341.1,372.4V413.6M341.5,385.4V420.8M341.8,374.5V422.4M342.1,374.6V422.4M342.4,384.0V419.5M342.7,386.2V421.6M343.0,381.1V417.8M343.3,388.9V422.2M343.6,380.4V422.1M343.9,380.9V421.0M344.2,382.5V422.5M344.5,386.5V425.0M344.8,377.0V417.2M345.1,383.5V420.3M345.4,383.7V416.4M345.7,379.4V415.9M346.0,385.9V419.3M346.3,387.4V421.0M346.6,382.7V419.3M346.9,381.9V417.9M347.3,388.4V419.2M347.6,379.3V414.8M347.9,377.3V420.2M348.2,386.5V422.6M348.5,386.2V418.7M348.8,383.3V415.7M349.1,385.3V416.8M349.4,383.7V420.2M349.7,379.4V415.1M350.0,379.2V415.1M350.3,381.8V424.3M350.6,382.0V419.3M350.9,384.2V417.4M351.2,381.3V415.6M351.5,386.0V414.8M351.8,385.6V421.5M352.1,388.4V422.9M352.4,388.6V415.8M352.7,387.6V425.5M353.1,386.1V424.8M353.4,380.1V421.4M353.7,384.9V423.9M354.0,381.5V416.2M354.3,382.0V417.4M354.6,386.0V423.1M354.9,392.6V429.1M355.2,387.9V416.7M355.5,391.3V417.5M355.8,382.3V419.9" stroke="#cfcfcf" stroke-width="0.8" fill="none"/>
<path d="M294.8,408.2L295.1,408.2L295.4,410.1L295.7,409.8L296.0,409.6L296.3,413.1L296.6,412.4L296.9,413.4L297.2,411.8L297.5,412.4L297.8,415.8L298.1,416.6L298.4,416.8L298.7,417.6L299.0,415.7L299.3,417.2L299.6,417.9L299.9,416.3L300.2,417.7L300.5,416.9L300.9,417.5L301.2,419.3L301.5,419.3L301.8,419.3L302.1,418.7L302.4,419.8L302.7,421.5L303.0,419.1L303.3,423.0L303.6,420.5L303.9,422.4L304.2,420.0L304.5,421.0L304.8,423.3L305.1,422.2L305.4,423.4L305.7,425.6L306.0,425.2L306.3,424.6L306.7,422.6L307.0,426.0L307.3,425.8L307.6,423.3L307.9,424.4L308.2,423.3L308.5,426.9L308.8,424.4L309.1,426.5L309.4,424.1L309.7,425.9L310.0,428.4L310.3,426.2L310.6,426.3L310.9,427.5L311.2,428.2L311.5,426.4L311.8,427.0L312.1,426.8L312.5,428.6L312.8,428.8L313.1,429.4L313.4,427.6L313.7,427.9L314.0,429.6L314.3,426.9L314.6,427.0L314.9,430.8L315.2,430.7L315.5,428.1L315.8,428.3L316.1,431.9L316.4,428.3L316.7,430.1L317.0,429.2L317.3,431.8L317.6,431.3L317.9,429.7L318.3,432.1L318.6,431.0L318.9,430.8L319.2,430.0L319.5,429.9L319.8,430.0L320.1,433.7L320.4,433.5L320.7,432.4L321.0,434.2L321.3,434.7L321.6,431.7L321.9,432.2L322.2,433.4L322.5,432.2L322.8,432.2L323.1,433.3L323.4,434.2L323.7,432.3L324.1,434.8L324.4,434.1L324.7,434.4L325.0,435.5L325.3,436.3L325.6,433.8L325.9,436.5L326.2,434.1L326.5,433.9L326.8,435.4L327.1,434.2L327.4,435.2L327.7,434.0L328.0,437.0L328.3,437.2L328.6,436.6L328.9,434.5L329.2,435.9L329.5,434.0L329.9,434.6L330.2,437.1L330.5,436.0L330.8,437.5L331.1,434.5L331.4,437.5L331.7,435.4L332.0,437.5L332.3,435.3L332.6,437.0L332.9,436.0L333.2,438.2L333.5,438.1L333.8,436.0L334.1,437.2L334.4,440.0L334.7,438.6L335.0,437.5L335.3,438.5L335.7,440.3L336.0,438.8L336.3,440.1L336.6,439.1L336.9,437.5L337.2,440.5L337.5,440.0L337.8,438.1L338.1,438.1L338.4,441.7L338.7,441.4L339.0,442.0L339.3,440.7L339.6,439.7L339.9,439.6L340.2,442.2L340.5,442.9L340.8,443.5L341.1,441.7L341.5,442.8L341.8,440.3L342.1,442.6L342.4,442.0L342.7,441.4L343.0,443.1L343.3,441.1L343.6,442.5L343.9,441.9L344.2,442.6L344.5,443.5L344.8,444.2L345.1,443.3L345.4,443.0L345.7,443.7L346.0,445.7L346.3,445.7L346.6,444.5L346.9,443.7L347.3,443.8L347.6,443.7L347.9,443.4L348.2,444.3L348.5,442.6L348.8,442.5L349.1,446.7L349.4,445.8L349.7,444.0L350.0,445.4L350.3,444.9L350.6,445.6L350.9,447.3L351.2,443.7L351.5,445.2L351.8,445.4L352.1,447.5L352.4,443.9L352.7,444.9L353.1,445.6L353.4,444.0L353.7,445.4L354.0,446.7L354.3,445.0L354.6,445.6L354.9,444.6L355.2,446.6L355.5,446.4L355.8,448.4L355.8,465.8L355.5,465.5L355.2,466.4L354.9,465.2L354.6,464.6L354.3,465.9L354.0,463.8L353.7,461.8L353.4,463.9L353.1,464.9L352.7,462.6L352.4,462.3L352.1,462.6L351.8,462.7L351.5,462.3L351.2,465.6L350.9,464.0L350.6,465.4L350.3,464.1L350.0,461.3L349.7,462.2L349.4,463.9L349.1,462.1L348.8,461.2L348.5,462.2L348.2,462.0L347.9,462.8L347.6,462.0L347.3,463.4L346.9,463.3L346.6,463.1L346.3,463.2L346.0,461.6L345.7,459.5L345.4,462.7L345.1,462.0L344.8,462.9L344.5,463.1L344.2,460.1L343.9,462.2L343.6,462.1L343.3,459.7L343.0,458.5L342.7,460.8L342.4,460.1L342.1,460.9L341.8,458.8L341.5,458.6L341.1,461.7L340.8,461.4L340.5,458.3L340.2,457.3L339.9,457.6L339.6,460.1L339.3,456.9L339.0,457.3L338.7,459.3L338.4,459.5L338.1,460.4L337.8,458.7L337.5,456.8L337.2,459.4L336.9,458.5L336.6,455.2L336.3,454.9L336.0,458.7L335.7,454.9L335.3,456.9L335.0,458.4L334.7,454.6L334.4,454.2L334.1,457.1L333.8,453.5L333.5,453.8L333.2,457.5L332.9,457.2L332.6,454.5L332.3,454.9L332.0,455.0L331.7,452.5L331.4,456.1L331.1,453.2L330.8,454.4L330.5,451.7L330.2,455.2L329.9,456.3L329.5,455.5L329.2,452.3L328.9,455.4L328.6,452.4L328.3,452.8L328.0,451.8L327.7,453.2L327.4,454.7L327.1,453.7L326.8,452.3L326.5,454.4L326.2,455.0L325.9,453.2L325.6,451.3L325.3,451.6L325.0,453.4L324.7,450.0L324.4,452.4L324.1,451.4L323.7,449.5L323.4,450.2L323.1,453.2L322.8,451.8L322.5,449.7L322.2,449.8L321.9,450.7L321.6,451.9L321.3,451.5L321.0,449.9L320.7,448.4L320.4,448.5L320.1,452.5L319.8,449.6L319.5,449.2L319.2,451.2L318.9,451.5L318.6,447.9L318.3,447.2L317.9,447.2L317.6,448.1L317.3,448.9L317.0,448.3L316.7,449.9L316.4,447.4L316.1,448.1L315.8,447.8L315.5,447.7L315.2,448.1L314.9,445.6L314.6,444.9L314.3,449.2L314.0,448.2L313.7,445.6L313.4,445.2L313.1,446.9L312.8,446.5L312.5,447.7L312.1,447.0L311.8,443.3L311.5,443.8L311.2,445.9L310.9,443.1L310.6,443.0L310.3,445.5L310.0,446.3L309.7,443.5L309.4,442.3L309.1,443.2L308.8,445.7L308.5,445.7L308.2,442.0L307.9,444.8L307.6,445.5L307.3,442.7L307.0,441.5L306.7,442.7L306.3,442.9L306.0,442.2L305.7,443.5L305.4,441.9L305.1,442.1L304.8,438.4L304.5,438.1L304.2,437.8L303.9,438.7L303.6,439.3L303.3,440.4L303.0,440.0L302.7,437.0L302.4,440.4L302.1,439.3L301.8,439.9L301.5,437.2L301.2,436.6L300.9,437.8L300.5,435.2L300.2,437.5L299.9,437.7L299.6,436.7L299.3,437.1L299.0,436.2L298.7,434.1L298.4,434.1L298.1,432.3L297.8,431.4L297.5,433.6L297.2,432.4L296.9,429.4L296.6,430.8L296.3,430.2L296.0,431.6L295.7,427.4L295.4,428.2L295.1,427.1L294.8,429.0Z" fill="#e0e0e0"/>
<path d="M294.8,403.3V426.5M295.1,405.6V428.8M295.4,410.2V435.4M295.7,409.1V437.6M296.0,401.3V430.1M296.3,404.1V434.0M296.6,408.0V440.2M296.9,407.9V434.0M297.2,403.2V431.3M297.5,408.7V437.2M297.8,410.8V437.5M298.1,410.6V434.3M298.4,408.2V433.8M298.7,413.8V441.1M299.0,409.9V440.8M299.3,403.1V443.5M299.6,408.1V434.4M299.9,411.2V440.0M300.2,408.6V439.1M300.5,409.3V443.0M300.9,415.2V435.6M301.2,417.8V447.1M301.5,420.1V443.5M301.8,414.3V443.6M302.1,421.7V441.6M302.4,415.4V442.0M302.7,417.3V440.9M303.0,421.4V443.6M303.3,419.3V449.1M303.6,420.0V448.4M303.9,413.7V444.4M304.2,413.9V448.4M304.5,415.3V439.5M304.8,422.2V443.4M305.1,422.4V447.4M305.4,418.6V445.6M305.7,420.5V439.1M306.0,415.6V440.8M306.3,414.0V444.6M306.7,420.6V444.8M307.0,426.0V444.6M307.3,419.8V448.6M307.6,417.4V441.9M307.9,420.9V450.6M308.2,418.9V451.8M308.5,414.5V444.7M308.8,424.3V446.8M309.1,420.3V442.6M309.4,411.0V445.7M309.7,424.6V452.1M310.0,416.7V445.5M310.3,426.5V444.2M310.6,417.4V446.1M310.9,414.6V447.8M311.2,424.7V448.2M311.5,419.5V452.2M311.8,423.3V449.5M312.1,423.0V451.4M312.5,426.5V450.2M312.8,426.0V447.1M313.1,424.4V453.1M313.4,423.1V446.9M313.7,430.0V454.8M314.0,423.5V454.5M314.3,419.9V443.9M314.6,420.7V455.4M314.9,422.0V451.8M315.2,425.3V446.5M315.5,426.6V452.4M315.8,429.8V455.5M316.1,426.0V448.0M316.4,422.3V454.3M316.7,427.2V456.7M317.0,422.3V448.4M317.3,420.3V454.4M317.6,424.7V448.1M317.9,425.6V448.1M318.3,423.9V447.7M318.6,428.8V454.3M318.9,428.8V453.5M319.2,425.1V458.2M319.5,424.2V452.1M319.8,422.2V451.6M320.1,426.5V449.7M320.4,432.0V456.2M320.7,420.6V449.2M321.0,425.2V450.2M321.3,424.6V454.9M321.6,424.4V455.5M321.9,421.1V449.7M322.2,426.2V456.3M322.5,432.3V457.5M322.8,425.9V450.8M323.1,427.5V452.4M323.4,420.3V448.2M323.7,420.4V455.0M324.1,432.3V450.6M324.4,432.3V455.5M324.7,429.6V454.3M325.0,437.1V456.9M325.3,432.8V459.5M325.6,434.7V456.0M325.9,425.4V455.7M326.2,425.3V453.1M326.5,423.0V456.2M326.8,432.2V455.5M327.1,429.8V460.5M327.4,431.9V458.5M327.7,435.6V456.1M328.0,426.5V458.5M328.3,429.5V457.8M328.6,431.2V453.1M328.9,428.1V458.7M329.2,424.7V458.7M329.5,432.6V458.3M329.9,430.6V458.6M330.2,425.7V449.3M330.5,433.4V459.8M330.8,434.1V458.7M331.1,429.3V455.9M331.4,426.6V459.2M331.7,426.6V452.5M332.0,429.4V461.0M332.3,430.9V460.3M332.6,429.7V453.6M332.9,431.1V464.7M333.2,437.7V462.7M333.5,435.8V453.4M333.8,437.9V457.1M334.1,433.2V457.4M334.4,429.5V461.8M334.7,436.9V464.8M335.0,434.2V458.6M335.3,438.8V463.8M335.7,425.1V458.9M336.0,430.8V461.1M336.3,434.4V455.1M336.6,436.0V463.2M336.9,436.6V460.8M337.2,435.5V458.1M337.5,434.7V460.1M337.8,440.0V463.3M338.1,434.5V461.5M338.4,437.0V462.3M338.7,430.9V465.1M339.0,432.0V462.4M339.3,430.9V462.0M339.6,442.0V463.1M339.9,431.0V460.7M340.2,438.9V457.7M340.5,437.3V461.3M340.8,438.8V459.7M341.1,441.7V465.3M341.5,433.9V460.4M341.8,442.4V466.2M342.1,438.2V465.6M342.4,436.4V463.6M342.7,435.8V461.4M343.0,434.9V461.8M343.3,442.0V466.6M343.6,439.8V464.0M343.9,436.7V467.2M344.2,438.6V461.7M344.5,436.1V462.3M344.8,437.3V455.6M345.1,433.1V470.1M345.4,433.8V460.1M345.7,440.8V465.9M346.0,440.2V467.1M346.3,438.3V465.3M346.6,440.8V467.3M346.9,440.2V468.6M347.3,431.6V457.4M347.6,433.2V465.5M347.9,440.1V464.1M348.2,442.4V471.0M348.5,437.6V466.0M348.8,443.0V468.7M349.1,441.5V467.2M349.4,444.9V470.4M349.7,449.3V471.1M350.0,441.2V470.0M350.3,435.1V464.6M350.6,440.4V465.9M350.9,438.8V465.7M351.2,437.8V466.6M351.5,443.7V471.9M351.8,442.1V469.6M352.1,445.5V466.9M352.4,437.4V468.1M352.7,439.5V466.7M353.1,436.7V457.5M353.4,438.3V467.3M353.7,445.5V473.6M354.0,440.3V466.5M354.3,443.4V466.6M354.6,439.5V469.7M354.9,440.8V471.1M355.2,443.0V471.3M355.5,443.4V464.3M355.8,438.1V475.6" stroke="#cfcfcf" stroke-width="0.8" fill="none"/>
<line x1="260.15" y1="350.40" x2="260.15" y2="471.10" stroke="#555" stroke-width="0.8" stroke-dasharray="1.6,1.2"/>
<line x1="294.34" y1="350.40" x2="294.34" y2="471.10" stroke="#555" stroke-width="0.8" stroke-dasharray="1.6,1.2"/>
<path d="M230.2,404.5L237.2,404.5L233.7,410.6Z" fill="#fff" stroke="#000" stroke-width="0.7"/>
<path d="M231.2,407.6L238.2,407.6L234.7,413.7Z" fill="#fff" stroke="#000" stroke-width="0.7"/>
<path d="M232.2,412.1L239.2,412.1L235.7,418.1Z" fill="#fff" stroke="#000" stroke-width="0.7"/>
<path d="M233.3,412.1L240.2,412.1L236.8,418.2Z" fill="#fff" stroke="#000" stroke-width="0.7"/>
<path d="M234.3,415.5L241.3,415.5L237.8,421.6Z" fill="#fff" stroke="#000" stroke-width="0.7"/>
<path d="M235.3,412.3L242.3,412.3L238.8,418.3Z" fill="#fff" stroke="#000" stroke-width="0.7"/>
<path d="M236.3,413.0L243.3,413.0L239.8,419.1Z" fill="#fff" stroke="#000" stroke-width="0.7"/>
<path d="M237.3,413.7L244.3,413.7L240.8,419.8Z" fill="#fff" stroke="#000" stroke-width="0.7"/>
<path d="M238.3,414.7L245.3,414.7L241.8,420.8Z" fill="#fff" stroke="#000" stroke-width="0.7"/>
<path d="M239.4,416.2L246.3,416.2L242.9,422.3Z" fill="#fff" stroke="#000" stroke-width="0.7"/>
<path d="M240.4,415.3L247.4,415.3L243.9,421.4Z" fill="#fff" stroke="#000" stroke-width="0.7"/>
<path d="M241.4,419.0L248.4,419.0L244.9,425.1Z" fill="#fff" stroke="#000" stroke-width="0.7"/>
<path d="M242.4,418.8L249.4,418.8L245.9,424.9Z" fill="#fff" stroke="#000" stroke-width="0.7"/>
<path d="M243.4,422.0L250.4,422.0L246.9,428.1Z" fill="#fff" stroke="#000" stroke-width="0.7"/>
<path d="M244.5,420.9L251.4,420.9L247.9,427.0Z" fill="#fff" stroke="#000" stroke-width="0.7"/>
<path d="M245.5,426.4L252.5,426.4L249.0,432.4Z" fill="#fff" stroke="#000" stroke-width="0.7"/>
<path d="M246.5,426.2L253.5,426.2L250.0,432.2Z" fill="#fff" stroke="#000" stroke-width="0.7"/>
<path d="M247.5,424.8L254.5,424.8L251.0,430.9Z" fill="#fff" stroke="#000" stroke-width="0.7"/>
<path d="M248.5,428.2L255.5,428.2L252.0,434.3Z" fill="#fff" stroke="#000" stroke-width="0.7"/>
<path d="M249.5,425.7L256.5,425.7L253.0,431.8Z" fill="#fff" stroke="#000" stroke-width="0.7"/>
<path d="M250.6,423.1L257.5,423.1L254.0,429.1Z" fill="#fff" stroke="#000" stroke-width="0.7"/>
<path d="M251.6,420.8L258.6,420.8L255.1,426.9Z" fill="#fff" stroke="#000" stroke-width="0.7"/>
<path d="M252.6,420.4L259.6,420.4L256.1,426.5Z" fill="#fff" stroke="#000" stroke-width="0.7"/>
<path d="M253.6,419.6L260.6,419.6L257.1,425.6Z" fill="#fff" stroke="#000" stroke-width="0.7"/>
<path d="M254.6,418.0L261.6,418.0L258.1,424.0Z" fill="#fff" stroke="#000" stroke-width="0.7"/>
<path d="M255.6,422.1L262.6,422.1L259.1,428.2Z" fill="#fff" stroke="#000" stroke-width="0.7"/>
<path d="M256.7,420.7L263.6,420.7L260.2,426.8Z" fill="#fff" stroke="#000" stroke-width="0.7"/>
<path d="M257.7,421.8L264.7,421.8L261.2,427.8Z" fill="#fff" stroke="#000" stroke-width="0.7"/>
<path d="M258.7,420.0L265.7,420.0L262.2,426.1Z" fill="#fff" stroke="#000" stroke-width="0.7"/>
<path d="M259.7,419.8L266.7,419.8L263.2,425.9Z" fill="#fff" stroke="#000" stroke-width="0.7"/>
<path d="M260.7,418.5L267.7,418.5L264.2,424.6Z" fill="#fff" stroke="#000" stroke-width="0.7"/>
<path d="M261.8,414.7L268.7,414.7L265.2,420.7Z" fill="#fff" stroke="#000" stroke-width="0.7"/>
<path d="M262.8,414.1L269.8,414.1L266.3,420.2Z" fill="#fff" stroke="#000" stroke-width="0.7"/>
<path d="M263.8,411.7L270.8,411.7L267.3,417.8Z" fill="#fff" stroke="#000" stroke-width="0.7"/>
<path d="M264.8,410.2L271.8,410.2L268.3,416.2Z" fill="#fff" stroke="#000" stroke-width="0.7"/>
<path d="M265.8,410.5L272.8,410.5L269.3,416.6Z" fill="#fff" stroke="#000" stroke-width="0.7"/>
<path d="M266.8,404.5L273.8,404.5L270.3,410.6Z" fill="#fff" stroke="#000" stroke-width="0.7"/>
<path d="M267.9,407.9L274.8,407.9L271.3,414.0Z" fill="#fff" stroke="#000" stroke-width="0.7"/>
<path d="M268.9,406.3L275.9,406.3L272.4,412.4Z" fill="#fff" stroke="#000" stroke-width="0.7"/>
<path d="M269.9,400.3L276.9,400.3L273.4,406.4Z" fill="#fff" stroke="#000" stroke-width="0.7"/>
<path d="M270.9,401.9L277.9,401.9L274.4,408.0Z" fill="#fff" stroke="#000" stroke-width="0.7"/>
<path d="M271.9,398.0L278.9,398.0L275.4,404.1Z" fill="#fff" stroke="#000" stroke-width="0.7"/>
<path d="M272.9,398.7L279.9,398.7L276.4,404.8Z" fill="#fff" stroke="#000" stroke-width="0.7"/>
<path d="M274.0,402.5L280.9,402.5L277.5,408.6Z" fill="#fff" stroke="#000" stroke-width="0.7"/>
<path d="M275.0,397.7L282.0,397.7L278.5,403.8Z" fill="#fff" stroke="#000" stroke-width="0.7"/>
<path d="M276.0,399.9L283.0,399.9L279.5,406.0Z" fill="#fff" stroke="#000" stroke-width="0.7"/>
<path d="M277.0,392.8L284.0,392.8L280.5,398.9Z" fill="#fff" stroke="#000" stroke-width="0.7"/>
<path d="M278.0,397.2L285.0,397.2L281.5,403.3Z" fill="#fff" stroke="#000" stroke-width="0.7"/>
<path d="M279.0,393.2L286.0,393.2L282.5,399.3Z" fill="#fff" stroke="#000" stroke-width="0.7"/>
<path d="M280.1,392.8L287.0,392.8L283.6,398.9Z" fill="#fff" stroke="#000" stroke-width="0.7"/>
<path d="M281.1,393.1L288.1,393.1L284.6,399.1Z" fill="#fff" stroke="#000" stroke-width="0.7"/>
<path d="M282.1,391.1L289.1,391.1L285.6,397.1Z" fill="#fff" stroke="#000" stroke-width="0.7"/>
<path d="M283.1,387.5L290.1,387.5L286.6,393.6Z" fill="#fff" stroke="#000" stroke-width="0.7"/>
<path d="M284.1,391.0L291.1,391.0L287.6,397.1Z" fill="#fff" stroke="#000" stroke-width="0.7"/>
<path d="M285.2,389.9L292.1,389.9L288.6,396.0Z" fill="#fff" stroke="#000" stroke-width="0.7"/>
<path d="M286.2,390.2L293.2,390.2L289.7,396.3Z" fill="#fff" stroke="#000" stroke-width="0.7"/>
<path d="M287.2,389.9L294.2,389.9L290.7,395.9Z" fill="#fff" stroke="#000" stroke-width="0.7"/>
<path d="M288.2,391.9L295.2,391.9L291.7,398.0Z" fill="#fff" stroke="#000" stroke-width="0.7"/>
<path d="M289.2,387.6L296.2,387.6L292.7,393.6Z" fill="#fff" stroke="#000" stroke-width="0.7"/>
<path d="M290.2,391.6L297.2,391.6L293.7,397.7Z" fill="#fff" stroke="#000" stroke-width="0.7"/>
<path d="M291.3,391.6L298.2,391.6L294.8,397.7Z" fill="#fff" stroke="#000" stroke-width="0.7"/>
<path d="M292.3,392.9L299.3,392.9L295.8,399.0Z" fill="#fff" stroke="#000" stroke-width="0.7"/>
<path d="M293.3,387.7L300.3,387.7L296.8,393.8Z" fill="#fff" stroke="#000" stroke-width="0.7"/>
<path d="M294.3,393.4L301.3,393.4L297.8,399.4Z" fill="#fff" stroke="#000" stroke-width="0.7"/>
<path d="M295.3,394.0L302.3,394.0L298.8,400.1Z" fill="#fff" stroke="#000" stroke-width="0.7"/>
<path d="M296.3,389.5L303.3,389.5L299.8,395.6Z" fill="#fff" stroke="#000" stroke-width="0.7"/>
<path d="M297.4,392.7L304.3,392.7L300.9,398.8Z" fill="#fff" stroke="#000" stroke-width="0.7"/>
<path d="M298.4,390.8L305.4,390.8L301.9,396.9Z" fill="#fff" stroke="#000" stroke-width="0.7"/>
<path d="M299.4,393.8L306.4,393.8L302.9,399.9Z" fill="#fff" stroke="#000" stroke-width="0.7"/>
<path d="M300.4,390.6L307.4,390.6L303.9,396.7Z" fill="#fff" stroke="#000" stroke-width="0.7"/>
<path d="M301.4,387.5L308.4,387.5L304.9,393.6Z" fill="#fff" stroke="#000" stroke-width="0.7"/>
<path d="M302.5,391.5L309.4,391.5L305.9,397.6Z" fill="#fff" stroke="#000" stroke-width="0.7"/>
<path d="M303.5,394.8L310.5,394.8L307.0,400.9Z" fill="#fff" stroke="#000" stroke-width="0.7"/>
<path d="M304.5,395.4L311.5,395.4L308.0,401.4Z" fill="#fff" stroke="#000" stroke-width="0.7"/>
<path d="M305.5,390.4L312.5,390.4L309.0,396.5Z" fill="#fff" stroke="#000" stroke-width="0.7"/>
<path d="M306.5,392.9L313.5,392.9L310.0,398.9Z" fill="#fff" stroke="#000" stroke-width="0.7"/>
<path d="M307.5,390.1L314.5,390.1L311.0,396.2Z" fill="#fff" stroke="#000" stroke-width="0.7"/>
<path d="M308.6,388.8L315.5,388.8L312.0,394.9Z" fill="#fff" stroke="#000" stroke-width="0.7"/>
<path d="M309.6,391.1L316.6,391.1L313.1,397.2Z" fill="#fff" stroke="#000" stroke-width="0.7"/>
<path d="M310.6,388.0L317.6,388.0L314.1,394.0Z" fill="#fff" stroke="#000" stroke-width="0.7"/>
<path d="M311.6,395.7L318.6,395.7L315.1,401.8Z" fill="#fff" stroke="#000" stroke-width="0.7"/>
<path d="M312.6,393.3L319.6,393.3L316.1,399.3Z" fill="#fff" stroke="#000" stroke-width="0.7"/>
<path d="M313.6,391.9L320.6,391.9L317.1,398.0Z" fill="#fff" stroke="#000" stroke-width="0.7"/>
<path d="M314.7,391.1L321.6,391.1L318.2,397.2Z" fill="#fff" stroke="#000" stroke-width="0.7"/>
<path d="M315.7,392.4L322.7,392.4L319.2,398.5Z" fill="#fff" stroke="#000" stroke-width="0.7"/>
<path d="M316.7,389.1L323.7,389.1L320.2,395.2Z" fill="#fff" stroke="#000" stroke-width="0.7"/>
<path d="M317.7,388.8L324.7,388.8L321.2,394.8Z" fill="#fff" stroke="#000" stroke-width="0.7"/>
<path d="M318.7,390.6L325.7,390.6L322.2,396.7Z" fill="#fff" stroke="#000" stroke-width="0.7"/>
<path d="M319.7,393.5L326.7,393.5L323.2,399.6Z" fill="#fff" stroke="#000" stroke-width="0.7"/>
<path d="M320.8,390.1L327.7,390.1L324.3,396.2Z" fill="#fff" stroke="#000" stroke-width="0.7"/>
<path d="M321.8,392.9L328.8,392.9L325.3,399.0Z" fill="#fff" stroke="#000" stroke-width="0.7"/>
<path d="M322.8,394.4L329.8,394.4L326.3,400.5Z" fill="#fff" stroke="#000" stroke-width="0.7"/>
<path d="M323.8,389.6L330.8,389.6L327.3,395.7Z" fill="#fff" stroke="#000" stroke-width="0.7"/>
<path d="M324.8,391.7L331.8,391.7L328.3,397.7Z" fill="#fff" stroke="#000" stroke-width="0.7"/>
<path d="M325.9,390.9L332.8,390.9L329.3,397.0Z" fill="#fff" stroke="#000" stroke-width="0.7"/>
<path d="M326.9,390.8L333.9,390.8L330.4,396.9Z" fill="#fff" stroke="#000" stroke-width="0.7"/>
<path d="M327.9,391.2L334.9,391.2L331.4,397.3Z" fill="#fff" stroke="#000" stroke-width="0.7"/>
<path d="M328.9,392.7L335.9,392.7L332.4,398.8Z" fill="#fff" stroke="#000" stroke-width="0.7"/>
<path d="M329.9,395.4L336.9,395.4L333.4,401.4Z" fill="#fff" stroke="#000" stroke-width="0.7"/>
<path d="M330.9,392.9L337.9,392.9L334.4,399.0Z" fill="#fff" stroke="#000" stroke-width="0.7"/>
<path d="M332.0,396.2L338.9,396.2L335.5,402.3Z" fill="#fff" stroke="#000" stroke-width="0.7"/>
<path d="M333.0,392.8L340.0,392.8L336.5,398.9Z" fill="#fff" stroke="#000" stroke-width="0.7"/>
<path d="M334.0,396.0L341.0,396.0L337.5,402.0Z" fill="#fff" stroke="#000" stroke-width="0.7"/>
<path d="M335.0,396.8L342.0,396.8L338.5,402.9Z" fill="#fff" stroke="#000" stroke-width="0.7"/>
<path d="M336.0,394.2L343.0,394.2L339.5,400.3Z" fill="#fff" stroke="#000" stroke-width="0.7"/>
<path d="M337.0,398.2L344.0,398.2L340.5,404.3Z" fill="#fff" stroke="#000" stroke-width="0.7"/>
<path d="M338.1,396.7L345.0,396.7L341.6,402.8Z" fill="#fff" stroke="#000" stroke-width="0.7"/>
<path d="M339.1,396.8L346.1,396.8L342.6,402.8Z" fill="#fff" stroke="#000" stroke-width="0.7"/>
<path d="M340.1,395.4L347.1,395.4L343.6,401.5Z" fill="#fff" stroke="#000" stroke-width="0.7"/>
<path d="M341.1,394.2L348.1,394.2L344.6,400.2Z" fill="#fff" stroke="#000" stroke-width="0.7"/>
<path d="M342.1,393.8L349.1,393.8L345.6,399.9Z" fill="#fff" stroke="#000" stroke-width="0.7"/>
<path d="M343.2,397.9L350.1,397.9L346.6,404.0Z" fill="#fff" stroke="#000" stroke-width="0.7"/>
<path d="M344.2,395.2L351.2,395.2L347.7,401.3Z" fill="#fff" stroke="#000" stroke-width="0.7"/>
<path d="M345.2,399.1L352.2,399.1L348.7,405.2Z" fill="#fff" stroke="#000" stroke-width="0.7"/>
<path d="M346.2,400.6L353.2,400.6L349.7,406.7Z" fill="#fff" stroke="#000" stroke-width="0.7"/>
<path d="M347.2,395.7L354.2,395.7L350.7,401.8Z" fill="#fff" stroke="#000" stroke-width="0.7"/>
<path d="M348.2,400.5L355.2,400.5L351.7,406.6Z" fill="#fff" stroke="#000" stroke-width="0.7"/>
<path d="M349.3,397.3L356.2,397.3L352.7,403.4Z" fill="#fff" stroke="#000" stroke-width="0.7"/>
<path d="M350.3,396.0L357.3,396.0L353.8,402.1Z" fill="#fff" stroke="#000" stroke-width="0.7"/>
<path d="M351.3,402.2L358.3,402.2L354.8,408.2Z" fill="#fff" stroke="#000" stroke-width="0.7"/>
<path d="M352.3,403.4L359.3,403.4L355.8,409.5Z" fill="#fff" stroke="#000" stroke-width="0.7"/>
<path d="M230.2,404.9L237.2,404.9L233.7,411.0Z" fill="#000"/>
<path d="M231.2,404.7L238.2,404.7L234.7,410.8Z" fill="#000"/>
<path d="M232.2,414.1L239.2,414.1L235.7,420.2Z" fill="#000"/>
<path d="M233.3,409.5L240.2,409.5L236.8,415.6Z" fill="#000"/>
<path d="M234.3,405.8L241.3,405.8L237.8,411.9Z" fill="#000"/>
<path d="M235.3,410.2L242.3,410.2L238.8,416.3Z" fill="#000"/>
<path d="M236.3,409.8L243.3,409.8L239.8,415.9Z" fill="#000"/>
<path d="M237.3,409.1L244.3,409.1L240.8,415.2Z" fill="#000"/>
<path d="M238.3,420.3L245.3,420.3L241.8,426.4Z" fill="#000"/>
<path d="M239.4,418.9L246.3,418.9L242.9,424.9Z" fill="#000"/>
<path d="M240.4,423.2L247.4,423.2L243.9,429.3Z" fill="#000"/>
<path d="M241.4,423.1L248.4,423.1L244.9,429.2Z" fill="#000"/>
<path d="M242.4,413.3L249.4,413.3L245.9,419.4Z" fill="#000"/>
<path d="M243.4,423.2L250.4,423.2L246.9,429.2Z" fill="#000"/>
<path d="M244.5,424.1L251.4,424.1L247.9,430.2Z" fill="#000"/>
<path d="M245.5,424.1L252.5,424.1L249.0,430.2Z" fill="#000"/>
<path d="M246.5,430.8L253.5,430.8L250.0,436.9Z" fill="#000"/>
<path d="M247.5,422.4L254.5,422.4L251.0,428.4Z" fill="#000"/>
<path d="M248.5,425.0L255.5,425.0L252.0,431.1Z" fill="#000"/>
<path d="M249.5,426.9L256.5,426.9L253.0,433.0Z" fill="#000"/>
<path d="M250.6,429.0L257.5,429.0L254.0,435.1Z" fill="#000"/>
<path d="M251.6,421.4L258.6,421.4L255.1,427.5Z" fill="#000"/>
<path d="M252.6,422.1L259.6,422.1L256.1,428.2Z" fill="#000"/>
<path d="M253.6,423.9L260.6,423.9L257.1,430.0Z" fill="#000"/>
<path d="M254.6,416.2L261.6,416.2L258.1,422.3Z" fill="#000"/>
<path d="M255.6,424.1L262.6,424.1L259.1,430.2Z" fill="#000"/>
<path d="M256.7,418.0L263.6,418.0L260.2,424.1Z" fill="#000"/>
<path d="M257.7,424.0L264.7,424.0L261.2,430.1Z" fill="#000"/>
<path d="M258.7,418.5L265.7,418.5L262.2,424.6Z" fill="#000"/>
<path d="M259.7,422.5L266.7,422.5L263.2,428.6Z" fill="#000"/>
<path d="M260.7,416.5L267.7,416.5L264.2,422.6Z" fill="#000"/>
<path d="M261.8,422.5L268.7,422.5L265.2,428.5Z" fill="#000"/>
<path d="M262.8,411.7L269.8,411.7L266.3,417.8Z" fill="#000"/>
<path d="M263.8,406.9L270.8,406.9L267.3,413.0Z" fill="#000"/>
<path d="M264.8,417.2L271.8,417.2L268.3,423.3Z" fill="#000"/>
<path d="M265.8,407.0L272.8,407.0L269.3,413.1Z" fill="#000"/>
<path d="M266.8,402.6L273.8,402.6L270.3,408.7Z" fill="#000"/>
<path d="M267.9,407.4L274.8,407.4L271.3,413.4Z" fill="#000"/>
<path d="M268.9,407.4L275.9,407.4L272.4,413.4Z" fill="#000"/>
<path d="M269.9,403.4L276.9,403.4L273.4,409.4Z" fill="#000"/>
<path d="M270.9,403.0L277.9,403.0L274.4,409.1Z" fill="#000"/>
<path d="M271.9,403.4L278.9,403.4L275.4,409.5Z" fill="#000"/>
<path d="M272.9,397.8L279.9,397.8L276.4,403.8Z" fill="#000"/>
<path d="M274.0,393.4L280.9,393.4L277.5,399.5Z" fill="#000"/>
<path d="M275.0,402.3L282.0,402.3L278.5,408.4Z" fill="#000"/>
<path d="M276.0,397.1L283.0,397.1L279.5,403.1Z" fill="#000"/>
<path d="M277.0,402.5L284.0,402.5L280.5,408.6Z" fill="#000"/>
<path d="M278.0,392.6L285.0,392.6L281.5,398.6Z" fill="#000"/>
<path d="M279.0,389.6L286.0,389.6L282.5,395.7Z" fill="#000"/>
<path d="M280.1,393.8L287.0,393.8L283.6,399.9Z" fill="#000"/>
<path d="M281.1,398.6L288.1,398.6L284.6,404.7Z" fill="#000"/>
<path d="M282.1,392.4L289.1,392.4L285.6,398.5Z" fill="#000"/>
<path d="M283.1,387.5L290.1,387.5L286.6,393.6Z" fill="#000"/>
<path d="M284.1,393.3L291.1,393.3L287.6,399.4Z" fill="#000"/>
<path d="M285.2,395.0L292.1,395.0L288.6,401.0Z" fill="#000"/>
<path d="M286.2,384.8L293.2,384.8L289.7,390.9Z" fill="#000"/>
<path d="M287.2,391.8L294.2,391.8L290.7,397.9Z" fill="#000"/>
<path d="M288.2,393.9L295.2,393.9L291.7,400.0Z" fill="#000"/>
<path d="M289.2,391.6L296.2,391.6L292.7,397.6Z" fill="#000"/>
<path d="M290.2,388.6L297.2,388.6L293.7,394.6Z" fill="#000"/>
<path d="M291.3,415.7L298.2,415.7L294.8,421.8Z" fill="#000"/>
<path d="M292.3,415.7L299.3,415.7L295.8,421.7Z" fill="#000"/>
<path d="M293.3,422.3L300.3,422.3L296.8,428.3Z" fill="#000"/>
<path d="M294.3,419.7L301.3,419.7L297.8,425.8Z" fill="#000"/>
<path d="M295.3,423.2L302.3,423.2L298.8,429.3Z" fill="#000"/>
<path d="M296.3,423.5L303.3,423.5L299.8,429.5Z" fill="#000"/>
<path d="M297.4,423.1L304.3,423.1L300.9,429.2Z" fill="#000"/>
<path d="M298.4,425.6L305.4,425.6L301.9,431.7Z" fill="#000"/>
<path d="M299.4,426.5L306.4,426.5L302.9,432.6Z" fill="#000"/>
<path d="M300.4,424.0L307.4,424.0L303.9,430.1Z" fill="#000"/>
<path d="M301.4,431.5L308.4,431.5L304.9,437.6Z" fill="#000"/>
<path d="M302.5,429.6L309.4,429.6L305.9,435.6Z" fill="#000"/>
<path d="M303.5,427.3L310.5,427.3L307.0,433.3Z" fill="#000"/>
<path d="M304.5,428.5L311.5,428.5L308.0,434.6Z" fill="#000"/>
<path d="M305.5,428.1L312.5,428.1L309.0,434.2Z" fill="#000"/>
<path d="M306.5,432.0L313.5,432.0L310.0,438.1Z" fill="#000"/>
<path d="M307.5,427.9L314.5,427.9L311.0,434.0Z" fill="#000"/>
<path d="M308.6,437.5L315.5,437.5L312.0,443.6Z" fill="#000"/>
<path d="M309.6,433.8L316.6,433.8L313.1,439.8Z" fill="#000"/>
<path d="M310.6,436.6L317.6,436.6L314.1,442.7Z" fill="#000"/>
<path d="M311.6,438.4L318.6,438.4L315.1,444.5Z" fill="#000"/>
<path d="M312.6,430.9L319.6,430.9L316.1,436.9Z" fill="#000"/>
<path d="M313.6,438.1L320.6,438.1L317.1,444.2Z" fill="#000"/>
<path d="M314.7,437.6L321.6,437.6L318.2,443.7Z" fill="#000"/>
<path d="M315.7,438.3L322.7,438.3L319.2,444.4Z" fill="#000"/>
<path d="M316.7,440.6L323.7,440.6L320.2,446.7Z" fill="#000"/>
<path d="M317.7,439.2L324.7,439.2L321.2,445.3Z" fill="#000"/>
<path d="M318.7,440.1L325.7,440.1L322.2,446.2Z" fill="#000"/>
<path d="M319.7,438.0L326.7,438.0L323.2,444.1Z" fill="#000"/>
<path d="M320.8,438.7L327.7,438.7L324.3,444.8Z" fill="#000"/>
<path d="M321.8,439.9L328.8,439.9L325.3,446.0Z" fill="#000"/>
<path d="M322.8,439.0L329.8,439.0L326.3,445.1Z" fill="#000"/>
<path d="M323.8,442.2L330.8,442.2L327.3,448.2Z" fill="#000"/>
<path d="M324.8,439.1L331.8,439.1L328.3,445.2Z" fill="#000"/>
<path d="M325.9,443.2L332.8,443.2L329.3,449.3Z" fill="#000"/>
<path d="M326.9,441.0L333.9,441.0L330.4,447.1Z" fill="#000"/>
<path d="M327.9,442.8L334.9,442.8L331.4,448.8Z" fill="#000"/>
<path d="M328.9,442.2L335.9,442.2L332.4,448.3Z" fill="#000"/>
<path d="M329.9,444.6L336.9,444.6L333.4,450.7Z" fill="#000"/>
<path d="M330.9,441.2L337.9,441.2L334.4,447.3Z" fill="#000"/>
<path d="M332.0,447.6L338.9,447.6L335.5,453.7Z" fill="#000"/>
<path d="M333.0,441.6L340.0,441.6L336.5,447.7Z" fill="#000"/>
<path d="M334.0,447.4L341.0,447.4L337.5,453.5Z" fill="#000"/>
<path d="M335.0,445.9L342.0,445.9L338.5,452.0Z" fill="#000"/>
<path d="M336.0,443.7L343.0,443.7L339.5,449.8Z" fill="#000"/>
<path d="M337.0,446.8L344.0,446.8L340.5,452.8Z" fill="#000"/>
<path d="M338.1,450.7L345.0,450.7L341.6,456.8Z" fill="#000"/>
<path d="M339.1,450.2L346.1,450.2L342.6,456.3Z" fill="#000"/>
<path d="M340.1,450.6L347.1,450.6L343.6,456.7Z" fill="#000"/>
<path d="M341.1,450.5L348.1,450.5L344.6,456.6Z" fill="#000"/>
<path d="M342.1,449.7L349.1,449.7L345.6,455.8Z" fill="#000"/>
<path d="M343.2,448.9L350.1,448.9L346.6,454.9Z" fill="#000"/>
<path d="M344.2,449.5L351.2,449.5L347.7,455.6Z" fill="#000"/>
<path d="M345.2,447.4L352.2,447.4L348.7,453.5Z" fill="#000"/>
<path d="M346.2,450.0L353.2,450.0L349.7,456.0Z" fill="#000"/>
<path d="M347.2,455.1L354.2,455.1L350.7,461.2Z" fill="#000"/>
<path d="M348.2,448.6L355.2,448.6L351.7,454.7Z" fill="#000"/>
<path d="M349.3,451.2L356.2,451.2L352.7,457.3Z" fill="#000"/>
<path d="M350.3,449.5L357.3,449.5L353.8,455.6Z" fill="#000"/>
<path d="M351.3,449.2L358.3,449.2L354.8,455.2Z" fill="#000"/>
<path d="M352.3,455.8L359.3,455.8L355.8,461.9Z" fill="#000"/>
<line x1="233.70" y1="349.90" x2="233.70" y2="471.10" stroke="#000" stroke-width="1.2" />
<line x1="230.30" y1="350.40" x2="234.20" y2="350.40" stroke="#000" stroke-width="1.0" />
<text x="213.6" y="353.4" font-size="8.6" font-weight="700"><tspan textLength="10.3" lengthAdjust="spacingAndGlyphs">10</tspan><tspan font-size="5.6" font-weight="400" dx="0.7" dy="-3.4">-3</tspan></text>
<line x1="231.70" y1="378.52" x2="233.70" y2="378.52" stroke="#000" stroke-width="0.7" />
<line x1="231.70" y1="371.44" x2="233.70" y2="371.44" stroke="#000" stroke-width="0.7" />
<line x1="231.70" y1="366.41" x2="233.70" y2="366.41" stroke="#000" stroke-width="0.7" />
<line x1="231.70" y1="362.51" x2="233.70" y2="362.51" stroke="#000" stroke-width="0.7" />
<line x1="231.70" y1="359.33" x2="233.70" y2="359.33" stroke="#000" stroke-width="0.7" />
<line x1="231.70" y1="356.63" x2="233.70" y2="356.63" stroke="#000" stroke-width="0.7" />
<line x1="231.70" y1="354.30" x2="233.70" y2="354.30" stroke="#000" stroke-width="0.7" />
<line x1="231.70" y1="352.24" x2="233.70" y2="352.24" stroke="#000" stroke-width="0.7" />
<line x1="230.30" y1="390.63" x2="234.20" y2="390.63" stroke="#000" stroke-width="1.0" />
<text x="213.6" y="393.6" font-size="8.6" font-weight="700"><tspan textLength="10.3" lengthAdjust="spacingAndGlyphs">10</tspan><tspan font-size="5.6" font-weight="400" dx="0.7" dy="-3.4">-4</tspan></text>
<line x1="231.70" y1="418.76" x2="233.70" y2="418.76" stroke="#000" stroke-width="0.7" />
<line x1="231.70" y1="411.67" x2="233.70" y2="411.67" stroke="#000" stroke-width="0.7" />
<line x1="231.70" y1="406.64" x2="233.70" y2="406.64" stroke="#000" stroke-width="0.7" />
<line x1="231.70" y1="402.74" x2="233.70" y2="402.74" stroke="#000" stroke-width="0.7" />
<line x1="231.70" y1="399.56" x2="233.70" y2="399.56" stroke="#000" stroke-width="0.7" />
<line x1="231.70" y1="396.87" x2="233.70" y2="396.87" stroke="#000" stroke-width="0.7" />
<line x1="231.70" y1="394.53" x2="233.70" y2="394.53" stroke="#000" stroke-width="0.7" />
<line x1="231.70" y1="392.47" x2="233.70" y2="392.47" stroke="#000" stroke-width="0.7" />
<line x1="230.30" y1="430.87" x2="234.20" y2="430.87" stroke="#000" stroke-width="1.0" />
<text x="213.6" y="433.9" font-size="8.6" font-weight="700"><tspan textLength="10.3" lengthAdjust="spacingAndGlyphs">10</tspan><tspan font-size="5.6" font-weight="400" dx="0.7" dy="-3.4">-5</tspan></text>
<line x1="231.70" y1="458.99" x2="233.70" y2="458.99" stroke="#000" stroke-width="0.7" />
<line x1="231.70" y1="451.90" x2="233.70" y2="451.90" stroke="#000" stroke-width="0.7" />
<line x1="231.70" y1="446.88" x2="233.70" y2="446.88" stroke="#000" stroke-width="0.7" />
<line x1="231.70" y1="442.98" x2="233.70" y2="442.98" stroke="#000" stroke-width="0.7" />
<line x1="231.70" y1="439.79" x2="233.70" y2="439.79" stroke="#000" stroke-width="0.7" />
<line x1="231.70" y1="437.10" x2="233.70" y2="437.10" stroke="#000" stroke-width="0.7" />
<line x1="231.70" y1="434.77" x2="233.70" y2="434.77" stroke="#000" stroke-width="0.7" />
<line x1="231.70" y1="432.71" x2="233.70" y2="432.71" stroke="#000" stroke-width="0.7" />
<line x1="230.30" y1="471.10" x2="234.20" y2="471.10" stroke="#000" stroke-width="1.0" />
<text x="213.6" y="474.1" font-size="8.6" font-weight="700"><tspan textLength="10.3" lengthAdjust="spacingAndGlyphs">10</tspan><tspan font-size="5.6" font-weight="400" dx="0.7" dy="-3.4">-6</tspan></text>
<line x1="233.10" y1="471.10" x2="355.80" y2="471.10" stroke="#000" stroke-width="1.2" />
<line x1="233.70" y1="471.10" x2="233.70" y2="474.10" stroke="#000" stroke-width="1.0" />
<text x="233.7" y="483.7" font-size="8.6" font-weight="700" text-anchor="middle" fill="#000" textLength="5.1" lengthAdjust="spacingAndGlyphs">0</text>
<line x1="274.40" y1="471.10" x2="274.40" y2="474.10" stroke="#000" stroke-width="1.0" />
<text x="274.4" y="483.7" font-size="8.6" font-weight="700" text-anchor="middle" fill="#000" textLength="20.5" lengthAdjust="spacingAndGlyphs">2000</text>
<line x1="315.10" y1="471.10" x2="315.10" y2="474.10" stroke="#000" stroke-width="1.0" />
<text x="315.1" y="483.7" font-size="8.6" font-weight="700" text-anchor="middle" fill="#000" textLength="20.5" lengthAdjust="spacingAndGlyphs">4000</text>
<line x1="355.80" y1="471.10" x2="355.80" y2="474.10" stroke="#000" stroke-width="1.0" />
<text x="355.8" y="483.7" font-size="8.6" font-weight="700" text-anchor="middle" fill="#000" textLength="20.5" lengthAdjust="spacingAndGlyphs">6000</text>
<text x="294.2" y="496.7" font-size="9.8" font-weight="700" text-anchor="middle" fill="#000" >Time [sec]</text>
<text transform="translate(208.9,410.4) rotate(-90)" font-size="10.8" font-weight="700" text-anchor="middle" textLength="65.5" lengthAdjust="spacingAndGlyphs">Power [mV<tspan font-size="7" dy="-4">2</tspan><tspan dy="4">]</tspan></text>
<text x="259.6" y="319.7" font-size="9.5" font-weight="400" text-anchor="middle" fill="#222" >MK801</text>
<text x="259.6" y="330.7" font-size="9.5" font-weight="400" text-anchor="middle" fill="#222" >(i.p.)</text>
<text x="304.0" y="319.7" font-size="9.5" font-weight="400" text-anchor="middle" fill="#222" >Sal/Musc</text>
<text x="304.0" y="330.7" font-size="9.5" font-weight="400" text-anchor="middle" fill="#222" >(OB-inf.)</text>
<line x1="260.15" y1="333.70" x2="260.15" y2="340.60" stroke="#000" stroke-width="1.3" />
<path d="M256.85,339.60 L263.45,339.60 L260.15,347.40 Z" fill="#000"/>
<line x1="294.34" y1="333.70" x2="294.34" y2="340.60" stroke="#000" stroke-width="1.3" />
<path d="M291.04,339.60 L297.64,339.60 L294.34,347.40 Z" fill="#000"/>
<path d="M303.5,341.3L308.7,341.3L306.1,345.9Z" fill="#fff" stroke="#000" stroke-width="0.7"/>
<path d="M303.5,357.2L308.7,357.2L306.1,361.8Z" fill="#000"/>
<text x="319.6" y="347.2" font-size="10.2" font-weight="400" text-anchor="start" fill="#222" >Sal (OB-inf.)</text>
<text x="319.6" y="363.1" font-size="10.2" font-weight="400" text-anchor="start" fill="#222" >Musc (OB-inf.)</text>
<line x1="417.00" y1="91.80" x2="417.00" y2="208.30" stroke="#000" stroke-width="1.2" />
<line x1="413.60" y1="92.30" x2="417.50" y2="92.30" stroke="#000" stroke-width="1.0" />
<text x="397.1" y="95.3" font-size="8.6" font-weight="700"><tspan textLength="10.3" lengthAdjust="spacingAndGlyphs">10</tspan><tspan font-size="5.6" font-weight="400" dx="0.7" dy="-3.4">-2</tspan></text>
<line x1="415.00" y1="112.57" x2="417.00" y2="112.57" stroke="#000" stroke-width="0.7" />
<line x1="415.00" y1="107.46" x2="417.00" y2="107.46" stroke="#000" stroke-width="0.7" />
<line x1="415.00" y1="103.84" x2="417.00" y2="103.84" stroke="#000" stroke-width="0.7" />
<line x1="415.00" y1="101.03" x2="417.00" y2="101.03" stroke="#000" stroke-width="0.7" />
<line x1="415.00" y1="98.73" x2="417.00" y2="98.73" stroke="#000" stroke-width="0.7" />
<line x1="415.00" y1="96.79" x2="417.00" y2="96.79" stroke="#000" stroke-width="0.7" />
<line x1="415.00" y1="95.11" x2="417.00" y2="95.11" stroke="#000" stroke-width="0.7" />
<line x1="415.00" y1="93.63" x2="417.00" y2="93.63" stroke="#000" stroke-width="0.7" />
<line x1="413.60" y1="121.30" x2="417.50" y2="121.30" stroke="#000" stroke-width="1.0" />
<text x="397.1" y="124.3" font-size="8.6" font-weight="700"><tspan textLength="10.3" lengthAdjust="spacingAndGlyphs">10</tspan><tspan font-size="5.6" font-weight="400" dx="0.7" dy="-3.4">-3</tspan></text>
<line x1="415.00" y1="141.57" x2="417.00" y2="141.57" stroke="#000" stroke-width="0.7" />
<line x1="415.00" y1="136.46" x2="417.00" y2="136.46" stroke="#000" stroke-width="0.7" />
<line x1="415.00" y1="132.84" x2="417.00" y2="132.84" stroke="#000" stroke-width="0.7" />
<line x1="415.00" y1="130.03" x2="417.00" y2="130.03" stroke="#000" stroke-width="0.7" />
<line x1="415.00" y1="127.73" x2="417.00" y2="127.73" stroke="#000" stroke-width="0.7" />
<line x1="415.00" y1="125.79" x2="417.00" y2="125.79" stroke="#000" stroke-width="0.7" />
<line x1="415.00" y1="124.11" x2="417.00" y2="124.11" stroke="#000" stroke-width="0.7" />
<line x1="415.00" y1="122.63" x2="417.00" y2="122.63" stroke="#000" stroke-width="0.7" />
<line x1="413.60" y1="150.30" x2="417.50" y2="150.30" stroke="#000" stroke-width="1.0" />
<text x="397.1" y="153.3" font-size="8.6" font-weight="700"><tspan textLength="10.3" lengthAdjust="spacingAndGlyphs">10</tspan><tspan font-size="5.6" font-weight="400" dx="0.7" dy="-3.4">-4</tspan></text>
<line x1="415.00" y1="170.57" x2="417.00" y2="170.57" stroke="#000" stroke-width="0.7" />
<line x1="415.00" y1="165.46" x2="417.00" y2="165.46" stroke="#000" stroke-width="0.7" />
<line x1="415.00" y1="161.84" x2="417.00" y2="161.84" stroke="#000" stroke-width="0.7" />
<line x1="415.00" y1="159.03" x2="417.00" y2="159.03" stroke="#000" stroke-width="0.7" />
<line x1="415.00" y1="156.73" x2="417.00" y2="156.73" stroke="#000" stroke-width="0.7" />
<line x1="415.00" y1="154.79" x2="417.00" y2="154.79" stroke="#000" stroke-width="0.7" />
<line x1="415.00" y1="153.11" x2="417.00" y2="153.11" stroke="#000" stroke-width="0.7" />
<line x1="415.00" y1="151.63" x2="417.00" y2="151.63" stroke="#000" stroke-width="0.7" />
<line x1="413.60" y1="179.30" x2="417.50" y2="179.30" stroke="#000" stroke-width="1.0" />
<text x="397.1" y="182.3" font-size="8.6" font-weight="700"><tspan textLength="10.3" lengthAdjust="spacingAndGlyphs">10</tspan><tspan font-size="5.6" font-weight="400" dx="0.7" dy="-3.4">-5</tspan></text>
<line x1="415.00" y1="199.57" x2="417.00" y2="199.57" stroke="#000" stroke-width="0.7" />
<line x1="415.00" y1="194.46" x2="417.00" y2="194.46" stroke="#000" stroke-width="0.7" />
<line x1="415.00" y1="190.84" x2="417.00" y2="190.84" stroke="#000" stroke-width="0.7" />
<line x1="415.00" y1="188.03" x2="417.00" y2="188.03" stroke="#000" stroke-width="0.7" />
<line x1="415.00" y1="185.73" x2="417.00" y2="185.73" stroke="#000" stroke-width="0.7" />
<line x1="415.00" y1="183.79" x2="417.00" y2="183.79" stroke="#000" stroke-width="0.7" />
<line x1="415.00" y1="182.11" x2="417.00" y2="182.11" stroke="#000" stroke-width="0.7" />
<line x1="415.00" y1="180.63" x2="417.00" y2="180.63" stroke="#000" stroke-width="0.7" />
<line x1="413.60" y1="208.30" x2="417.50" y2="208.30" stroke="#000" stroke-width="1.0" />
<text x="397.1" y="211.3" font-size="8.6" font-weight="700"><tspan textLength="10.3" lengthAdjust="spacingAndGlyphs">10</tspan><tspan font-size="5.6" font-weight="400" dx="0.7" dy="-3.4">-6</tspan></text>
<line x1="416.40" y1="208.30" x2="456.60" y2="208.30" stroke="#000" stroke-width="1.2" />
<line x1="426.50" y1="208.30" x2="426.50" y2="211.30" stroke="#000" stroke-width="1.0" />
<line x1="446.30" y1="208.30" x2="446.30" y2="211.30" stroke="#000" stroke-width="1.0" />
<line x1="426.50" y1="96.50" x2="446.30" y2="181.90" stroke="#222" stroke-width="0.6" />
<line x1="426.50" y1="99.20" x2="446.30" y2="183.60" stroke="#222" stroke-width="0.6" />
<line x1="426.50" y1="114.80" x2="446.30" y2="159.00" stroke="#222" stroke-width="0.6" />
<line x1="426.50" y1="118.20" x2="446.30" y2="166.70" stroke="#222" stroke-width="0.6" />
<line x1="426.50" y1="122.00" x2="446.30" y2="171.10" stroke="#222" stroke-width="0.6" />
<line x1="426.50" y1="126.40" x2="446.30" y2="172.90" stroke="#222" stroke-width="0.6" />
<line x1="426.50" y1="131.60" x2="446.30" y2="191.90" stroke="#222" stroke-width="0.6" />
<line x1="426.50" y1="140.50" x2="446.30" y2="170.00" stroke="#222" stroke-width="0.6" />
<circle cx="426.5" cy="96.5" r="1.95" fill="#fff" stroke="#000" stroke-width="0.7"/>
<circle cx="426.5" cy="99.2" r="1.95" fill="#fff" stroke="#000" stroke-width="0.7"/>
<circle cx="426.5" cy="114.8" r="1.95" fill="#fff" stroke="#000" stroke-width="0.7"/>
<circle cx="426.5" cy="118.2" r="1.95" fill="#fff" stroke="#000" stroke-width="0.7"/>
<circle cx="426.5" cy="122.0" r="1.95" fill="#fff" stroke="#000" stroke-width="0.7"/>
<circle cx="426.5" cy="126.4" r="1.95" fill="#fff" stroke="#000" stroke-width="0.7"/>
<circle cx="426.5" cy="131.6" r="1.95" fill="#fff" stroke="#000" stroke-width="0.7"/>
<circle cx="426.5" cy="140.5" r="1.95" fill="#fff" stroke="#000" stroke-width="0.7"/>
<circle cx="446.3" cy="159.0" r="2.4" fill="#000"/>
<circle cx="446.3" cy="166.7" r="2.4" fill="#000"/>
<circle cx="446.3" cy="171.1" r="2.4" fill="#000"/>
<circle cx="446.3" cy="172.9" r="2.4" fill="#000"/>
<circle cx="446.3" cy="181.9" r="2.4" fill="#000"/>
<circle cx="446.3" cy="183.6" r="2.4" fill="#000"/>
<circle cx="446.3" cy="191.9" r="2.4" fill="#000"/>
<circle cx="446.3" cy="170.0" r="2.4" fill="#000"/>
<text x="435.8" y="92.5" font-size="20.5" font-weight="700" text-anchor="middle" fill="#000" >**</text>
<text transform="translate(429.1,221.3) rotate(-45)" font-size="9.2" font-weight="700" text-anchor="end" >Sal</text>
<text transform="translate(448.9,221.3) rotate(-45)" font-size="9.2" font-weight="700" text-anchor="end" >Musc</text>
<text transform="translate(394.5,151.5) rotate(-90)" font-size="10.8" font-weight="700" text-anchor="middle" textLength="61" lengthAdjust="spacingAndGlyphs">Power [mV<tspan font-size="7" dy="-4">2</tspan><tspan dy="4">]</tspan></text>
<line x1="416.80" y1="350.80" x2="416.80" y2="471.60" stroke="#000" stroke-width="1.2" />
<line x1="413.40" y1="351.30" x2="417.30" y2="351.30" stroke="#000" stroke-width="1.0" />
<text x="396.9" y="354.3" font-size="8.6" font-weight="700"><tspan textLength="10.3" lengthAdjust="spacingAndGlyphs">10</tspan><tspan font-size="5.6" font-weight="400" dx="0.7" dy="-3.4">-2</tspan></text>
<line x1="414.80" y1="372.32" x2="416.80" y2="372.32" stroke="#000" stroke-width="0.7" />
<line x1="414.80" y1="367.03" x2="416.80" y2="367.03" stroke="#000" stroke-width="0.7" />
<line x1="414.80" y1="363.27" x2="416.80" y2="363.27" stroke="#000" stroke-width="0.7" />
<line x1="414.80" y1="360.35" x2="416.80" y2="360.35" stroke="#000" stroke-width="0.7" />
<line x1="414.80" y1="357.97" x2="416.80" y2="357.97" stroke="#000" stroke-width="0.7" />
<line x1="414.80" y1="355.96" x2="416.80" y2="355.96" stroke="#000" stroke-width="0.7" />
<line x1="414.80" y1="354.21" x2="416.80" y2="354.21" stroke="#000" stroke-width="0.7" />
<line x1="414.80" y1="352.68" x2="416.80" y2="352.68" stroke="#000" stroke-width="0.7" />
<line x1="413.40" y1="381.38" x2="417.30" y2="381.38" stroke="#000" stroke-width="1.0" />
<text x="396.9" y="384.4" font-size="8.6" font-weight="700"><tspan textLength="10.3" lengthAdjust="spacingAndGlyphs">10</tspan><tspan font-size="5.6" font-weight="400" dx="0.7" dy="-3.4">-3</tspan></text>
<line x1="414.80" y1="402.40" x2="416.80" y2="402.40" stroke="#000" stroke-width="0.7" />
<line x1="414.80" y1="397.10" x2="416.80" y2="397.10" stroke="#000" stroke-width="0.7" />
<line x1="414.80" y1="393.34" x2="416.80" y2="393.34" stroke="#000" stroke-width="0.7" />
<line x1="414.80" y1="390.43" x2="416.80" y2="390.43" stroke="#000" stroke-width="0.7" />
<line x1="414.80" y1="388.05" x2="416.80" y2="388.05" stroke="#000" stroke-width="0.7" />
<line x1="414.80" y1="386.03" x2="416.80" y2="386.03" stroke="#000" stroke-width="0.7" />
<line x1="414.80" y1="384.29" x2="416.80" y2="384.29" stroke="#000" stroke-width="0.7" />
<line x1="414.80" y1="382.75" x2="416.80" y2="382.75" stroke="#000" stroke-width="0.7" />
<line x1="413.40" y1="411.45" x2="417.30" y2="411.45" stroke="#000" stroke-width="1.0" />
<text x="396.9" y="414.5" font-size="8.6" font-weight="700"><tspan textLength="10.3" lengthAdjust="spacingAndGlyphs">10</tspan><tspan font-size="5.6" font-weight="400" dx="0.7" dy="-3.4">-4</tspan></text>
<line x1="414.80" y1="432.47" x2="416.80" y2="432.47" stroke="#000" stroke-width="0.7" />
<line x1="414.80" y1="427.18" x2="416.80" y2="427.18" stroke="#000" stroke-width="0.7" />
<line x1="414.80" y1="423.42" x2="416.80" y2="423.42" stroke="#000" stroke-width="0.7" />
<line x1="414.80" y1="420.50" x2="416.80" y2="420.50" stroke="#000" stroke-width="0.7" />
<line x1="414.80" y1="418.12" x2="416.80" y2="418.12" stroke="#000" stroke-width="0.7" />
<line x1="414.80" y1="416.11" x2="416.80" y2="416.11" stroke="#000" stroke-width="0.7" />
<line x1="414.80" y1="414.36" x2="416.80" y2="414.36" stroke="#000" stroke-width="0.7" />
<line x1="414.80" y1="412.83" x2="416.80" y2="412.83" stroke="#000" stroke-width="0.7" />
<line x1="413.40" y1="441.53" x2="417.30" y2="441.53" stroke="#000" stroke-width="1.0" />
<text x="396.9" y="444.5" font-size="8.6" font-weight="700"><tspan textLength="10.3" lengthAdjust="spacingAndGlyphs">10</tspan><tspan font-size="5.6" font-weight="400" dx="0.7" dy="-3.4">-5</tspan></text>
<line x1="414.80" y1="462.55" x2="416.80" y2="462.55" stroke="#000" stroke-width="0.7" />
<line x1="414.80" y1="457.25" x2="416.80" y2="457.25" stroke="#000" stroke-width="0.7" />
<line x1="414.80" y1="453.49" x2="416.80" y2="453.49" stroke="#000" stroke-width="0.7" />
<line x1="414.80" y1="450.58" x2="416.80" y2="450.58" stroke="#000" stroke-width="0.7" />
<line x1="414.80" y1="448.20" x2="416.80" y2="448.20" stroke="#000" stroke-width="0.7" />
<line x1="414.80" y1="446.18" x2="416.80" y2="446.18" stroke="#000" stroke-width="0.7" />
<line x1="414.80" y1="444.44" x2="416.80" y2="444.44" stroke="#000" stroke-width="0.7" />
<line x1="414.80" y1="442.90" x2="416.80" y2="442.90" stroke="#000" stroke-width="0.7" />
<line x1="413.40" y1="471.60" x2="417.30" y2="471.60" stroke="#000" stroke-width="1.0" />
<text x="396.9" y="474.6" font-size="8.6" font-weight="700"><tspan textLength="10.3" lengthAdjust="spacingAndGlyphs">10</tspan><tspan font-size="5.6" font-weight="400" dx="0.7" dy="-3.4">-6</tspan></text>
<line x1="416.20" y1="471.60" x2="460.40" y2="471.60" stroke="#000" stroke-width="1.2" />
<line x1="427.90" y1="471.60" x2="427.90" y2="474.60" stroke="#000" stroke-width="1.0" />
<line x1="449.90" y1="471.60" x2="449.90" y2="474.60" stroke="#000" stroke-width="1.0" />
<line x1="427.90" y1="396.60" x2="449.90" y2="432.10" stroke="#222" stroke-width="0.6" />
<line x1="427.90" y1="399.20" x2="449.90" y2="425.10" stroke="#222" stroke-width="0.6" />
<line x1="427.90" y1="409.30" x2="449.90" y2="436.70" stroke="#222" stroke-width="0.6" />
<line x1="427.90" y1="420.30" x2="449.90" y2="441.60" stroke="#222" stroke-width="0.6" />
<line x1="427.90" y1="424.70" x2="449.90" y2="444.90" stroke="#222" stroke-width="0.6" />
<line x1="427.90" y1="426.20" x2="449.90" y2="439.40" stroke="#222" stroke-width="0.6" />
<line x1="427.90" y1="427.70" x2="449.90" y2="452.50" stroke="#222" stroke-width="0.6" />
<line x1="427.90" y1="398.00" x2="449.90" y2="435.00" stroke="#222" stroke-width="0.6" />
<path d="M425.3,394.3L430.5,394.3L427.9,398.9Z" fill="#fff" stroke="#000" stroke-width="0.7"/>
<path d="M425.3,396.9L430.5,396.9L427.9,401.5Z" fill="#fff" stroke="#000" stroke-width="0.7"/>
<path d="M425.3,407.0L430.5,407.0L427.9,411.6Z" fill="#fff" stroke="#000" stroke-width="0.7"/>
<path d="M425.3,418.0L430.5,418.0L427.9,422.6Z" fill="#fff" stroke="#000" stroke-width="0.7"/>
<path d="M425.3,422.4L430.5,422.4L427.9,427.0Z" fill="#fff" stroke="#000" stroke-width="0.7"/>
<path d="M425.3,423.9L430.5,423.9L427.9,428.5Z" fill="#fff" stroke="#000" stroke-width="0.7"/>
<path d="M425.3,425.4L430.5,425.4L427.9,430.0Z" fill="#fff" stroke="#000" stroke-width="0.7"/>
<path d="M425.3,395.7L430.5,395.7L427.9,400.3Z" fill="#fff" stroke="#000" stroke-width="0.7"/>
<path d="M446.9,422.5L452.8,422.5L449.9,427.7Z" fill="#000"/>
<path d="M446.9,429.5L452.8,429.5L449.9,434.7Z" fill="#000"/>
<path d="M446.9,432.4L452.8,432.4L449.9,437.6Z" fill="#000"/>
<path d="M446.9,434.1L452.8,434.1L449.9,439.3Z" fill="#000"/>
<path d="M446.9,436.8L452.8,436.8L449.9,442.0Z" fill="#000"/>
<path d="M446.9,439.0L452.8,439.0L449.9,444.2Z" fill="#000"/>
<path d="M446.9,442.3L452.8,442.3L449.9,447.5Z" fill="#000"/>
<path d="M446.9,449.9L452.8,449.9L449.9,455.1Z" fill="#000"/>
<text x="438.7" y="387.0" font-size="20.5" font-weight="700" text-anchor="middle" fill="#000" >**</text>
<text transform="translate(430.5,484.6) rotate(-45)" font-size="9.2" font-weight="700" text-anchor="end" >Sal</text>
<text transform="translate(452.5,484.6) rotate(-45)" font-size="9.2" font-weight="700" text-anchor="end" >Musc</text>
<text transform="translate(394.5,411.3) rotate(-90)" font-size="10.8" font-weight="700" text-anchor="middle" textLength="64.8" lengthAdjust="spacingAndGlyphs">Power [mV<tspan font-size="7" dy="-4">2</tspan><tspan dy="4">]</tspan></text>
<line x1="492.20" y1="95.10" x2="492.20" y2="127.70" stroke="#000" stroke-width="1.3" />
<path d="M489.2,97.3L495.2,97.3L492.2,90.1Z" fill="#000"/>
<line x1="491.60" y1="127.70" x2="678.60" y2="127.70" stroke="#000" stroke-width="1.3" />
<path d="M675.8,124.7L675.8,130.7L683.6,127.7Z" fill="#000"/>
<line x1="491.30" y1="174.30" x2="491.30" y2="207.40" stroke="#000" stroke-width="1.3" />
<path d="M488.3,176.5L494.3,176.5L491.3,169.3Z" fill="#000"/>
<line x1="490.70" y1="207.40" x2="677.50" y2="207.40" stroke="#000" stroke-width="1.3" />
<path d="M674.7,204.4L674.7,210.4L682.5,207.4Z" fill="#000"/>
<path d="M491.2,117.6L491.6,116.6L491.9,113.6L492.3,105.0L492.6,119.1L493.0,99.0L493.3,125.9L493.7,115.0L494.1,116.1L494.4,118.6L494.8,116.8L495.1,100.8L495.5,115.1L495.9,112.4L496.2,113.2L496.6,114.5L496.9,111.9L497.3,114.6L497.6,126.3L498.0,111.9L498.4,113.7L498.7,116.6L499.1,115.4L499.4,116.7L499.8,115.7L500.2,118.9L500.5,118.5L500.9,114.6L501.2,111.9L501.6,111.1L501.9,115.2L502.3,118.5L502.7,126.0L503.0,118.0L503.4,119.9L503.7,114.1L504.1,116.3L504.5,105.9L504.8,111.6L505.2,113.3L505.5,115.1L505.9,99.2L506.2,116.8L506.6,112.1L507.0,113.3L507.3,125.4L507.7,117.9L508.0,119.1L508.4,116.6L508.7,118.0L509.1,98.5L509.5,125.5L509.8,117.1L510.2,114.3L510.5,104.0L510.9,112.6L511.3,125.3L511.6,114.5L512.0,116.5L512.3,102.4L512.7,117.2L513.0,110.0L513.4,116.7L513.8,120.0L514.1,118.7L514.5,108.8L514.8,117.8L515.2,118.2L515.6,118.4L515.9,120.8L516.3,118.6L516.6,117.9L517.0,116.4L517.3,118.8L517.7,118.2L518.1,112.2L518.4,117.8L518.8,120.4L519.1,118.5L519.5,116.5L519.9,118.5L520.2,119.9L520.6,120.8L520.9,119.2L521.3,120.3L521.6,120.0L522.0,120.8L522.4,121.2L522.7,122.6L523.1,125.8L523.4,125.8L523.8,121.1L524.1,118.6L524.5,118.9L524.9,122.6L525.2,123.4L525.6,124.2L525.9,126.2L526.3,124.7L526.7,125.2L527.0,124.9L527.4,125.0L527.7,125.1L528.1,123.0L528.4,126.5L528.8,125.2L529.2,125.4L529.5,125.1L529.9,126.3L530.2,123.3L530.6,124.8L531.0,124.8L531.3,124.4L531.7,124.9L532.0,124.8L532.4,124.9L532.7,123.3L533.1,124.5L533.5,125.0L533.8,124.5L534.2,124.5L534.5,126.4L534.9,124.8L535.3,126.4L535.6,122.8L536.0,125.2L536.3,124.6L536.7,125.0L537.0,124.6L537.4,124.9L537.8,124.9L538.1,122.5L538.5,124.2L538.8,123.5L539.2,124.4L539.6,124.0L539.9,124.3L540.3,121.0L540.6,123.6L541.0,123.1L541.3,122.1L541.7,122.9L542.1,121.6L542.4,119.1L542.8,122.3L543.1,121.6L543.5,122.5L543.8,123.2L544.2,122.3L544.6,117.2L544.9,124.0L545.3,124.6L545.6,123.9L546.0,123.7L546.4,123.7L546.8,123.0L547.2,126.1L547.5,123.6L547.9,120.0L548.3,122.8L548.7,121.2L549.1,123.5L549.5,124.2L549.9,124.0L550.3,126.4L550.7,120.4L551.1,121.8L551.5,123.3L551.9,121.7L552.3,123.1L552.7,121.8L553.1,115.3L553.5,120.1L553.9,121.1L554.3,126.2L554.7,122.7L555.1,120.9L555.5,122.2L555.9,122.4L556.3,121.7L556.7,121.0L557.0,121.8L557.4,121.5L557.8,126.2L558.2,118.4L558.6,119.9L559.0,118.2L559.4,119.4L559.8,117.9L560.2,115.9L560.6,115.8L561.0,114.0L561.4,112.6L561.8,111.8L562.2,113.4L562.6,113.1L563.0,112.8L563.4,112.3L563.8,112.7L564.2,113.2L564.6,115.8L565.0,109.4L565.4,104.4L565.8,115.6L566.2,114.3L566.5,113.4L566.9,113.0L567.3,116.0L567.7,114.4L568.1,116.1L568.5,114.9L568.9,106.2L569.3,125.0L569.7,117.8L570.1,114.1L570.5,124.7L570.9,117.7L571.3,117.4L571.7,114.6L572.1,116.2L572.5,124.6L572.9,110.7L573.3,110.4L573.7,108.8L574.1,114.7L574.5,111.7L574.9,116.1L575.3,119.2L575.7,124.6L576.0,112.1L576.4,114.5L576.8,115.2L577.2,116.6L577.6,119.2L578.0,118.0L578.4,117.8L578.8,107.8L579.2,117.7L579.6,114.0L580.0,112.4L580.4,112.7L580.8,111.9L581.2,115.1L581.6,125.1L582.0,116.8L582.4,115.8L582.8,112.8L583.2,116.7L583.6,118.3L584.0,116.8L584.4,114.0L584.8,115.1L585.2,117.0L585.6,119.8L585.9,120.0L586.3,114.6L586.7,115.0L587.1,118.4L587.5,125.2L587.9,113.5L588.3,115.5L588.7,113.4L589.1,124.6L589.5,111.3L589.9,112.3L590.3,126.2L590.7,115.5L591.1,115.8L591.5,116.8L591.9,116.1L592.3,117.0L592.7,115.1L593.1,102.1L593.5,113.6L593.9,116.3L594.3,117.2L594.7,115.3L595.1,112.5L595.4,101.6L595.8,115.7L596.2,113.5L596.6,111.3L597.0,114.3L597.4,117.1L597.8,114.6L598.2,106.7L598.6,110.4L599.0,110.6L599.4,114.8L599.8,117.8L600.2,119.0L600.6,114.1L601.0,111.9L601.4,111.4L601.8,109.9L602.2,114.5L602.6,125.4L603.0,115.9L603.4,125.4L603.8,115.7L604.2,114.4L604.6,115.1L604.9,116.3L605.3,119.4L605.7,114.4L606.1,116.3L606.5,113.1L606.9,102.7L607.3,112.9L607.8,107.3L608.2,117.0L608.6,113.1L609.0,112.3L609.5,114.1L609.9,115.0L610.3,117.2L610.7,119.0L611.2,116.6L611.6,116.1L612.0,113.0L612.4,117.6L612.9,118.8L613.3,119.6L613.7,119.3L614.1,118.8L614.6,118.9L615.0,115.4L615.4,116.8L615.8,118.0L616.3,116.6L616.7,125.4L617.1,116.4L617.5,115.0L618.0,113.2L618.4,113.4L618.8,105.7L619.3,111.9L619.7,126.1L620.1,125.9L620.5,113.0L621.0,112.9L621.4,114.5L621.8,111.9L622.2,113.9L622.7,117.8L623.1,115.2L623.5,112.2L623.9,116.9L624.4,114.4L624.8,116.1L625.2,126.0L625.6,118.5L626.1,108.7L626.5,105.1L626.9,124.9L627.3,115.0L627.8,114.4L628.2,113.4L628.6,114.3L629.0,113.4L629.5,113.9L629.9,117.8L630.3,117.9L630.7,116.9L631.2,115.8L631.6,118.6L632.0,105.4L632.5,118.4L632.9,120.3L633.3,118.8L633.7,115.5L634.2,118.3L634.6,115.2L635.0,113.9L635.4,117.8L635.9,115.8L636.3,115.6L636.7,116.5L637.1,113.6L637.6,116.5L638.0,108.4L638.4,115.7L638.8,119.0L639.3,116.4L639.7,115.7L640.1,118.2L640.5,116.7L641.0,113.8L641.4,115.6L641.8,113.6L642.2,116.4L642.7,126.5L643.1,125.7L643.5,117.5L643.9,116.7L644.4,118.7L644.8,118.4L645.2,115.2L645.6,125.2L646.1,116.6L646.5,114.0L646.9,117.6L647.4,120.0L647.8,118.0L648.2,110.1L648.6,119.2L649.1,120.0L649.5,119.9L649.9,118.7L650.3,125.5L650.8,121.4L651.2,122.0L651.6,121.5L652.0,122.4L652.5,126.5L652.9,121.0L653.3,121.5L653.7,126.1L654.2,122.1L654.6,117.6L655.0,123.8L655.4,122.1L655.9,120.1L656.3,118.4L656.7,118.6L657.1,114.9L657.6,111.8L658.0,118.8L658.4,120.1L658.8,118.2L659.3,118.7L659.7,118.4L660.1,115.9L660.5,119.1L661.0,121.4L661.4,122.0L661.8,122.3L662.3,119.2L662.7,105.9L663.1,113.9L663.5,117.1L664.0,114.3L664.4,113.0L664.8,114.2L665.2,115.1L665.7,114.3L666.1,118.1L666.5,118.8L666.9,115.2L667.4,117.6L667.8,126.4L668.2,103.5L668.6,112.2L669.1,112.0L669.5,114.3L669.9,116.5L670.3,114.3L670.8,126.2L671.2,120.4L671.6,121.4L672.0,117.7L672.5,115.7" fill="none" stroke="#7a7a7a" stroke-width="0.42" stroke-linejoin="round"/>
<path d="M491.2,205.4L491.6,201.7L491.9,202.1L492.3,200.3L492.6,199.4L493.0,194.8L493.3,200.9L493.7,200.7L494.1,199.3L494.4,199.7L494.8,200.9L495.1,200.4L495.5,205.7L495.9,202.0L496.2,201.4L496.6,199.6L496.9,199.7L497.3,200.0L497.6,192.6L498.0,200.5L498.4,198.7L498.7,201.0L499.1,200.5L499.4,205.7L499.8,199.4L500.2,194.7L500.5,197.8L500.9,198.8L501.2,197.3L501.6,197.5L501.9,197.4L502.3,193.6L502.7,199.0L503.0,205.2L503.4,200.8L503.7,201.6L504.1,195.3L504.5,202.1L504.8,196.3L505.2,202.4L505.5,202.4L505.9,202.1L506.2,196.2L506.6,205.8L507.0,205.6L507.3,203.1L507.7,201.8L508.0,203.0L508.4,199.1L508.7,203.2L509.1,202.9L509.5,203.0L509.8,203.8L510.2,203.2L510.5,203.9L510.9,203.2L511.3,206.0L511.6,204.2L512.0,204.5L512.3,203.8L512.7,204.6L513.0,206.2L513.4,204.1L513.8,203.2L514.1,202.9L514.5,202.5L514.8,202.5L515.2,205.8L515.6,201.6L515.9,203.9L516.3,203.9L516.6,203.3L517.0,202.9L517.3,204.1L517.7,204.4L518.1,205.8L518.4,203.7L518.8,206.1L519.1,203.4L519.5,205.9L519.9,202.3L520.2,200.4L520.6,202.6L520.9,202.3L521.3,203.3L521.6,203.1L522.0,201.5L522.4,201.9L522.7,201.4L523.1,202.8L523.4,203.7L523.8,203.6L524.1,203.8L524.5,204.3L524.9,204.8L525.2,203.1L525.6,204.8L525.9,204.7L526.3,205.0L526.7,205.4L527.0,205.5L527.4,205.5L527.7,206.1L528.1,205.3L528.4,205.0L528.8,206.2L529.2,205.5L529.5,204.9L529.9,204.9L530.2,206.1L530.6,204.7L531.0,204.4L531.3,204.4L531.7,204.2L532.0,203.3L532.4,204.8L532.7,204.5L533.1,203.0L533.5,204.3L533.8,205.0L534.2,204.6L534.5,204.9L534.9,203.3L535.3,206.0L535.6,205.2L536.0,205.4L536.3,205.1L536.7,205.4L537.0,204.7L537.4,204.8L537.8,204.9L538.1,204.6L538.5,204.6L538.8,204.8L539.2,204.9L539.6,204.9L539.9,205.2L540.3,204.5L540.6,204.9L541.0,206.1L541.3,204.3L541.7,202.6L542.1,204.0L542.4,204.2L542.8,206.2L543.1,205.1L543.5,204.7L543.8,205.0L544.2,204.3L544.6,204.8L544.9,204.5L545.3,202.1L545.6,202.9L546.0,201.2L546.4,202.1L546.8,202.9L547.2,203.4L547.5,198.8L547.9,202.4L548.3,201.8L548.7,200.7L549.1,198.7L549.5,201.7L549.9,202.9L550.3,202.4L550.7,201.1L551.1,201.1L551.5,200.9L551.9,200.2L552.3,199.8L552.7,205.6L553.1,199.5L553.5,201.6L553.9,201.6L554.3,196.5L554.7,206.1L555.1,202.7L555.5,200.5L555.9,205.7L556.3,197.8L556.7,199.3L557.0,197.8L557.4,199.8L557.8,198.5L558.2,199.8L558.6,198.0L559.0,199.7L559.4,200.3L559.8,200.6L560.2,199.0L560.6,200.6L561.0,205.5L561.4,197.3L561.8,190.0L562.2,200.7L562.6,206.2L563.0,199.6L563.4,196.0L563.8,197.1L564.2,198.2L564.6,197.1L565.0,199.6L565.4,198.6L565.8,199.0L566.2,196.9L566.5,196.1L566.9,194.0L567.3,184.0L567.7,196.5L568.1,198.7L568.5,197.9L568.9,197.7L569.3,195.3L569.7,198.0L570.1,196.0L570.5,205.2L570.9,196.8L571.3,199.3L571.7,198.3L572.1,196.5L572.5,193.8L572.9,194.7L573.3,195.3L573.7,198.7L574.1,200.5L574.5,205.7L574.9,194.2L575.3,193.9L575.7,194.3L576.0,196.9L576.4,192.9L576.8,192.5L577.2,189.5L577.6,189.9L578.0,194.9L578.4,194.2L578.8,190.5L579.2,191.3L579.6,193.3L580.0,196.5L580.4,193.5L580.8,191.1L581.2,189.3L581.6,176.4L582.0,197.9L582.4,199.4L582.8,193.1L583.2,190.2L583.6,187.4L584.0,204.6L584.4,189.6L584.8,206.2L585.2,188.3L585.6,204.4L585.9,194.4L586.3,195.4L586.7,198.3L587.1,193.0L587.5,189.7L587.9,187.3L588.3,188.6L588.7,188.9L589.1,195.1L589.5,197.5L589.9,186.1L590.3,193.5L590.7,192.1L591.1,191.3L591.5,193.0L591.9,189.8L592.3,190.7L592.7,194.3L593.1,197.1L593.5,195.1L593.9,197.6L594.3,205.1L594.7,197.0L595.1,182.9L595.4,194.6L595.8,192.8L596.2,195.7L596.6,198.0L597.0,205.6L597.4,182.2L597.8,192.5L598.2,205.6L598.6,183.3L599.0,191.0L599.4,195.8L599.8,195.4L600.2,205.7L600.6,198.3L601.0,200.6L601.4,198.7L601.8,194.5L602.2,198.0L602.6,196.2L603.0,185.2L603.4,184.6L603.8,184.5L604.2,198.9L604.6,195.7L604.9,194.8L605.3,205.4L605.7,193.0L606.1,197.3L606.5,196.7L606.9,199.6L607.3,197.1L607.8,194.6L608.2,193.2L608.6,193.3L609.0,195.0L609.5,193.9L609.9,193.2L610.3,195.7L610.7,195.5L611.2,205.2L611.6,194.2L612.0,192.7L612.4,196.6L612.9,194.5L613.3,195.3L613.7,195.6L614.1,193.1L614.6,195.6L615.0,205.4L615.4,194.0L615.8,195.9L616.3,198.2L616.7,198.4L617.1,196.8L617.5,194.3L618.0,196.6L618.4,197.5L618.8,194.1L619.3,192.8L619.7,193.2L620.1,194.0L620.5,205.7L621.0,200.4L621.4,200.7L621.8,196.9L622.2,197.4L622.7,196.1L623.1,204.8L623.5,189.1L623.9,199.4L624.4,197.3L624.8,195.0L625.2,194.7L625.6,195.2L626.1,198.9L626.5,205.8L626.9,205.2L627.3,195.5L627.8,193.8L628.2,194.3L628.6,198.4L629.0,198.8L629.5,189.7L629.9,198.1L630.3,196.8L630.7,200.1L631.2,196.3L631.6,206.1L632.0,197.7L632.5,200.2L632.9,201.9L633.3,201.6L633.7,202.6L634.2,205.7L634.6,203.3L635.0,200.6L635.4,193.2L635.9,196.6L636.3,195.4L636.7,195.0L637.1,205.3L637.6,195.3L638.0,194.7L638.4,194.3L638.8,196.5L639.3,196.3L639.7,196.6L640.1,197.3L640.5,191.9L641.0,205.0L641.4,206.1L641.8,190.1L642.2,199.5L642.7,200.3L643.1,199.3L643.5,198.3L643.9,205.7L644.4,196.3L644.8,199.0L645.2,199.4L645.6,197.9L646.1,191.5L646.5,199.8L646.9,200.3L647.4,202.0L647.8,202.4L648.2,202.5L648.6,199.4L649.1,199.2L649.5,191.4L649.9,198.8L650.3,198.0L650.8,199.7L651.2,205.5L651.6,199.9L652.0,199.2L652.5,198.7L652.9,199.9L653.3,193.3L653.7,202.5L654.2,200.7L654.6,200.6L655.0,202.2L655.4,202.8L655.9,202.8L656.3,201.8L656.7,199.8L657.1,205.9L657.6,202.4L658.0,201.1L658.4,200.8L658.8,199.6L659.3,198.4L659.7,198.8L660.1,198.2L660.5,198.2L661.0,201.0L661.4,192.5L661.8,199.5L662.3,206.0L662.7,199.3L663.1,195.9L663.5,200.4L664.0,201.2L664.4,199.4L664.8,205.2L665.2,205.8L665.7,201.2L666.1,198.5L666.5,198.1L666.9,196.9L667.4,205.6L667.8,196.3L668.2,205.5L668.6,197.7L669.1,199.6L669.5,201.2L669.9,200.0L670.3,205.8L670.8,206.0L671.2,200.6L671.6,202.1L672.0,198.9L672.5,197.6" fill="none" stroke="#7a7a7a" stroke-width="0.42" stroke-linejoin="round"/>
<line x1="491.30" y1="207.40" x2="491.30" y2="210.60" stroke="#000" stroke-width="1.0" />
<text x="491.3" y="218.6" font-size="8.6" font-weight="700" text-anchor="middle" fill="#000" textLength="5.1" lengthAdjust="spacingAndGlyphs">0</text>
<line x1="546.30" y1="207.40" x2="546.30" y2="210.60" stroke="#000" stroke-width="1.0" />
<text x="546.3" y="218.6" font-size="8.6" font-weight="700" text-anchor="middle" fill="#000" textLength="20.5" lengthAdjust="spacingAndGlyphs">2000</text>
<line x1="607.20" y1="207.40" x2="607.20" y2="210.60" stroke="#000" stroke-width="1.0" />
<text x="607.2" y="218.6" font-size="8.6" font-weight="700" text-anchor="middle" fill="#000" textLength="20.5" lengthAdjust="spacingAndGlyphs">4000</text>
<line x1="672.70" y1="207.40" x2="672.70" y2="210.60" stroke="#000" stroke-width="1.0" />
<text x="672.7" y="218.6" font-size="8.6" font-weight="700" text-anchor="middle" fill="#000" textLength="20.5" lengthAdjust="spacingAndGlyphs">6000</text>
<text x="579.5" y="234.4" font-size="9" font-weight="700" text-anchor="middle" fill="#000" >Time [sec]</text>
<text transform="translate(485.2,109.5) rotate(-90)" font-size="9.2" font-weight="700" text-anchor="middle" >LMA [BB]</text>
<text transform="translate(484.4,188.8) rotate(-90)" font-size="9.2" font-weight="700" text-anchor="middle" >LMA [BB]</text>
<line x1="525.60" y1="91.00" x2="525.60" y2="134.00" stroke="#444" stroke-width="0.8" stroke-dasharray="1.4,1.1"/>
<line x1="525.60" y1="150.00" x2="525.60" y2="207.40" stroke="#444" stroke-width="0.8" stroke-dasharray="1.4,1.1"/>
<line x1="525.60" y1="75.50" x2="525.60" y2="84.50" stroke="#000" stroke-width="1.3" />
<path d="M522.60,83.50 L528.60,83.50 L525.60,90.50 Z" fill="#000"/>
<line x1="525.60" y1="133.50" x2="525.60" y2="144.00" stroke="#000" stroke-width="1.3" />
<path d="M522.60,143.00 L528.60,143.00 L525.60,150.00 Z" fill="#000"/>
<line x1="574.20" y1="91.00" x2="574.20" y2="134.00" stroke="#444" stroke-width="0.8" stroke-dasharray="1.4,1.1"/>
<line x1="574.20" y1="150.00" x2="574.20" y2="207.40" stroke="#444" stroke-width="0.8" stroke-dasharray="1.4,1.1"/>
<line x1="574.20" y1="75.50" x2="574.20" y2="84.50" stroke="#000" stroke-width="1.3" />
<path d="M571.20,83.50 L577.20,83.50 L574.20,90.50 Z" fill="#000"/>
<line x1="574.20" y1="133.50" x2="574.20" y2="144.00" stroke="#000" stroke-width="1.3" />
<path d="M571.20,143.00 L577.20,143.00 L574.20,150.00 Z" fill="#000"/>
<text x="540.5" y="62.2" font-size="8.8" font-weight="400" text-anchor="middle" fill="#222" >MK801</text>
<text x="540.8" y="72.6" font-size="8.8" font-weight="400" text-anchor="middle" fill="#222" >(i.p.)</text>
<text x="597.6" y="61.7" font-size="8.8" font-weight="400" text-anchor="middle" fill="#222" >Sal</text>
<text x="597.5" y="72.5" font-size="8.8" font-weight="400" text-anchor="middle" fill="#222" >(OB-inf.)</text>
<text x="543.0" y="140.4" font-size="8.8" font-weight="400" text-anchor="middle" fill="#222" >MK801</text>
<text x="543.2" y="151.2" font-size="8.8" font-weight="400" text-anchor="middle" fill="#222" >(i.p.)</text>
<text x="597.8" y="140.4" font-size="8.8" font-weight="400" text-anchor="middle" fill="#222" >Musc</text>
<text x="597.8" y="151.2" font-size="8.8" font-weight="400" text-anchor="middle" fill="#222" >(OB-inf.)</text>
<line x1="559.40" y1="349.80" x2="559.40" y2="471.10" stroke="#000" stroke-width="1.2" />
<line x1="556.20" y1="471.10" x2="559.40" y2="471.10" stroke="#000" stroke-width="1.0" />
<text x="555.6" y="474.1" font-size="8.3" font-weight="700" text-anchor="end" fill="#000" textLength="5.0" lengthAdjust="spacingAndGlyphs">0</text>
<line x1="556.20" y1="440.90" x2="559.40" y2="440.90" stroke="#000" stroke-width="1.0" />
<text x="555.6" y="443.9" font-size="8.3" font-weight="700" text-anchor="end" fill="#000" textLength="19.9" lengthAdjust="spacingAndGlyphs">2000</text>
<line x1="556.20" y1="410.70" x2="559.40" y2="410.70" stroke="#000" stroke-width="1.0" />
<text x="555.6" y="413.7" font-size="8.3" font-weight="700" text-anchor="end" fill="#000" textLength="19.9" lengthAdjust="spacingAndGlyphs">4000</text>
<line x1="556.20" y1="380.50" x2="559.40" y2="380.50" stroke="#000" stroke-width="1.0" />
<text x="555.6" y="383.5" font-size="8.3" font-weight="700" text-anchor="end" fill="#000" textLength="19.9" lengthAdjust="spacingAndGlyphs">6000</text>
<line x1="556.20" y1="350.30" x2="559.40" y2="350.30" stroke="#000" stroke-width="1.0" />
<text x="555.6" y="353.3" font-size="8.3" font-weight="700" text-anchor="end" fill="#000" textLength="19.9" lengthAdjust="spacingAndGlyphs">8000</text>
<line x1="558.80" y1="471.10" x2="616.50" y2="471.10" stroke="#000" stroke-width="1.2" />
<line x1="573.90" y1="471.10" x2="573.90" y2="474.50" stroke="#000" stroke-width="1.0" />
<line x1="602.10" y1="471.10" x2="602.10" y2="474.50" stroke="#000" stroke-width="1.0" />
<text x="575.6" y="335.9" font-size="10.6" font-weight="700" text-anchor="middle" fill="#000" textLength="72" lengthAdjust="spacingAndGlyphs">LMA post inf.</text>
<text x="586.0" y="381.3" font-size="10.8" font-weight="400" text-anchor="middle" fill="#222" >ns</text>
<text transform="translate(528.0,409.8) rotate(-90)" font-size="9.7" font-weight="700" text-anchor="middle" >BB total</text>
<circle cx="568.7" cy="425.1" r="2.25" fill="#fff" stroke="#000" stroke-width="0.7"/>
<circle cx="572.6" cy="429.0" r="2.25" fill="#fff" stroke="#000" stroke-width="0.7"/>
<circle cx="576.6" cy="430.6" r="2.25" fill="#fff" stroke="#000" stroke-width="0.7"/>
<circle cx="579.6" cy="427.7" r="2.25" fill="#fff" stroke="#000" stroke-width="0.7"/>
<circle cx="570.4" cy="448.1" r="2.25" fill="#fff" stroke="#000" stroke-width="0.7"/>
<circle cx="577.7" cy="451.8" r="2.25" fill="#fff" stroke="#000" stroke-width="0.7"/>
<circle cx="574.2" cy="461.3" r="2.25" fill="#fff" stroke="#000" stroke-width="0.7"/>
<circle cx="602.2" cy="394.8" r="2.6" fill="#000"/>
<circle cx="598.5" cy="423.3" r="2.6" fill="#000"/>
<circle cx="606.0" cy="425.5" r="2.6" fill="#000"/>
<circle cx="602.2" cy="435.4" r="2.6" fill="#000"/>
<circle cx="596.3" cy="460.6" r="2.6" fill="#000"/>
<circle cx="596.3" cy="466.3" r="2.6" fill="#000"/>
<circle cx="602.2" cy="469.0" r="2.6" fill="#000"/>
<circle cx="607.7" cy="468.5" r="2.6" fill="#000"/>
<line x1="565.00" y1="437.80" x2="583.60" y2="437.80" stroke="#000" stroke-width="1.2" />
<line x1="573.90" y1="433.20" x2="573.90" y2="443.10" stroke="#000" stroke-width="1.2" />
<line x1="569.00" y1="433.20" x2="579.00" y2="433.20" stroke="#000" stroke-width="1.2" />
<line x1="569.00" y1="443.10" x2="579.00" y2="443.10" stroke="#000" stroke-width="1.2" />
<line x1="592.80" y1="443.10" x2="611.70" y2="443.10" stroke="#000" stroke-width="1.2" />
<line x1="602.20" y1="433.20" x2="602.20" y2="453.20" stroke="#000" stroke-width="1.2" />
<line x1="597.00" y1="433.20" x2="607.40" y2="433.20" stroke="#000" stroke-width="1.2" />
<line x1="597.00" y1="453.20" x2="607.40" y2="453.20" stroke="#000" stroke-width="1.2" />
<text transform="translate(576.6,484.5) rotate(-45)" font-size="9.2" font-weight="700" text-anchor="end" >Sal</text>
<text transform="translate(604.8,484.8) rotate(-45)" font-size="9.2" font-weight="700" text-anchor="end" >Musc</text>
</svg></body></html>
